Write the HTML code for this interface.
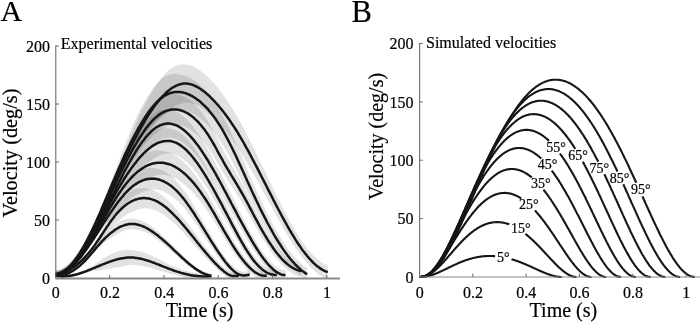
<!DOCTYPE html>
<html lang="en">
<head>
<meta charset="utf-8">
<title>Experimental and simulated velocities</title>
<style>
html,body{margin:0;padding:0;background:#fff;}
body{width:700px;height:322px;overflow:hidden;font-family:"Liberation Serif",serif;}
svg{display:block;transform:translateZ(0);will-change:transform;}
</style>
</head>
<body>
<svg width="700" height="322" viewBox="0 0 700 322">
<rect width="700" height="322" fill="#ffffff"/>
<g fill="#000000" fill-opacity="0.115" stroke="none">
<path d="M55.5,274.1 L56.6,274.3 L57.7,274.5 L58.8,274.6 L59.8,274.7 L60.9,274.8 L62.0,274.8 L63.1,274.8 L64.2,274.8 L65.3,274.8 L66.3,274.7 L67.4,274.6 L68.5,274.4 L69.6,274.3 L70.7,274.1 L71.8,273.9 L72.9,273.7 L73.9,273.4 L75.0,273.2 L76.1,272.9 L77.2,272.6 L78.3,272.3 L79.4,271.9 L80.5,271.6 L81.5,271.2 L82.6,270.8 L83.7,270.3 L84.8,269.9 L85.9,269.4 L87.0,268.9 L88.0,268.4 L89.1,267.9 L90.2,267.3 L91.3,266.7 L92.4,266.0 L93.5,265.3 L94.6,264.6 L95.6,263.9 L96.7,263.1 L97.8,262.3 L98.9,261.5 L100.0,260.7 L101.1,259.9 L102.1,259.1 L103.2,258.4 L104.3,257.7 L105.4,257.0 L106.5,256.4 L107.6,255.8 L108.7,255.2 L109.7,254.7 L110.8,254.2 L111.9,253.7 L113.0,253.2 L114.1,252.7 L115.2,252.3 L116.2,251.8 L117.3,251.4 L118.4,251.1 L119.5,250.7 L120.6,250.4 L121.7,250.2 L122.8,250.0 L123.8,249.9 L124.9,249.8 L126.0,249.8 L127.1,249.8 L128.2,249.8 L129.3,249.8 L130.4,249.9 L131.4,250.0 L132.5,250.1 L133.6,250.2 L134.7,250.3 L135.8,250.5 L136.9,250.7 L137.9,250.9 L139.0,251.2 L140.1,251.5 L141.2,251.8 L142.3,252.1 L143.4,252.5 L144.5,252.8 L145.5,253.2 L146.6,253.6 L147.7,254.1 L148.8,254.5 L149.9,255.0 L151.0,255.5 L152.0,255.9 L153.1,256.4 L154.2,257.0 L155.3,257.5 L156.4,258.0 L157.5,258.5 L158.6,259.1 L159.6,259.6 L160.7,260.2 L161.8,260.7 L162.9,261.3 L164.0,261.8 L165.1,262.3 L166.1,262.9 L167.2,263.4 L168.3,263.9 L169.4,264.4 L170.5,264.9 L171.6,265.4 L172.7,265.9 L173.7,266.4 L174.8,266.8 L175.9,267.3 L177.0,267.7 L178.1,268.1 L179.2,268.5 L180.3,268.9 L181.3,269.3 L182.4,269.7 L183.5,270.0 L184.6,270.4 L185.7,270.7 L186.8,271.0 L187.8,271.3 L188.9,271.5 L190.0,271.8 L191.1,272.0 L192.2,272.3 L193.3,272.5 L194.4,272.7 L195.4,272.8 L196.5,273.0 L197.6,273.1 L198.7,273.2 L199.8,273.3 L200.9,273.4 L201.9,273.5 L203.0,273.5 L204.1,273.6 L205.2,273.6 L206.3,273.6 L207.4,273.5 L208.5,273.5 L209.5,273.4 L210.6,273.3 L211.4,273.2 L211.4,278.6 L210.6,278.6 L209.5,278.6 L208.5,278.6 L207.4,278.6 L206.3,278.6 L205.2,278.6 L204.1,278.6 L203.0,278.6 L201.9,278.6 L200.9,278.6 L199.8,278.6 L198.7,278.6 L197.6,278.6 L196.5,278.6 L195.4,278.6 L194.4,278.6 L193.3,278.6 L192.2,278.4 L191.1,278.3 L190.0,278.1 L188.9,278.0 L187.8,277.8 L186.8,277.6 L185.7,277.4 L184.6,277.2 L183.5,276.9 L182.4,276.7 L181.3,276.5 L180.3,276.2 L179.2,276.0 L178.1,275.7 L177.0,275.4 L175.9,275.2 L174.8,274.9 L173.7,274.6 L172.7,274.3 L171.6,274.0 L170.5,273.7 L169.4,273.4 L168.3,273.1 L167.2,272.7 L166.1,272.4 L165.1,272.1 L164.0,271.8 L162.9,271.4 L161.8,271.1 L160.7,270.8 L159.6,270.5 L158.6,270.2 L157.5,269.8 L156.4,269.5 L155.3,269.2 L154.2,268.9 L153.1,268.6 L152.0,268.3 L151.0,268.0 L149.9,267.8 L148.8,267.5 L147.7,267.2 L146.6,267.0 L145.5,266.7 L144.5,266.5 L143.4,266.3 L142.3,266.1 L141.2,265.9 L140.1,265.7 L139.0,265.6 L137.9,265.5 L136.9,265.3 L135.8,265.2 L134.7,265.2 L133.6,265.1 L132.5,265.1 L131.4,265.1 L130.4,265.1 L129.3,265.2 L128.2,265.3 L127.1,265.5 L126.0,265.7 L124.9,265.9 L123.8,266.1 L122.8,266.3 L121.7,266.5 L120.6,266.7 L119.5,266.9 L118.4,267.1 L117.3,267.2 L116.2,267.4 L115.2,267.6 L114.1,267.8 L113.0,268.0 L111.9,268.2 L110.8,268.5 L109.7,268.7 L108.7,269.0 L107.6,269.2 L106.5,269.4 L105.4,269.6 L104.3,269.8 L103.2,270.0 L102.1,270.1 L101.1,270.3 L100.0,270.4 L98.9,270.5 L97.8,270.5 L96.7,270.7 L95.6,270.8 L94.6,270.9 L93.5,271.1 L92.4,271.3 L91.3,271.6 L90.2,271.8 L89.1,272.1 L88.0,272.4 L87.0,272.8 L85.9,273.1 L84.8,273.4 L83.7,273.8 L82.6,274.1 L81.5,274.5 L80.5,274.8 L79.4,275.1 L78.3,275.4 L77.2,275.7 L76.1,276.0 L75.0,276.3 L73.9,276.6 L72.9,276.8 L71.8,277.0 L70.7,277.2 L69.6,277.4 L68.5,277.5 L67.4,277.6 L66.3,277.7 L65.3,277.8 L64.2,277.9 L63.1,277.9 L62.0,277.9 L60.9,277.8 L59.8,277.8 L58.8,277.7 L57.7,277.5 L56.6,277.4 L55.5,277.2Z"/>
<path d="M55.5,274.0 L56.6,274.1 L57.7,274.2 L58.8,274.2 L59.8,274.1 L60.9,274.0 L62.0,273.9 L63.1,273.7 L64.2,273.4 L65.3,273.1 L66.3,272.8 L67.4,272.4 L68.5,271.9 L69.6,271.4 L70.7,270.9 L71.8,270.3 L72.9,269.7 L73.9,269.0 L75.0,268.3 L76.1,267.5 L77.2,266.7 L78.3,265.9 L79.4,265.0 L80.5,264.0 L81.5,263.0 L82.6,262.0 L83.7,260.9 L84.8,259.8 L85.9,258.6 L87.0,257.4 L88.0,256.1 L89.1,254.8 L90.2,253.5 L91.3,252.1 L92.4,250.7 L93.5,249.2 L94.6,247.8 L95.6,246.3 L96.7,244.8 L97.8,243.3 L98.9,241.8 L100.0,240.3 L101.1,238.9 L102.1,237.5 L103.2,236.1 L104.3,234.8 L105.4,233.6 L106.5,232.4 L107.6,231.2 L108.7,230.1 L109.7,229.1 L110.8,228.1 L111.9,227.2 L113.0,226.2 L114.1,225.4 L115.2,224.5 L116.2,223.7 L117.3,223.0 L118.4,222.3 L119.5,221.6 L120.6,221.0 L121.7,220.5 L122.8,220.1 L123.8,219.7 L124.9,219.4 L126.0,219.1 L127.1,218.9 L128.2,218.8 L129.3,218.7 L130.4,218.6 L131.4,218.6 L132.5,218.7 L133.6,218.8 L134.7,218.9 L135.8,219.1 L136.9,219.3 L137.9,219.5 L139.0,219.9 L140.1,220.2 L141.2,220.6 L142.3,221.0 L143.4,221.5 L144.5,222.0 L145.5,222.6 L146.6,223.2 L147.7,223.8 L148.8,224.5 L149.9,225.2 L151.0,225.9 L152.0,226.7 L153.1,227.5 L154.2,228.3 L155.3,229.2 L156.4,230.0 L157.5,230.9 L158.6,231.9 L159.6,232.8 L160.7,233.8 L161.8,234.7 L162.9,235.7 L164.0,236.8 L165.1,237.8 L166.1,238.8 L167.2,239.9 L168.3,240.9 L169.4,242.0 L170.5,243.1 L171.6,244.2 L172.7,245.3 L173.7,246.4 L174.8,247.5 L175.9,248.6 L177.0,249.7 L178.1,250.8 L179.2,251.9 L180.3,252.9 L181.3,254.0 L182.4,255.1 L183.5,256.1 L184.6,257.2 L185.7,258.2 L186.8,259.2 L187.8,260.2 L188.9,261.1 L190.0,262.1 L191.1,263.0 L192.2,263.9 L193.3,264.8 L194.4,265.6 L195.4,266.4 L196.5,267.2 L197.6,267.9 L198.7,268.6 L199.8,269.3 L200.9,269.9 L201.9,270.5 L203.0,271.1 L204.1,271.6 L205.2,272.1 L206.3,272.5 L207.4,272.8 L208.5,273.2 L209.5,273.4 L210.6,273.7 L211.4,273.8 L211.4,277.7 L210.6,277.6 L209.5,277.4 L208.5,277.1 L207.4,276.8 L206.3,276.5 L205.2,276.1 L204.1,275.7 L203.0,275.2 L201.9,274.7 L200.9,274.2 L199.8,273.6 L198.7,273.0 L197.6,272.3 L196.5,271.7 L195.4,271.0 L194.4,270.2 L193.3,269.5 L192.2,268.7 L191.1,267.9 L190.0,267.1 L188.9,266.2 L187.8,265.4 L186.8,264.5 L185.7,263.6 L184.6,262.7 L183.5,261.8 L182.4,260.8 L181.3,259.9 L180.3,259.0 L179.2,258.0 L178.1,257.0 L177.0,256.1 L175.9,255.1 L174.8,254.2 L173.7,253.2 L172.7,252.2 L171.6,251.3 L170.5,250.3 L169.4,249.4 L168.3,248.4 L167.2,247.5 L166.1,246.6 L165.1,245.7 L164.0,244.8 L162.9,243.9 L161.8,243.0 L160.7,242.2 L159.6,241.3 L158.6,240.5 L157.5,239.7 L156.4,238.9 L155.3,238.2 L154.2,237.4 L153.1,236.7 L152.0,236.0 L151.0,235.4 L149.9,234.7 L148.8,234.1 L147.7,233.6 L146.6,233.0 L145.5,232.5 L144.5,232.0 L143.4,231.6 L142.3,231.1 L141.2,230.8 L140.1,230.4 L139.0,230.1 L137.9,229.9 L136.9,229.7 L135.8,229.5 L134.7,229.4 L133.6,229.3 L132.5,229.3 L131.4,229.3 L130.4,229.4 L129.3,229.5 L128.2,229.8 L127.1,230.0 L126.0,230.3 L124.9,230.7 L123.8,231.1 L122.8,231.5 L121.7,231.9 L120.6,232.4 L119.5,232.9 L118.4,233.4 L117.3,233.9 L116.2,234.5 L115.2,235.1 L114.1,235.8 L113.0,236.5 L111.9,237.2 L110.8,238.0 L109.7,238.8 L108.7,239.6 L107.6,240.5 L106.5,241.3 L105.4,242.2 L104.3,243.1 L103.2,244.0 L102.1,244.9 L101.1,245.8 L100.0,246.8 L98.9,247.8 L97.8,248.8 L96.7,249.8 L95.6,250.9 L94.6,252.0 L93.5,253.1 L92.4,254.2 L91.3,255.4 L90.2,256.6 L89.1,257.7 L88.0,258.9 L87.0,260.0 L85.9,261.2 L84.8,262.3 L83.7,263.3 L82.6,264.4 L81.5,265.3 L80.5,266.3 L79.4,267.2 L78.3,268.1 L77.2,268.9 L76.1,269.7 L75.0,270.5 L73.9,271.2 L72.9,271.9 L71.8,272.5 L70.7,273.1 L69.6,273.6 L68.5,274.1 L67.4,274.5 L66.3,274.9 L65.3,275.3 L64.2,275.6 L63.1,275.8 L62.0,276.0 L60.9,276.2 L59.8,276.3 L58.8,276.3 L57.7,276.3 L56.6,276.3 L55.5,276.2Z"/>
<path d="M55.5,272.5 L56.6,272.3 L57.7,272.1 L58.8,271.9 L59.8,271.7 L60.9,271.4 L62.0,271.0 L63.1,270.7 L64.2,270.3 L65.3,269.8 L66.3,269.3 L67.4,268.8 L68.5,268.3 L69.6,267.7 L70.7,267.0 L71.8,266.4 L72.9,265.7 L73.9,264.9 L75.0,264.1 L76.1,263.3 L77.2,262.4 L78.3,261.5 L79.4,260.6 L80.5,259.6 L81.5,258.6 L82.6,257.5 L83.7,256.4 L84.8,255.2 L85.9,254.0 L87.0,252.8 L88.0,251.5 L89.1,250.2 L90.2,248.8 L91.3,247.3 L92.4,245.8 L93.5,244.3 L94.6,242.7 L95.6,241.0 L96.7,239.3 L97.8,237.5 L98.9,235.7 L100.0,233.8 L101.1,231.9 L102.1,229.9 L103.2,227.9 L104.3,225.9 L105.4,223.9 L106.5,221.9 L107.6,219.9 L108.7,217.9 L109.7,215.9 L110.8,214.0 L111.9,212.2 L113.0,210.4 L114.1,208.7 L115.2,207.1 L116.2,205.6 L117.3,204.1 L118.4,202.7 L119.5,201.4 L120.6,200.1 L121.7,198.9 L122.8,197.8 L123.8,196.7 L124.9,195.7 L126.0,194.7 L127.1,193.8 L128.2,192.9 L129.3,192.1 L130.4,191.3 L131.4,190.6 L132.5,190.0 L133.6,189.5 L134.7,189.1 L135.8,188.7 L136.9,188.4 L137.9,188.2 L139.0,188.0 L140.1,187.9 L141.2,187.9 L142.3,187.9 L143.4,187.9 L144.5,188.0 L145.5,188.1 L146.6,188.2 L147.7,188.4 L148.8,188.7 L149.9,188.9 L151.0,189.2 L152.0,189.6 L153.1,190.0 L154.2,190.5 L155.3,191.0 L156.4,191.5 L157.5,192.1 L158.6,192.8 L159.6,193.5 L160.7,194.2 L161.8,195.0 L162.9,195.9 L164.0,196.7 L165.1,197.7 L166.1,198.6 L167.2,199.6 L168.3,200.6 L169.4,201.7 L170.5,202.8 L171.6,203.9 L172.7,205.1 L173.7,206.3 L174.8,207.5 L175.9,208.7 L177.0,210.0 L178.1,211.3 L179.2,212.6 L180.3,213.9 L181.3,215.2 L182.4,216.6 L183.5,218.0 L184.6,219.4 L185.7,220.8 L186.8,222.2 L187.8,223.6 L188.9,225.1 L190.0,226.5 L191.1,228.0 L192.2,229.4 L193.3,230.9 L194.4,232.3 L195.4,233.8 L196.5,235.3 L197.6,236.7 L198.7,238.2 L199.8,239.6 L200.9,241.1 L201.9,242.5 L203.0,243.9 L204.1,245.3 L205.2,246.7 L206.3,248.1 L207.4,249.5 L208.5,250.8 L209.5,252.2 L210.6,253.5 L211.7,254.8 L212.8,256.0 L213.9,257.3 L215.0,258.5 L216.1,259.7 L217.1,260.9 L218.2,262.0 L219.3,263.1 L220.4,264.2 L221.5,265.3 L222.6,266.3 L223.6,267.3 L224.7,268.2 L225.8,269.0 L226.9,269.8 L228.0,270.5 L229.1,271.1 L230.2,271.6 L231.2,272.0 L232.3,272.2 L233.4,272.3 L234.5,272.4 L235.6,272.3 L236.7,272.2 L237.7,272.0 L238.8,271.8 L238.8,278.6 L237.7,278.6 L236.7,278.6 L235.6,278.6 L234.5,278.6 L233.4,278.6 L232.3,278.6 L231.2,278.6 L230.2,278.6 L229.1,278.5 L228.0,278.0 L226.9,277.4 L225.8,276.7 L224.7,275.9 L223.6,275.1 L222.6,274.2 L221.5,273.3 L220.4,272.4 L219.3,271.4 L218.2,270.5 L217.1,269.5 L216.1,268.4 L215.0,267.4 L213.9,266.3 L212.8,265.2 L211.7,264.1 L210.6,263.0 L209.5,261.9 L208.5,260.7 L207.4,259.5 L206.3,258.4 L205.2,257.2 L204.1,256.0 L203.0,254.8 L201.9,253.5 L200.9,252.3 L199.8,251.1 L198.7,249.9 L197.6,248.6 L196.5,247.4 L195.4,246.2 L194.4,244.9 L193.3,243.7 L192.2,242.4 L191.1,241.2 L190.0,240.0 L188.9,238.8 L187.8,237.6 L186.8,236.4 L185.7,235.2 L184.6,234.0 L183.5,232.8 L182.4,231.7 L181.3,230.5 L180.3,229.4 L179.2,228.3 L178.1,227.2 L177.0,226.1 L175.9,225.1 L174.8,224.0 L173.7,223.0 L172.7,222.0 L171.6,221.1 L170.5,220.1 L169.4,219.2 L168.3,218.3 L167.2,217.5 L166.1,216.7 L165.1,215.9 L164.0,215.1 L162.9,214.4 L161.8,213.7 L160.7,213.0 L159.6,212.4 L158.6,211.8 L157.5,211.3 L156.4,210.8 L155.3,210.4 L154.2,209.9 L153.1,209.6 L152.0,209.2 L151.0,209.0 L149.9,208.7 L148.8,208.5 L147.7,208.4 L146.6,208.3 L145.5,208.3 L144.5,208.3 L143.4,208.4 L142.3,208.5 L141.2,208.7 L140.1,209.0 L139.0,209.2 L137.9,209.6 L136.9,210.0 L135.8,210.4 L134.7,210.8 L133.6,211.2 L132.5,211.7 L131.4,212.2 L130.4,212.7 L129.3,213.2 L128.2,213.8 L127.1,214.4 L126.0,215.0 L124.9,215.7 L123.8,216.5 L122.8,217.3 L121.7,218.1 L120.6,219.0 L119.5,220.0 L118.4,221.0 L117.3,222.0 L116.2,223.0 L115.2,224.1 L114.1,225.2 L113.0,226.4 L111.9,227.5 L110.8,228.7 L109.7,229.8 L108.7,231.0 L107.6,232.2 L106.5,233.4 L105.4,234.6 L104.3,235.9 L103.2,237.2 L102.1,238.5 L101.1,239.8 L100.0,241.2 L98.9,242.5 L97.8,243.9 L96.7,245.3 L95.6,246.7 L94.6,248.1 L93.5,249.5 L92.4,250.9 L91.3,252.2 L90.2,253.5 L89.1,254.8 L88.0,256.0 L87.0,257.2 L85.9,258.4 L84.8,259.6 L83.7,260.7 L82.6,261.7 L81.5,262.8 L80.5,263.8 L79.4,264.8 L78.3,265.7 L77.2,266.6 L76.1,267.4 L75.0,268.2 L73.9,269.0 L72.9,269.8 L71.8,270.5 L70.7,271.1 L69.6,271.8 L68.5,272.4 L67.4,272.9 L66.3,273.4 L65.3,273.9 L64.2,274.3 L63.1,274.8 L62.0,275.1 L60.9,275.5 L59.8,275.7 L58.8,276.0 L57.7,276.2 L56.6,276.4 L55.5,276.6Z"/>
<path d="M55.5,272.3 L56.6,272.3 L57.7,272.2 L58.8,272.0 L59.8,271.8 L60.9,271.4 L62.0,271.0 L63.1,270.6 L64.2,270.0 L65.3,269.4 L66.3,268.7 L67.4,268.0 L68.5,267.2 L69.6,266.4 L70.7,265.4 L71.8,264.5 L72.9,263.5 L73.9,262.4 L75.0,261.3 L76.1,260.1 L77.2,258.9 L78.3,257.6 L79.4,256.3 L80.5,255.0 L81.5,253.6 L82.6,252.2 L83.7,250.8 L84.8,249.3 L85.9,247.8 L87.0,246.2 L88.0,244.7 L89.1,243.1 L90.2,241.5 L91.3,239.8 L92.4,238.1 L93.5,236.4 L94.6,234.7 L95.6,233.0 L96.7,231.2 L97.8,229.4 L98.9,227.6 L100.0,225.7 L101.1,223.8 L102.1,222.0 L103.2,220.0 L104.3,218.1 L105.4,216.1 L106.5,214.1 L107.6,212.1 L108.7,210.1 L109.7,208.1 L110.8,206.1 L111.9,204.1 L113.0,202.2 L114.1,200.2 L115.2,198.4 L116.2,196.5 L117.3,194.7 L118.4,193.0 L119.5,191.3 L120.6,189.7 L121.7,188.1 L122.8,186.6 L123.8,185.2 L124.9,183.8 L126.0,182.5 L127.1,181.2 L128.2,180.0 L129.3,178.8 L130.4,177.7 L131.4,176.6 L132.5,175.6 L133.6,174.6 L134.7,173.7 L135.8,172.8 L136.9,172.0 L137.9,171.3 L139.0,170.6 L140.1,170.0 L141.2,169.5 L142.3,169.1 L143.4,168.7 L144.5,168.4 L145.5,168.2 L146.6,168.0 L147.7,167.9 L148.8,167.8 L149.9,167.8 L151.0,167.8 L152.0,167.8 L153.1,167.9 L154.2,168.1 L155.3,168.2 L156.4,168.4 L157.5,168.7 L158.6,169.0 L159.6,169.3 L160.7,169.7 L161.8,170.2 L162.9,170.7 L164.0,171.2 L165.1,171.8 L166.1,172.4 L167.2,173.1 L168.3,173.9 L169.4,174.7 L170.5,175.5 L171.6,176.4 L172.7,177.4 L173.7,178.4 L174.8,179.4 L175.9,180.5 L177.0,181.7 L178.1,182.9 L179.2,184.1 L180.3,185.5 L181.3,186.8 L182.4,188.2 L183.5,189.7 L184.6,191.2 L185.7,192.7 L186.8,194.3 L187.8,195.9 L188.9,197.5 L190.0,199.2 L191.1,200.9 L192.2,202.7 L193.3,204.4 L194.4,206.2 L195.4,208.0 L196.5,209.9 L197.6,211.7 L198.7,213.5 L199.8,215.4 L200.9,217.3 L201.9,219.2 L203.0,221.1 L204.1,223.0 L205.2,224.9 L206.3,226.7 L207.4,228.6 L208.5,230.5 L209.5,232.4 L210.6,234.2 L211.7,236.1 L212.8,237.9 L213.9,239.7 L215.0,241.5 L216.1,243.3 L217.1,245.1 L218.2,246.8 L219.3,248.5 L220.4,250.1 L221.5,251.8 L222.6,253.4 L223.6,254.9 L224.7,256.5 L225.8,257.9 L226.9,259.4 L228.0,260.7 L229.1,262.1 L230.2,263.3 L231.2,264.5 L232.3,265.6 L233.4,266.6 L234.5,267.6 L235.6,268.4 L236.7,269.2 L237.7,269.9 L238.8,270.4 L239.9,270.8 L241.0,271.2 L242.1,271.4 L243.2,271.5 L244.3,271.5 L245.3,271.5 L246.4,271.3 L247.5,271.1 L248.6,270.8 L249.7,270.5 L249.7,278.4 L248.6,278.6 L247.5,278.6 L246.4,278.6 L245.3,278.6 L244.3,278.6 L243.2,278.6 L242.1,278.6 L241.0,278.6 L239.9,278.6 L238.8,278.3 L237.7,277.7 L236.7,277.1 L235.6,276.4 L234.5,275.7 L233.4,274.8 L232.3,273.9 L231.2,272.9 L230.2,271.8 L229.1,270.7 L228.0,269.5 L226.9,268.3 L225.8,267.0 L224.7,265.7 L223.6,264.3 L222.6,262.9 L221.5,261.5 L220.4,260.1 L219.3,258.6 L218.2,257.1 L217.1,255.6 L216.1,254.0 L215.0,252.5 L213.9,250.9 L212.8,249.3 L211.7,247.7 L210.6,246.1 L209.5,244.4 L208.5,242.8 L207.4,241.2 L206.3,239.5 L205.2,237.9 L204.1,236.2 L203.0,234.6 L201.9,233.0 L200.9,231.3 L199.8,229.7 L198.7,228.1 L197.6,226.5 L196.5,224.9 L195.4,223.3 L194.4,221.8 L193.3,220.2 L192.2,218.7 L191.1,217.2 L190.0,215.8 L188.9,214.3 L187.8,212.9 L186.8,211.5 L185.7,210.2 L184.6,208.8 L183.5,207.6 L182.4,206.3 L181.3,205.1 L180.3,204.0 L179.2,202.8 L178.1,201.8 L177.0,200.7 L175.9,199.8 L174.8,198.8 L173.7,197.9 L172.7,197.1 L171.6,196.3 L170.5,195.5 L169.4,194.8 L168.3,194.1 L167.2,193.5 L166.1,192.9 L165.1,192.3 L164.0,191.8 L162.9,191.4 L161.8,190.9 L160.7,190.6 L159.6,190.3 L158.6,190.0 L157.5,189.8 L156.4,189.6 L155.3,189.5 L154.2,189.4 L153.1,189.4 L152.0,189.4 L151.0,189.5 L149.9,189.7 L148.8,189.9 L147.7,190.2 L146.6,190.5 L145.5,190.8 L144.5,191.2 L143.4,191.7 L142.3,192.1 L141.2,192.6 L140.1,193.1 L139.0,193.6 L137.9,194.2 L136.9,194.7 L135.8,195.3 L134.7,195.9 L133.6,196.6 L132.5,197.3 L131.4,198.0 L130.4,198.8 L129.3,199.7 L128.2,200.6 L127.1,201.5 L126.0,202.5 L124.9,203.5 L123.8,204.6 L122.8,205.7 L121.7,206.8 L120.6,207.9 L119.5,209.0 L118.4,210.2 L117.3,211.3 L116.2,212.5 L115.2,213.6 L114.1,214.8 L113.0,216.0 L111.9,217.2 L110.8,218.4 L109.7,219.6 L108.7,220.8 L107.6,222.1 L106.5,223.5 L105.4,224.8 L104.3,226.2 L103.2,227.6 L102.1,229.1 L101.1,230.6 L100.0,232.1 L98.9,233.6 L97.8,235.2 L96.7,236.7 L95.6,238.3 L94.6,239.9 L93.5,241.5 L92.4,243.1 L91.3,244.6 L90.2,246.2 L89.1,247.8 L88.0,249.3 L87.0,250.8 L85.9,252.3 L84.8,253.8 L83.7,255.3 L82.6,256.7 L81.5,258.1 L80.5,259.4 L79.4,260.7 L78.3,262.0 L77.2,263.3 L76.1,264.5 L75.0,265.6 L73.9,266.8 L72.9,267.8 L71.8,268.8 L70.7,269.8 L69.6,270.7 L68.5,271.6 L67.4,272.4 L66.3,273.1 L65.3,273.8 L64.2,274.4 L63.1,274.9 L62.0,275.4 L60.9,275.8 L59.8,276.1 L58.8,276.4 L57.7,276.5 L56.6,276.6 L55.5,276.7Z"/>
<path d="M55.5,272.0 L56.6,272.1 L57.7,272.0 L58.8,271.9 L59.8,271.7 L60.9,271.4 L62.0,271.0 L63.1,270.5 L64.2,270.0 L65.3,269.4 L66.3,268.7 L67.4,267.9 L68.5,267.1 L69.6,266.2 L70.7,265.2 L71.8,264.2 L72.9,263.1 L73.9,261.9 L75.0,260.7 L76.1,259.5 L77.2,258.2 L78.3,256.8 L79.4,255.4 L80.5,254.0 L81.5,252.5 L82.6,251.0 L83.7,249.4 L84.8,247.8 L85.9,246.1 L87.0,244.4 L88.0,242.7 L89.1,241.0 L90.2,239.2 L91.3,237.4 L92.4,235.6 L93.5,233.7 L94.6,231.9 L95.6,230.0 L96.7,228.0 L97.8,226.1 L98.9,224.1 L100.0,222.1 L101.1,220.1 L102.1,218.1 L103.2,216.1 L104.3,214.0 L105.4,211.9 L106.5,209.8 L107.6,207.7 L108.7,205.6 L109.7,203.4 L110.8,201.3 L111.9,199.1 L113.0,196.9 L114.1,194.8 L115.2,192.6 L116.2,190.5 L117.3,188.4 L118.4,186.4 L119.5,184.4 L120.6,182.4 L121.7,180.5 L122.8,178.7 L123.8,176.9 L124.9,175.2 L126.0,173.6 L127.1,172.0 L128.2,170.5 L129.3,169.1 L130.4,167.7 L131.4,166.4 L132.5,165.1 L133.6,163.9 L134.7,162.7 L135.8,161.6 L136.9,160.5 L137.9,159.5 L139.0,158.5 L140.1,157.5 L141.2,156.6 L142.3,155.8 L143.4,155.0 L144.5,154.3 L145.5,153.6 L146.6,153.0 L147.7,152.5 L148.8,152.0 L149.9,151.7 L151.0,151.3 L152.0,151.1 L153.1,150.9 L154.2,150.7 L155.3,150.6 L156.4,150.6 L157.5,150.6 L158.6,150.6 L159.6,150.6 L160.7,150.7 L161.8,150.8 L162.9,150.9 L164.0,151.1 L165.1,151.4 L166.1,151.6 L167.2,151.9 L168.3,152.3 L169.4,152.6 L170.5,153.1 L171.6,153.6 L172.7,154.1 L173.7,154.6 L174.8,155.3 L175.9,155.9 L177.0,156.6 L178.1,157.4 L179.2,158.1 L180.3,159.0 L181.3,159.9 L182.4,160.8 L183.5,161.8 L184.6,162.8 L185.7,163.8 L186.8,164.9 L187.8,166.1 L188.9,167.3 L190.0,168.5 L191.1,169.8 L192.2,171.1 L193.3,172.4 L194.4,173.8 L195.4,175.2 L196.5,176.7 L197.6,178.2 L198.7,179.7 L199.8,181.3 L200.9,182.9 L201.9,184.6 L203.0,186.3 L204.1,188.0 L205.2,189.8 L206.3,191.6 L207.4,193.4 L208.5,195.3 L209.5,197.2 L210.6,199.1 L211.7,201.0 L212.8,203.0 L213.9,205.0 L215.0,207.0 L216.1,209.0 L217.1,211.0 L218.2,213.0 L219.3,215.1 L220.4,217.1 L221.5,219.1 L222.6,221.2 L223.6,223.2 L224.7,225.2 L225.8,227.2 L226.9,229.2 L228.0,231.1 L229.1,233.1 L230.2,235.0 L231.2,236.9 L232.3,238.7 L233.4,240.6 L234.5,242.4 L235.6,244.1 L236.7,245.8 L237.7,247.5 L238.8,249.2 L239.9,250.8 L241.0,252.3 L242.1,253.8 L243.2,255.3 L244.3,256.7 L245.3,258.0 L246.4,259.4 L247.5,260.6 L248.6,261.8 L249.7,262.9 L250.8,264.0 L251.8,265.0 L252.9,266.0 L254.0,266.9 L255.1,267.7 L256.2,268.5 L257.3,269.1 L258.4,269.7 L259.4,270.3 L260.5,270.7 L261.6,271.0 L262.7,271.3 L263.8,271.4 L264.9,271.4 L266.0,271.3 L266.8,271.2 L266.8,278.6 L266.0,278.6 L264.9,278.6 L263.8,278.6 L262.7,278.6 L261.6,278.6 L260.5,278.6 L259.4,278.6 L258.4,278.5 L257.3,277.9 L256.2,277.3 L255.1,276.6 L254.0,275.9 L252.9,275.0 L251.8,274.2 L250.8,273.2 L249.7,272.3 L248.6,271.2 L247.5,270.2 L246.4,269.0 L245.3,267.8 L244.3,266.6 L243.2,265.4 L242.1,264.0 L241.0,262.7 L239.9,261.3 L238.8,259.9 L237.7,258.4 L236.7,256.9 L235.6,255.4 L234.5,253.8 L233.4,252.2 L232.3,250.6 L231.2,249.0 L230.2,247.3 L229.1,245.6 L228.0,243.9 L226.9,242.2 L225.8,240.4 L224.7,238.7 L223.6,236.9 L222.6,235.2 L221.5,233.4 L220.4,231.6 L219.3,229.8 L218.2,228.1 L217.1,226.3 L216.1,224.5 L215.0,222.8 L213.9,221.0 L212.8,219.3 L211.7,217.6 L210.6,215.9 L209.5,214.3 L208.5,212.6 L207.4,211.0 L206.3,209.4 L205.2,207.9 L204.1,206.3 L203.0,204.9 L201.9,203.4 L200.9,202.0 L199.8,200.6 L198.7,199.2 L197.6,197.9 L196.5,196.6 L195.4,195.3 L194.4,194.1 L193.3,192.9 L192.2,191.7 L191.1,190.6 L190.0,189.5 L188.9,188.5 L187.8,187.5 L186.8,186.5 L185.7,185.5 L184.6,184.6 L183.5,183.8 L182.4,182.9 L181.3,182.1 L180.3,181.4 L179.2,180.7 L178.1,180.0 L177.0,179.3 L175.9,178.7 L174.8,178.2 L173.7,177.7 L172.7,177.2 L171.6,176.7 L170.5,176.3 L169.4,176.0 L168.3,175.7 L167.2,175.4 L166.1,175.2 L165.1,175.0 L164.0,174.8 L162.9,174.7 L161.8,174.7 L160.7,174.7 L159.6,174.7 L158.6,174.8 L157.5,175.0 L156.4,175.2 L155.3,175.5 L154.2,175.8 L153.1,176.1 L152.0,176.5 L151.0,176.9 L149.9,177.4 L148.8,177.8 L147.7,178.3 L146.6,178.8 L145.5,179.3 L144.5,179.8 L143.4,180.4 L142.3,181.0 L141.2,181.6 L140.1,182.2 L139.0,182.9 L137.9,183.6 L136.9,184.3 L135.8,185.1 L134.7,186.0 L133.6,186.9 L132.5,187.8 L131.4,188.8 L130.4,189.8 L129.3,190.8 L128.2,191.9 L127.1,193.0 L126.0,194.1 L124.9,195.2 L123.8,196.4 L122.8,197.6 L121.7,198.8 L120.6,200.0 L119.5,201.2 L118.4,202.4 L117.3,203.7 L116.2,205.0 L115.2,206.3 L114.1,207.6 L113.0,209.0 L111.9,210.4 L110.8,211.9 L109.7,213.4 L108.7,214.9 L107.6,216.5 L106.5,218.1 L105.4,219.7 L104.3,221.4 L103.2,223.1 L102.1,224.8 L101.1,226.6 L100.0,228.4 L98.9,230.1 L97.8,231.9 L96.7,233.7 L95.6,235.5 L94.6,237.3 L93.5,239.1 L92.4,240.9 L91.3,242.6 L90.2,244.4 L89.1,246.1 L88.0,247.8 L87.0,249.5 L85.9,251.1 L84.8,252.8 L83.7,254.3 L82.6,255.9 L81.5,257.4 L80.5,258.9 L79.4,260.3 L78.3,261.7 L77.2,263.1 L76.1,264.4 L75.0,265.6 L73.9,266.8 L72.9,268.0 L71.8,269.0 L70.7,270.1 L69.6,271.0 L68.5,271.9 L67.4,272.8 L66.3,273.5 L65.3,274.2 L64.2,274.8 L63.1,275.4 L62.0,275.8 L60.9,276.2 L59.8,276.5 L58.8,276.7 L57.7,276.9 L56.6,276.9 L55.5,276.9Z"/>
<path d="M55.5,272.0 L56.6,271.7 L57.7,271.4 L58.8,271.1 L59.8,270.7 L60.9,270.2 L62.0,269.7 L63.1,269.1 L64.2,268.5 L65.3,267.8 L66.3,267.1 L67.4,266.3 L68.5,265.5 L69.6,264.6 L70.7,263.7 L71.8,262.7 L72.9,261.6 L73.9,260.5 L75.0,259.4 L76.1,258.2 L77.2,256.9 L78.3,255.6 L79.4,254.3 L80.5,252.9 L81.5,251.4 L82.6,249.9 L83.7,248.4 L84.8,246.7 L85.9,245.1 L87.0,243.4 L88.0,241.6 L89.1,239.8 L90.2,237.9 L91.3,236.0 L92.4,234.1 L93.5,232.1 L94.6,230.1 L95.6,228.1 L96.7,226.0 L97.8,223.9 L98.9,221.8 L100.0,219.7 L101.1,217.5 L102.1,215.3 L103.2,213.1 L104.3,210.9 L105.4,208.7 L106.5,206.5 L107.6,204.2 L108.7,202.0 L109.7,199.8 L110.8,197.5 L111.9,195.2 L113.0,193.0 L114.1,190.7 L115.2,188.4 L116.2,186.2 L117.3,183.9 L118.4,181.6 L119.5,179.4 L120.6,177.2 L121.7,175.0 L122.8,172.8 L123.8,170.7 L124.9,168.7 L126.0,166.6 L127.1,164.6 L128.2,162.7 L129.3,160.9 L130.4,159.0 L131.4,157.3 L132.5,155.6 L133.6,153.9 L134.7,152.3 L135.8,150.8 L136.9,149.3 L137.9,147.8 L139.0,146.4 L140.1,145.0 L141.2,143.7 L142.3,142.4 L143.4,141.1 L144.5,139.9 L145.5,138.7 L146.6,137.6 L147.7,136.5 L148.8,135.5 L149.9,134.5 L151.0,133.6 L152.0,132.8 L153.1,132.0 L154.2,131.3 L155.3,130.7 L156.4,130.2 L157.5,129.7 L158.6,129.3 L159.6,129.0 L160.7,128.7 L161.8,128.5 L162.9,128.3 L164.0,128.2 L165.1,128.2 L166.1,128.2 L167.2,128.2 L168.3,128.3 L169.4,128.4 L170.5,128.6 L171.6,128.8 L172.7,129.1 L173.7,129.5 L174.8,129.9 L175.9,130.4 L177.0,131.0 L178.1,131.6 L179.2,132.3 L180.3,133.0 L181.3,133.8 L182.4,134.7 L183.5,135.6 L184.6,136.6 L185.7,137.7 L186.8,138.8 L187.8,140.0 L188.9,141.2 L190.0,142.5 L191.1,143.8 L192.2,145.2 L193.3,146.6 L194.4,148.1 L195.4,149.6 L196.5,151.2 L197.6,152.8 L198.7,154.4 L199.8,156.1 L200.9,157.9 L201.9,159.6 L203.0,161.4 L204.1,163.2 L205.2,165.1 L206.3,167.0 L207.4,168.9 L208.5,170.9 L209.5,172.9 L210.6,174.9 L211.7,176.9 L212.8,178.9 L213.9,181.0 L215.0,183.1 L216.1,185.2 L217.1,187.3 L218.2,189.4 L219.3,191.6 L220.4,193.7 L221.5,195.9 L222.6,198.1 L223.6,200.3 L224.7,202.4 L225.8,204.6 L226.9,206.8 L228.0,209.0 L229.1,211.2 L230.2,213.4 L231.2,215.6 L232.3,217.7 L233.4,219.9 L234.5,222.1 L235.6,224.2 L236.7,226.3 L237.7,228.5 L238.8,230.5 L239.9,232.6 L241.0,234.6 L242.1,236.6 L243.2,238.6 L244.3,240.5 L245.3,242.4 L246.4,244.3 L247.5,246.1 L248.6,247.8 L249.7,249.5 L250.8,251.2 L251.8,252.8 L252.9,254.3 L254.0,255.7 L255.1,257.1 L256.2,258.5 L257.3,259.7 L258.4,260.9 L259.4,262.1 L260.5,263.1 L261.6,264.1 L262.7,265.0 L263.8,265.9 L264.9,266.7 L266.0,267.4 L267.0,268.0 L268.1,268.6 L269.2,269.0 L270.3,269.5 L271.4,269.8 L272.5,270.1 L273.5,270.2 L274.6,270.3 L275.7,270.4 L276.8,270.3 L276.8,278.6 L275.7,278.6 L274.6,278.6 L273.5,278.6 L272.5,278.6 L271.4,278.6 L270.3,278.6 L269.2,278.2 L268.1,277.8 L267.0,277.2 L266.0,276.7 L264.9,276.0 L263.8,275.3 L262.7,274.5 L261.6,273.7 L260.5,272.7 L259.4,271.8 L258.4,270.7 L257.3,269.6 L256.2,268.5 L255.1,267.3 L254.0,266.0 L252.9,264.6 L251.8,263.3 L250.8,261.8 L249.7,260.3 L248.6,258.8 L247.5,257.2 L246.4,255.6 L245.3,253.9 L244.3,252.2 L243.2,250.5 L242.1,248.7 L241.0,246.9 L239.9,245.1 L238.8,243.2 L237.7,241.3 L236.7,239.5 L235.6,237.6 L234.5,235.6 L233.4,233.7 L232.3,231.8 L231.2,229.8 L230.2,227.9 L229.1,226.0 L228.0,224.0 L226.9,222.1 L225.8,220.1 L224.7,218.2 L223.6,216.2 L222.6,214.3 L221.5,212.4 L220.4,210.5 L219.3,208.6 L218.2,206.7 L217.1,204.8 L216.1,202.9 L215.0,201.1 L213.9,199.2 L212.8,197.4 L211.7,195.6 L210.6,193.8 L209.5,192.1 L208.5,190.3 L207.4,188.6 L206.3,186.9 L205.2,185.3 L204.1,183.6 L203.0,182.0 L201.9,180.5 L200.9,178.9 L199.8,177.4 L198.7,175.9 L197.6,174.5 L196.5,173.1 L195.4,171.7 L194.4,170.4 L193.3,169.1 L192.2,167.8 L191.1,166.6 L190.0,165.5 L188.9,164.4 L187.8,163.3 L186.8,162.3 L185.7,161.3 L184.6,160.4 L183.5,159.5 L182.4,158.7 L181.3,157.9 L180.3,157.2 L179.2,156.6 L178.1,156.0 L177.0,155.5 L175.9,155.0 L174.8,154.6 L173.7,154.3 L172.7,154.0 L171.6,153.8 L170.5,153.6 L169.4,153.6 L168.3,153.5 L167.2,153.6 L166.1,153.7 L165.1,153.9 L164.0,154.1 L162.9,154.4 L161.8,154.8 L160.7,155.2 L159.6,155.6 L158.6,156.2 L157.5,156.7 L156.4,157.3 L155.3,157.9 L154.2,158.5 L153.1,159.2 L152.0,159.9 L151.0,160.6 L149.9,161.3 L148.8,162.0 L147.7,162.8 L146.6,163.6 L145.5,164.5 L144.5,165.4 L143.4,166.3 L142.3,167.3 L141.2,168.3 L140.1,169.4 L139.0,170.5 L137.9,171.6 L136.9,172.8 L135.8,174.0 L134.7,175.2 L133.6,176.5 L132.5,177.7 L131.4,179.0 L130.4,180.3 L129.3,181.6 L128.2,182.9 L127.1,184.2 L126.0,185.6 L124.9,186.9 L123.8,188.2 L122.8,189.6 L121.7,191.0 L120.6,192.4 L119.5,193.8 L118.4,195.2 L117.3,196.7 L116.2,198.2 L115.2,199.8 L114.1,201.4 L113.0,203.0 L111.9,204.7 L110.8,206.5 L109.7,208.2 L108.7,210.1 L107.6,211.9 L106.5,213.8 L105.4,215.7 L104.3,217.7 L103.2,219.7 L102.1,221.7 L101.1,223.7 L100.0,225.7 L98.9,227.7 L97.8,229.7 L96.7,231.7 L95.6,233.7 L94.6,235.6 L93.5,237.6 L92.4,239.5 L91.3,241.4 L90.2,243.3 L89.1,245.1 L88.0,246.9 L87.0,248.6 L85.9,250.3 L84.8,251.9 L83.7,253.5 L82.6,255.1 L81.5,256.6 L80.5,258.0 L79.4,259.4 L78.3,260.8 L77.2,262.1 L76.1,263.3 L75.0,264.5 L73.9,265.7 L72.9,266.8 L71.8,267.8 L70.7,268.8 L69.6,269.7 L68.5,270.6 L67.4,271.4 L66.3,272.2 L65.3,272.9 L64.2,273.6 L63.1,274.2 L62.0,274.8 L60.9,275.3 L59.8,275.8 L58.8,276.2 L57.7,276.5 L56.6,276.8 L55.5,277.1Z"/>
<path d="M55.5,271.7 L56.6,271.6 L57.7,271.4 L58.8,271.2 L59.8,270.8 L60.9,270.4 L62.0,269.9 L63.1,269.4 L64.2,268.7 L65.3,268.0 L66.3,267.2 L67.4,266.4 L68.5,265.4 L69.6,264.5 L70.7,263.4 L71.8,262.3 L72.9,261.1 L73.9,259.9 L75.0,258.6 L76.1,257.3 L77.2,255.9 L78.3,254.5 L79.4,253.0 L80.5,251.4 L81.5,249.9 L82.6,248.2 L83.7,246.5 L84.8,244.8 L85.9,243.1 L87.0,241.3 L88.0,239.4 L89.1,237.5 L90.2,235.6 L91.3,233.7 L92.4,231.7 L93.5,229.7 L94.6,227.7 L95.6,225.6 L96.7,223.5 L97.8,221.4 L98.9,219.2 L100.0,217.0 L101.1,214.8 L102.1,212.6 L103.2,210.3 L104.3,208.0 L105.4,205.7 L106.5,203.4 L107.6,201.0 L108.7,198.6 L109.7,196.2 L110.8,193.8 L111.9,191.3 L113.0,188.8 L114.1,186.3 L115.2,183.7 L116.2,181.2 L117.3,178.6 L118.4,176.0 L119.5,173.5 L120.6,170.9 L121.7,168.3 L122.8,165.8 L123.8,163.3 L124.9,160.8 L126.0,158.4 L127.1,156.0 L128.2,153.7 L129.3,151.4 L130.4,149.2 L131.4,147.0 L132.5,144.9 L133.6,142.8 L134.7,140.8 L135.8,138.9 L136.9,137.0 L137.9,135.1 L139.0,133.3 L140.1,131.6 L141.2,129.9 L142.3,128.2 L143.4,126.6 L144.5,125.1 L145.5,123.5 L146.6,122.1 L147.7,120.7 L148.8,119.4 L149.9,118.1 L151.0,117.0 L152.0,115.9 L153.1,114.9 L154.2,114.0 L155.3,113.1 L156.4,112.4 L157.5,111.8 L158.6,111.2 L159.6,110.8 L160.7,110.4 L161.8,110.1 L162.9,109.9 L164.0,109.7 L165.1,109.6 L166.1,109.6 L167.2,109.6 L168.3,109.6 L169.4,109.7 L170.5,109.9 L171.6,110.2 L172.7,110.4 L173.7,110.8 L174.8,111.2 L175.9,111.6 L177.0,112.2 L178.1,112.7 L179.2,113.4 L180.3,114.1 L181.3,114.9 L182.4,115.7 L183.5,116.6 L184.6,117.5 L185.7,118.5 L186.8,119.6 L187.8,120.7 L188.9,121.8 L190.0,123.1 L191.1,124.3 L192.2,125.6 L193.3,127.0 L194.4,128.4 L195.4,129.9 L196.5,131.4 L197.6,132.9 L198.7,134.5 L199.8,136.1 L200.9,137.8 L201.9,139.5 L203.0,141.2 L204.1,143.0 L205.2,144.8 L206.3,146.6 L207.4,148.5 L208.5,150.4 L209.5,152.3 L210.6,154.2 L211.7,156.2 L212.8,158.2 L213.9,160.2 L215.0,162.3 L216.1,164.3 L217.1,166.4 L218.2,168.5 L219.3,170.6 L220.4,172.7 L221.5,174.8 L222.6,177.0 L223.6,179.1 L224.7,181.3 L225.8,183.5 L226.9,185.6 L228.0,187.8 L229.1,190.0 L230.2,192.2 L231.2,194.4 L232.3,196.6 L233.4,198.7 L234.5,200.9 L235.6,203.1 L236.7,205.3 L237.7,207.4 L238.8,209.6 L239.9,211.7 L241.0,213.8 L242.1,215.9 L243.2,218.0 L244.3,220.1 L245.3,222.2 L246.4,224.2 L247.5,226.3 L248.6,228.3 L249.7,230.3 L250.8,232.2 L251.8,234.1 L252.9,236.1 L254.0,237.9 L255.1,239.8 L256.2,241.6 L257.3,243.4 L258.4,245.2 L259.4,246.9 L260.5,248.5 L261.6,250.2 L262.7,251.7 L263.8,253.3 L264.9,254.8 L266.0,256.2 L267.0,257.6 L268.1,258.9 L269.2,260.2 L270.3,261.4 L271.4,262.5 L272.5,263.5 L273.5,264.5 L274.6,265.5 L275.7,266.3 L276.8,267.1 L277.9,267.8 L279.0,268.4 L280.1,268.9 L281.1,269.4 L282.2,269.7 L283.3,269.9 L284.4,270.0 L285.5,269.9 L285.5,278.6 L284.4,278.6 L283.3,278.6 L282.2,278.6 L281.1,278.6 L280.1,278.6 L279.0,278.5 L277.9,277.9 L276.8,277.3 L275.7,276.5 L274.6,275.7 L273.5,274.9 L272.5,274.0 L271.4,273.0 L270.3,271.9 L269.2,270.8 L268.1,269.7 L267.0,268.5 L266.0,267.2 L264.9,265.9 L263.8,264.5 L262.7,263.1 L261.6,261.7 L260.5,260.2 L259.4,258.7 L258.4,257.1 L257.3,255.5 L256.2,253.9 L255.1,252.3 L254.0,250.6 L252.9,248.9 L251.8,247.2 L250.8,245.4 L249.7,243.6 L248.6,241.9 L247.5,240.0 L246.4,238.2 L245.3,236.4 L244.3,234.5 L243.2,232.7 L242.1,230.8 L241.0,228.9 L239.9,227.0 L238.8,225.1 L237.7,223.2 L236.7,221.2 L235.6,219.3 L234.5,217.4 L233.4,215.4 L232.3,213.5 L231.2,211.5 L230.2,209.6 L229.1,207.7 L228.0,205.7 L226.9,203.8 L225.8,201.9 L224.7,199.9 L223.6,198.0 L222.6,196.1 L221.5,194.2 L220.4,192.3 L219.3,190.5 L218.2,188.6 L217.1,186.8 L216.1,184.9 L215.0,183.1 L213.9,181.3 L212.8,179.5 L211.7,177.8 L210.6,176.1 L209.5,174.3 L208.5,172.7 L207.4,171.0 L206.3,169.4 L205.2,167.7 L204.1,166.2 L203.0,164.6 L201.9,163.1 L200.9,161.6 L199.8,160.1 L198.7,158.7 L197.6,157.3 L196.5,156.0 L195.4,154.7 L194.4,153.4 L193.3,152.2 L192.2,151.0 L191.1,149.8 L190.0,148.7 L188.9,147.6 L187.8,146.6 L186.8,145.6 L185.7,144.7 L184.6,143.8 L183.5,143.0 L182.4,142.3 L181.3,141.5 L180.3,140.9 L179.2,140.3 L178.1,139.7 L177.0,139.2 L175.9,138.8 L174.8,138.4 L173.7,138.1 L172.7,137.9 L171.6,137.7 L170.5,137.6 L169.4,137.5 L168.3,137.6 L167.2,137.7 L166.1,137.8 L165.1,138.1 L164.0,138.4 L162.9,138.8 L161.8,139.2 L160.7,139.7 L159.6,140.3 L158.6,140.9 L157.5,141.6 L156.4,142.3 L155.3,143.0 L154.2,143.8 L153.1,144.6 L152.0,145.5 L151.0,146.4 L149.9,147.4 L148.8,148.4 L147.7,149.4 L146.6,150.5 L145.5,151.7 L144.5,152.9 L143.4,154.1 L142.3,155.4 L141.2,156.8 L140.1,158.2 L139.0,159.6 L137.9,161.1 L136.9,162.6 L135.8,164.2 L134.7,165.7 L133.6,167.3 L132.5,168.9 L131.4,170.6 L130.4,172.2 L129.3,173.8 L128.2,175.5 L127.1,177.1 L126.0,178.8 L124.9,180.4 L123.8,182.1 L122.8,183.7 L121.7,185.4 L120.6,187.1 L119.5,188.8 L118.4,190.5 L117.3,192.2 L116.2,194.0 L115.2,195.8 L114.1,197.7 L113.0,199.5 L111.9,201.4 L110.8,203.4 L109.7,205.3 L108.7,207.3 L107.6,209.3 L106.5,211.3 L105.4,213.3 L104.3,215.4 L103.2,217.4 L102.1,219.5 L101.1,221.5 L100.0,223.6 L98.9,225.6 L97.8,227.7 L96.7,229.7 L95.6,231.7 L94.6,233.7 L93.5,235.7 L92.4,237.6 L91.3,239.6 L90.2,241.5 L89.1,243.4 L88.0,245.2 L87.0,247.0 L85.9,248.8 L84.8,250.5 L83.7,252.2 L82.6,253.9 L81.5,255.5 L80.5,257.1 L79.4,258.6 L78.3,260.1 L77.2,261.6 L76.1,262.9 L75.0,264.3 L73.9,265.6 L72.9,266.8 L71.8,267.9 L70.7,269.0 L69.6,270.1 L68.5,271.1 L67.4,272.0 L66.3,272.8 L65.3,273.6 L64.2,274.3 L63.1,275.0 L62.0,275.5 L60.9,276.0 L59.8,276.4 L58.8,276.8 L57.7,277.0 L56.6,277.2 L55.5,277.3Z"/>
<path d="M55.5,271.2 L56.6,271.2 L57.7,271.1 L58.8,270.9 L59.8,270.6 L60.9,270.3 L62.0,269.8 L63.1,269.3 L64.2,268.6 L65.3,267.9 L66.3,267.1 L67.4,266.2 L68.5,265.3 L69.6,264.2 L70.7,263.1 L71.8,262.0 L72.9,260.7 L73.9,259.4 L75.0,258.1 L76.1,256.6 L77.2,255.1 L78.3,253.6 L79.4,252.0 L80.5,250.3 L81.5,248.6 L82.6,246.8 L83.7,245.0 L84.8,243.1 L85.9,241.2 L87.0,239.3 L88.0,237.3 L89.1,235.3 L90.2,233.2 L91.3,231.1 L92.4,229.0 L93.5,226.8 L94.6,224.6 L95.6,222.4 L96.7,220.2 L97.8,217.9 L98.9,215.6 L100.0,213.3 L101.1,210.9 L102.1,208.6 L103.2,206.2 L104.3,203.8 L105.4,201.4 L106.5,198.9 L107.6,196.5 L108.7,194.0 L109.7,191.5 L110.8,189.0 L111.9,186.5 L113.0,183.9 L114.1,181.4 L115.2,178.8 L116.2,176.2 L117.3,173.6 L118.4,171.0 L119.5,168.3 L120.6,165.7 L121.7,163.1 L122.8,160.4 L123.8,157.8 L124.9,155.2 L126.0,152.6 L127.1,150.1 L128.2,147.5 L129.3,145.1 L130.4,142.6 L131.4,140.2 L132.5,137.9 L133.6,135.6 L134.7,133.4 L135.8,131.3 L136.9,129.2 L137.9,127.2 L139.0,125.2 L140.1,123.3 L141.2,121.4 L142.3,119.6 L143.4,117.8 L144.5,116.1 L145.5,114.5 L146.6,112.9 L147.7,111.3 L148.8,109.8 L149.9,108.3 L151.0,106.9 L152.0,105.6 L153.1,104.3 L154.2,103.1 L155.3,102.0 L156.4,100.9 L157.5,99.9 L158.6,99.0 L159.6,98.2 L160.7,97.4 L161.8,96.8 L162.9,96.2 L164.0,95.7 L165.1,95.3 L166.1,94.9 L167.2,94.6 L168.3,94.4 L169.4,94.2 L170.5,94.1 L171.6,94.1 L172.7,94.0 L173.7,94.1 L174.8,94.2 L175.9,94.3 L177.0,94.5 L178.1,94.7 L179.2,94.9 L180.3,95.2 L181.3,95.6 L182.4,96.0 L183.5,96.5 L184.6,97.0 L185.7,97.5 L186.8,98.2 L187.8,98.8 L188.9,99.6 L190.0,100.3 L191.1,101.2 L192.2,102.1 L193.3,103.0 L194.4,104.0 L195.4,105.1 L196.5,106.2 L197.6,107.3 L198.7,108.6 L199.8,109.9 L200.9,111.2 L201.9,112.6 L203.0,114.1 L204.1,115.6 L205.2,117.2 L206.3,118.8 L207.4,120.5 L208.5,122.3 L209.5,124.1 L210.6,126.0 L211.7,127.9 L212.8,129.9 L213.9,131.9 L215.0,134.0 L216.1,136.0 L217.1,138.1 L218.2,140.2 L219.3,142.3 L220.4,144.5 L221.5,146.6 L222.6,148.7 L223.6,150.7 L224.7,152.8 L225.8,154.8 L226.9,156.8 L228.0,158.7 L229.1,160.7 L230.2,162.6 L231.2,164.5 L232.3,166.4 L233.4,168.3 L234.5,170.2 L235.6,172.1 L236.7,174.0 L237.7,176.0 L238.8,177.9 L239.9,179.8 L241.0,181.8 L242.1,183.8 L243.2,185.8 L244.3,187.9 L245.3,190.0 L246.4,192.1 L247.5,194.3 L248.6,196.4 L249.7,198.6 L250.8,200.8 L251.8,203.0 L252.9,205.2 L254.0,207.3 L255.1,209.5 L256.2,211.7 L257.3,213.8 L258.4,215.9 L259.4,218.0 L260.5,220.1 L261.6,222.1 L262.7,224.1 L263.8,226.1 L264.9,228.0 L266.0,229.9 L267.0,231.7 L268.1,233.5 L269.2,235.3 L270.3,237.1 L271.4,238.8 L272.5,240.4 L273.5,242.0 L274.6,243.6 L275.7,245.1 L276.8,246.6 L277.9,248.0 L279.0,249.4 L280.1,250.7 L281.1,252.0 L282.2,253.2 L283.3,254.4 L284.4,255.5 L285.5,256.6 L286.6,257.6 L287.6,258.6 L288.7,259.5 L289.8,260.3 L290.9,261.1 L292.0,261.8 L293.1,262.5 L294.2,263.1 L295.2,263.6 L296.3,264.1 L297.4,264.5 L298.5,264.8 L299.6,265.1 L300.7,265.3 L301.4,265.4 L301.4,276.5 L300.7,276.5 L299.6,276.3 L298.5,276.0 L297.4,275.7 L296.3,275.3 L295.2,274.9 L294.2,274.4 L293.1,273.8 L292.0,273.2 L290.9,272.6 L289.8,271.8 L288.7,271.1 L287.6,270.2 L286.6,269.3 L285.5,268.4 L284.4,267.4 L283.3,266.4 L282.2,265.3 L281.1,264.2 L280.1,263.0 L279.0,261.8 L277.9,260.5 L276.8,259.2 L275.7,257.9 L274.6,256.5 L273.5,255.1 L272.5,253.6 L271.4,252.1 L270.3,250.6 L269.2,249.0 L268.1,247.4 L267.0,245.8 L266.0,244.1 L264.9,242.4 L263.8,240.6 L262.7,238.9 L261.6,237.1 L260.5,235.3 L259.4,233.4 L258.4,231.5 L257.3,229.6 L256.2,227.7 L255.1,225.8 L254.0,223.8 L252.9,221.9 L251.8,219.9 L250.8,218.0 L249.7,216.0 L248.6,214.1 L247.5,212.2 L246.4,210.2 L245.3,208.4 L244.3,206.5 L243.2,204.7 L242.1,202.9 L241.0,201.1 L239.9,199.3 L238.8,197.6 L237.7,195.9 L236.7,194.2 L235.6,192.5 L234.5,190.8 L233.4,189.1 L232.3,187.5 L231.2,185.8 L230.2,184.1 L229.1,182.4 L228.0,180.7 L226.9,178.9 L225.8,177.2 L224.7,175.4 L223.6,173.6 L222.6,171.8 L221.5,169.9 L220.4,168.1 L219.3,166.2 L218.2,164.3 L217.1,162.5 L216.1,160.6 L215.0,158.8 L213.9,157.0 L212.8,155.3 L211.7,153.5 L210.6,151.8 L209.5,150.2 L208.5,148.6 L207.4,147.0 L206.3,145.5 L205.2,144.1 L204.1,142.7 L203.0,141.4 L201.9,140.1 L200.9,138.9 L199.8,137.7 L198.7,136.6 L197.6,135.5 L196.5,134.5 L195.4,133.5 L194.4,132.6 L193.3,131.7 L192.2,130.9 L191.1,130.1 L190.0,129.4 L188.9,128.7 L187.8,128.1 L186.8,127.5 L185.7,127.0 L184.6,126.5 L183.5,126.1 L182.4,125.7 L181.3,125.4 L180.3,125.1 L179.2,124.9 L178.1,124.7 L177.0,124.6 L175.9,124.6 L174.8,124.6 L173.7,124.7 L172.7,124.9 L171.6,125.1 L170.5,125.3 L169.4,125.7 L168.3,126.1 L167.2,126.5 L166.1,127.0 L165.1,127.5 L164.0,128.1 L162.9,128.7 L161.8,129.3 L160.7,130.0 L159.6,130.7 L158.6,131.5 L157.5,132.2 L156.4,133.0 L155.3,133.9 L154.2,134.7 L153.1,135.7 L152.0,136.6 L151.0,137.7 L149.9,138.8 L148.8,139.9 L147.7,141.1 L146.6,142.3 L145.5,143.6 L144.5,145.0 L143.4,146.3 L142.3,147.8 L141.2,149.2 L140.1,150.7 L139.0,152.3 L137.9,153.8 L136.9,155.4 L135.8,156.9 L134.7,158.5 L133.6,160.1 L132.5,161.8 L131.4,163.4 L130.4,165.0 L129.3,166.7 L128.2,168.3 L127.1,170.0 L126.0,171.6 L124.9,173.3 L123.8,175.0 L122.8,176.8 L121.7,178.5 L120.6,180.3 L119.5,182.2 L118.4,184.0 L117.3,185.9 L116.2,187.9 L115.2,189.9 L114.1,191.9 L113.0,193.9 L111.9,196.0 L110.8,198.1 L109.7,200.2 L108.7,202.4 L107.6,204.6 L106.5,206.8 L105.4,209.0 L104.3,211.2 L103.2,213.4 L102.1,215.7 L101.1,217.9 L100.0,220.1 L98.9,222.3 L97.8,224.5 L96.7,226.7 L95.6,228.9 L94.6,231.1 L93.5,233.2 L92.4,235.4 L91.3,237.5 L90.2,239.5 L89.1,241.6 L88.0,243.6 L87.0,245.5 L85.9,247.5 L84.8,249.4 L83.7,251.2 L82.6,253.0 L81.5,254.8 L80.5,256.5 L79.4,258.1 L78.3,259.7 L77.2,261.3 L76.1,262.8 L75.0,264.2 L73.9,265.6 L72.9,266.9 L71.8,268.1 L70.7,269.3 L69.6,270.4 L68.5,271.4 L67.4,272.4 L66.3,273.2 L65.3,274.0 L64.2,274.8 L63.1,275.4 L62.0,275.9 L60.9,276.4 L59.8,276.8 L58.8,277.0 L57.7,277.2 L56.6,277.3 L55.5,277.3Z"/>
<path d="M55.5,270.4 L56.6,270.4 L57.7,270.3 L58.8,270.0 L59.8,269.7 L60.9,269.3 L62.0,268.8 L63.1,268.3 L64.2,267.6 L65.3,266.9 L66.3,266.0 L67.4,265.1 L68.5,264.2 L69.6,263.1 L70.7,262.0 L71.8,260.8 L72.9,259.5 L73.9,258.2 L75.0,256.8 L76.1,255.3 L77.2,253.7 L78.3,252.1 L79.4,250.5 L80.5,248.7 L81.5,246.9 L82.6,245.1 L83.7,243.2 L84.8,241.2 L85.9,239.2 L87.0,237.1 L88.0,235.0 L89.1,232.8 L90.2,230.6 L91.3,228.3 L92.4,226.0 L93.5,223.7 L94.6,221.3 L95.6,218.9 L96.7,216.5 L97.8,214.0 L98.9,211.5 L100.0,208.9 L101.1,206.3 L102.1,203.7 L103.2,201.1 L104.3,198.5 L105.4,195.8 L106.5,193.1 L107.6,190.4 L108.7,187.6 L109.7,184.9 L110.8,182.1 L111.9,179.3 L113.0,176.5 L114.1,173.7 L115.2,170.8 L116.2,167.9 L117.3,165.1 L118.4,162.2 L119.5,159.3 L120.6,156.4 L121.7,153.5 L122.8,150.6 L123.8,147.8 L124.9,144.9 L126.0,142.1 L127.1,139.2 L128.2,136.5 L129.3,133.7 L130.4,131.0 L131.4,128.4 L132.5,125.8 L133.6,123.3 L134.7,120.9 L135.8,118.5 L136.9,116.2 L137.9,113.9 L139.0,111.7 L140.1,109.6 L141.2,107.5 L142.3,105.5 L143.4,103.5 L144.5,101.6 L145.5,99.8 L146.6,98.0 L147.7,96.2 L148.8,94.5 L149.9,92.9 L151.0,91.3 L152.0,89.7 L153.1,88.2 L154.2,86.8 L155.3,85.4 L156.4,84.1 L157.5,82.8 L158.6,81.7 L159.6,80.6 L160.7,79.6 L161.8,78.7 L162.9,77.9 L164.0,77.1 L165.1,76.5 L166.1,75.9 L167.2,75.5 L168.3,75.1 L169.4,74.8 L170.5,74.5 L171.6,74.3 L172.7,74.2 L173.7,74.1 L174.8,74.1 L175.9,74.1 L177.0,74.1 L178.1,74.2 L179.2,74.3 L180.3,74.5 L181.3,74.7 L182.4,74.9 L183.5,75.2 L184.6,75.6 L185.7,76.0 L186.8,76.4 L187.8,76.8 L188.9,77.3 L190.0,77.9 L191.1,78.5 L192.2,79.1 L193.3,79.8 L194.4,80.5 L195.4,81.3 L196.5,82.1 L197.6,82.9 L198.7,83.8 L199.8,84.7 L200.9,85.7 L201.9,86.7 L203.0,87.8 L204.1,88.9 L205.2,90.1 L206.3,91.3 L207.4,92.5 L208.5,93.8 L209.5,95.2 L210.6,96.6 L211.7,98.1 L212.8,99.6 L213.9,101.1 L215.0,102.7 L216.1,104.4 L217.1,106.1 L218.2,107.8 L219.3,109.6 L220.4,111.5 L221.5,113.4 L222.6,115.4 L223.6,117.4 L224.7,119.4 L225.8,121.5 L226.9,123.7 L228.0,125.9 L229.1,128.1 L230.2,130.4 L231.2,132.7 L232.3,135.1 L233.4,137.5 L234.5,139.9 L235.6,142.3 L236.7,144.8 L237.7,147.3 L238.8,149.8 L239.9,152.3 L241.0,154.8 L242.1,157.4 L243.2,159.9 L244.3,162.5 L245.3,165.0 L246.4,167.6 L247.5,170.1 L248.6,172.7 L249.7,175.2 L250.8,177.7 L251.8,180.2 L252.9,182.7 L254.0,185.2 L255.1,187.7 L256.2,190.1 L257.3,192.5 L258.4,194.9 L259.4,197.3 L260.5,199.6 L261.6,201.9 L262.7,204.2 L263.8,206.5 L264.9,208.7 L266.0,210.9 L267.0,213.1 L268.1,215.2 L269.2,217.4 L270.3,219.5 L271.4,221.5 L272.5,223.5 L273.5,225.5 L274.6,227.5 L275.7,229.4 L276.8,231.3 L277.9,233.2 L279.0,235.0 L280.1,236.8 L281.1,238.6 L282.2,240.3 L283.3,241.9 L284.4,243.6 L285.5,245.2 L286.6,246.7 L287.6,248.3 L288.7,249.7 L289.8,251.2 L290.9,252.6 L292.0,253.9 L293.1,255.2 L294.2,256.5 L295.2,257.7 L296.3,258.9 L297.4,260.0 L298.5,261.0 L299.6,262.1 L300.7,263.1 L301.7,264.0 L302.8,264.9 L303.9,265.7 L305.0,266.5 L306.1,267.2 L307.2,267.9 L307.2,278.6 L306.1,278.6 L305.0,278.6 L303.9,278.6 L302.8,277.8 L301.7,277.0 L300.7,276.1 L299.6,275.2 L298.5,274.2 L297.4,273.3 L296.3,272.2 L295.2,271.1 L294.2,270.0 L293.1,268.9 L292.0,267.7 L290.9,266.4 L289.8,265.2 L288.7,263.9 L287.6,262.5 L286.6,261.1 L285.5,259.7 L284.4,258.3 L283.3,256.8 L282.2,255.3 L281.1,253.7 L280.1,252.1 L279.0,250.5 L277.9,248.9 L276.8,247.2 L275.7,245.5 L274.6,243.8 L273.5,242.0 L272.5,240.2 L271.4,238.4 L270.3,236.5 L269.2,234.7 L268.1,232.8 L267.0,230.9 L266.0,228.9 L264.9,226.9 L263.8,224.9 L262.7,222.9 L261.6,220.9 L260.5,218.8 L259.4,216.7 L258.4,214.6 L257.3,212.5 L256.2,210.4 L255.1,208.2 L254.0,206.1 L252.9,203.9 L251.8,201.7 L250.8,199.4 L249.7,197.2 L248.6,195.0 L247.5,192.7 L246.4,190.5 L245.3,188.2 L244.3,186.0 L243.2,183.7 L242.1,181.5 L241.0,179.3 L239.9,177.0 L238.8,174.8 L237.7,172.6 L236.7,170.5 L235.6,168.3 L234.5,166.2 L233.4,164.1 L232.3,162.0 L231.2,159.9 L230.2,157.9 L229.1,155.9 L228.0,153.9 L226.9,152.0 L225.8,150.1 L224.7,148.3 L223.6,146.5 L222.6,144.7 L221.5,143.0 L220.4,141.4 L219.3,139.7 L218.2,138.2 L217.1,136.6 L216.1,135.2 L215.0,133.7 L213.9,132.3 L212.8,131.0 L211.7,129.7 L210.6,128.4 L209.5,127.2 L208.5,126.0 L207.4,124.9 L206.3,123.8 L205.2,122.7 L204.1,121.7 L203.0,120.8 L201.9,119.8 L200.9,118.9 L199.8,118.1 L198.7,117.3 L197.6,116.5 L196.5,115.8 L195.4,115.1 L194.4,114.4 L193.3,113.8 L192.2,113.2 L191.1,112.7 L190.0,112.2 L188.9,111.7 L187.8,111.3 L186.8,110.9 L185.7,110.6 L184.6,110.3 L183.5,110.0 L182.4,109.8 L181.3,109.7 L180.3,109.6 L179.2,109.6 L178.1,109.6 L177.0,109.7 L175.9,109.8 L174.8,110.0 L173.7,110.3 L172.7,110.6 L171.6,111.0 L170.5,111.4 L169.4,111.9 L168.3,112.5 L167.2,113.1 L166.1,113.7 L165.1,114.4 L164.0,115.1 L162.9,115.9 L161.8,116.7 L160.7,117.5 L159.6,118.3 L158.6,119.2 L157.5,120.1 L156.4,121.1 L155.3,122.1 L154.2,123.1 L153.1,124.2 L152.0,125.4 L151.0,126.5 L149.9,127.8 L148.8,129.1 L147.7,130.4 L146.6,131.8 L145.5,133.2 L144.5,134.7 L143.4,136.2 L142.3,137.8 L141.2,139.4 L140.1,141.0 L139.0,142.6 L137.9,144.2 L136.9,145.9 L135.8,147.5 L134.7,149.2 L133.6,150.9 L132.5,152.6 L131.4,154.3 L130.4,156.0 L129.3,157.8 L128.2,159.5 L127.1,161.3 L126.0,163.0 L124.9,164.9 L123.8,166.7 L122.8,168.6 L121.7,170.5 L120.6,172.5 L119.5,174.5 L118.4,176.6 L117.3,178.7 L116.2,180.8 L115.2,183.1 L114.1,185.3 L113.0,187.6 L111.9,190.0 L110.8,192.3 L109.7,194.7 L108.7,197.1 L107.6,199.6 L106.5,202.0 L105.4,204.5 L104.3,207.0 L103.2,209.4 L102.1,211.9 L101.1,214.4 L100.0,216.8 L98.9,219.3 L97.8,221.7 L96.7,224.1 L95.6,226.5 L94.6,228.8 L93.5,231.2 L92.4,233.5 L91.3,235.7 L90.2,237.9 L89.1,240.1 L88.0,242.3 L87.0,244.4 L85.9,246.4 L84.8,248.4 L83.7,250.4 L82.6,252.3 L81.5,254.1 L80.5,255.9 L79.4,257.7 L78.3,259.3 L77.2,260.9 L76.1,262.5 L75.0,263.9 L73.9,265.3 L72.9,266.7 L71.8,267.9 L70.7,269.1 L69.6,270.3 L68.5,271.3 L67.4,272.3 L66.3,273.2 L65.3,274.0 L64.2,274.8 L63.1,275.4 L62.0,276.0 L60.9,276.5 L59.8,276.9 L58.8,277.2 L57.7,277.4 L56.6,277.5 L55.5,277.6Z"/>
<path d="M55.5,270.1 L56.6,270.0 L57.7,269.9 L58.8,269.6 L59.8,269.3 L60.9,268.9 L62.0,268.4 L63.1,267.8 L64.2,267.1 L65.3,266.3 L66.3,265.5 L67.4,264.6 L68.5,263.6 L69.6,262.6 L70.7,261.4 L71.8,260.2 L72.9,258.9 L73.9,257.6 L75.0,256.2 L76.1,254.7 L77.2,253.2 L78.3,251.6 L79.4,250.0 L80.5,248.3 L81.5,246.6 L82.6,244.8 L83.7,242.9 L84.8,241.0 L85.9,239.1 L87.0,237.1 L88.0,235.1 L89.1,233.0 L90.2,230.9 L91.3,228.8 L92.4,226.6 L93.5,224.4 L94.6,222.1 L95.6,219.9 L96.7,217.6 L97.8,215.2 L98.9,212.9 L100.0,210.5 L101.1,208.1 L102.1,205.7 L103.2,203.2 L104.3,200.7 L105.4,198.3 L106.5,195.8 L107.6,193.2 L108.7,190.7 L109.7,188.1 L110.8,185.6 L111.9,183.0 L113.0,180.4 L114.1,177.7 L115.2,175.1 L116.2,172.5 L117.3,169.8 L118.4,167.1 L119.5,164.4 L120.6,161.7 L121.7,159.0 L122.8,156.3 L123.8,153.5 L124.9,150.8 L126.0,148.0 L127.1,145.3 L128.2,142.6 L129.3,139.8 L130.4,137.1 L131.4,134.4 L132.5,131.7 L133.6,129.1 L134.7,126.5 L135.8,123.9 L136.9,121.4 L137.9,118.9 L139.0,116.5 L140.1,114.1 L141.2,111.8 L142.3,109.6 L143.4,107.4 L144.5,105.2 L145.5,103.2 L146.6,101.1 L147.7,99.1 L148.8,97.2 L149.9,95.3 L151.0,93.5 L152.0,91.7 L153.1,90.0 L154.2,88.3 L155.3,86.6 L156.4,85.0 L157.5,83.4 L158.6,81.9 L159.6,80.4 L160.7,79.0 L161.8,77.6 L162.9,76.2 L164.0,74.9 L165.1,73.7 L166.1,72.6 L167.2,71.5 L168.3,70.5 L169.4,69.6 L170.5,68.7 L171.6,68.0 L172.7,67.3 L173.7,66.7 L174.8,66.2 L175.9,65.7 L177.0,65.3 L178.1,65.0 L179.2,64.8 L180.3,64.6 L181.3,64.5 L182.4,64.4 L183.5,64.4 L184.6,64.4 L185.7,64.5 L186.8,64.6 L187.8,64.8 L188.9,65.1 L190.0,65.4 L191.1,65.7 L192.2,66.1 L193.3,66.6 L194.4,67.1 L195.4,67.6 L196.5,68.2 L197.6,68.8 L198.7,69.5 L199.8,70.2 L200.9,71.0 L201.9,71.8 L203.0,72.7 L204.1,73.5 L205.2,74.5 L206.3,75.4 L207.4,76.4 L208.5,77.5 L209.5,78.6 L210.6,79.7 L211.7,80.8 L212.8,82.0 L213.9,83.2 L215.0,84.5 L216.1,85.8 L217.1,87.1 L218.2,88.4 L219.3,89.8 L220.4,91.2 L221.5,92.6 L222.6,94.1 L223.6,95.6 L224.7,97.1 L225.8,98.7 L226.9,100.2 L228.0,101.8 L229.1,103.5 L230.2,105.1 L231.2,106.8 L232.3,108.5 L233.4,110.3 L234.5,112.1 L235.6,113.9 L236.7,115.8 L237.7,117.7 L238.8,119.6 L239.9,121.5 L241.0,123.5 L242.1,125.5 L243.2,127.5 L244.3,129.5 L245.3,131.6 L246.4,133.7 L247.5,135.8 L248.6,137.9 L249.7,140.1 L250.8,142.2 L251.8,144.4 L252.9,146.6 L254.0,148.8 L255.1,151.0 L256.2,153.3 L257.3,155.5 L258.4,157.7 L259.4,160.0 L260.5,162.3 L261.6,164.5 L262.7,166.8 L263.8,169.1 L264.9,171.3 L266.0,173.6 L267.0,175.9 L268.1,178.2 L269.2,180.4 L270.3,182.7 L271.4,184.9 L272.5,187.2 L273.5,189.4 L274.6,191.7 L275.7,193.9 L276.8,196.1 L277.9,198.3 L279.0,200.5 L280.1,202.6 L281.1,204.8 L282.2,206.9 L283.3,209.0 L284.4,211.1 L285.5,213.2 L286.6,215.3 L287.6,217.3 L288.7,219.3 L289.8,221.3 L290.9,223.2 L292.0,225.1 L293.1,227.0 L294.2,228.9 L295.2,230.7 L296.3,232.5 L297.4,234.3 L298.5,236.0 L299.6,237.7 L300.7,239.4 L301.7,241.0 L302.8,242.5 L303.9,244.1 L305.0,245.6 L306.1,247.0 L307.2,248.4 L308.3,249.8 L309.3,251.1 L310.4,252.3 L311.5,253.6 L312.6,254.7 L313.7,255.8 L314.8,256.9 L315.9,257.9 L316.9,258.8 L318.0,259.7 L319.1,260.6 L320.2,261.4 L321.3,262.1 L322.4,262.7 L323.4,263.3 L324.5,263.9 L325.6,264.4 L326.7,264.8 L327.8,265.1 L327.8,278.6 L326.7,278.6 L325.6,278.2 L324.5,277.7 L323.4,277.2 L322.4,276.7 L321.3,276.1 L320.2,275.4 L319.1,274.7 L318.0,273.9 L316.9,273.1 L315.9,272.2 L314.8,271.3 L313.7,270.3 L312.6,269.3 L311.5,268.2 L310.4,267.1 L309.3,266.0 L308.3,264.8 L307.2,263.6 L306.1,262.3 L305.0,261.0 L303.9,259.6 L302.8,258.2 L301.7,256.8 L300.7,255.3 L299.6,253.8 L298.5,252.3 L297.4,250.8 L296.3,249.2 L295.2,247.6 L294.2,245.9 L293.1,244.3 L292.0,242.6 L290.9,240.8 L289.8,239.1 L288.7,237.3 L287.6,235.5 L286.6,233.7 L285.5,231.9 L284.4,230.0 L283.3,228.2 L282.2,226.3 L281.1,224.4 L280.1,222.5 L279.0,220.6 L277.9,218.6 L276.8,216.7 L275.7,214.7 L274.6,212.7 L273.5,210.8 L272.5,208.8 L271.4,206.8 L270.3,204.8 L269.2,202.8 L268.1,200.8 L267.0,198.8 L266.0,196.8 L264.9,194.8 L263.8,192.8 L262.7,190.8 L261.6,188.8 L260.5,186.8 L259.4,184.8 L258.4,182.9 L257.3,180.9 L256.2,178.9 L255.1,177.0 L254.0,175.0 L252.9,173.1 L251.8,171.2 L250.8,169.3 L249.7,167.4 L248.6,165.5 L247.5,163.7 L246.4,161.8 L245.3,160.0 L244.3,158.2 L243.2,156.4 L242.1,154.6 L241.0,152.9 L239.9,151.2 L238.8,149.5 L237.7,147.8 L236.7,146.2 L235.6,144.6 L234.5,143.0 L233.4,141.4 L232.3,139.9 L231.2,138.4 L230.2,136.9 L229.1,135.5 L228.0,134.1 L226.9,132.7 L225.8,131.3 L224.7,130.0 L223.6,128.7 L222.6,127.4 L221.5,126.1 L220.4,124.9 L219.3,123.7 L218.2,122.5 L217.1,121.3 L216.1,120.2 L215.0,119.0 L213.9,118.0 L212.8,116.9 L211.7,115.9 L210.6,114.9 L209.5,113.9 L208.5,113.0 L207.4,112.1 L206.3,111.2 L205.2,110.4 L204.1,109.6 L203.0,108.8 L201.9,108.1 L200.9,107.4 L199.8,106.7 L198.7,106.1 L197.6,105.5 L196.5,105.0 L195.4,104.5 L194.4,104.1 L193.3,103.7 L192.2,103.4 L191.1,103.1 L190.0,102.8 L188.9,102.7 L187.8,102.6 L186.8,102.5 L185.7,102.6 L184.6,102.7 L183.5,102.8 L182.4,103.1 L181.3,103.4 L180.3,103.8 L179.2,104.2 L178.1,104.7 L177.0,105.3 L175.9,105.9 L174.8,106.6 L173.7,107.2 L172.7,108.0 L171.6,108.7 L170.5,109.5 L169.4,110.3 L168.3,111.1 L167.2,112.0 L166.1,112.9 L165.1,113.8 L164.0,114.7 L162.9,115.7 L161.8,116.7 L160.7,117.7 L159.6,118.8 L158.6,119.9 L157.5,121.1 L156.4,122.3 L155.3,123.6 L154.2,124.9 L153.1,126.2 L152.0,127.6 L151.0,129.0 L149.9,130.5 L148.8,131.9 L147.7,133.4 L146.6,135.0 L145.5,136.5 L144.5,138.1 L143.4,139.6 L142.3,141.2 L141.2,142.8 L140.1,144.4 L139.0,145.9 L137.9,147.5 L136.9,149.1 L135.8,150.7 L134.7,152.3 L133.6,154.0 L132.5,155.6 L131.4,157.3 L130.4,158.9 L129.3,160.6 L128.2,162.4 L127.1,164.1 L126.0,165.9 L124.9,167.8 L123.8,169.6 L122.8,171.6 L121.7,173.5 L120.6,175.5 L119.5,177.6 L118.4,179.7 L117.3,181.8 L116.2,184.0 L115.2,186.2 L114.1,188.4 L113.0,190.7 L111.9,193.0 L110.8,195.3 L109.7,197.6 L108.7,199.9 L107.6,202.3 L106.5,204.6 L105.4,207.0 L104.3,209.3 L103.2,211.7 L102.1,214.0 L101.1,216.4 L100.0,218.7 L98.9,221.0 L97.8,223.3 L96.7,225.6 L95.6,227.8 L94.6,230.1 L93.5,232.3 L92.4,234.5 L91.3,236.6 L90.2,238.7 L89.1,240.8 L88.0,242.9 L87.0,244.9 L85.9,246.8 L84.8,248.8 L83.7,250.6 L82.6,252.5 L81.5,254.3 L80.5,256.0 L79.4,257.7 L78.3,259.3 L77.2,260.9 L76.1,262.4 L75.0,263.9 L73.9,265.3 L72.9,266.6 L71.8,267.9 L70.7,269.1 L69.6,270.2 L68.5,271.3 L67.4,272.3 L66.3,273.2 L65.3,274.0 L64.2,274.8 L63.1,275.4 L62.0,276.0 L60.9,276.5 L59.8,277.0 L58.8,277.3 L57.7,277.5 L56.6,277.7 L55.5,277.8Z"/>
</g>
<g fill="none" stroke="#161616" stroke-width="2.5" stroke-linecap="butt" stroke-linejoin="round">
<path d="M55.5,275.6 L56.6,275.8 L57.7,276.0 L58.8,276.1 L59.8,276.2 L60.9,276.3 L62.0,276.4 L63.1,276.4 L64.2,276.3 L65.3,276.3 L66.3,276.2 L67.4,276.1 L68.5,276.0 L69.6,275.8 L70.7,275.7 L71.8,275.5 L72.9,275.2 L73.9,275.0 L75.0,274.7 L76.1,274.5 L77.2,274.2 L78.3,273.9 L79.4,273.5 L80.5,273.2 L81.5,272.8 L82.6,272.5 L83.7,272.1 L84.8,271.7 L85.9,271.3 L87.0,270.9 L88.0,270.4 L89.1,270.0 L90.2,269.6 L91.3,269.1 L92.4,268.7 L93.5,268.2 L94.6,267.8 L95.6,267.3 L96.7,266.9 L97.8,266.4 L98.9,266.0 L100.0,265.5 L101.1,265.1 L102.1,264.6 L103.2,264.2 L104.3,263.8 L105.4,263.3 L106.5,262.9 L107.6,262.5 L108.7,262.1 L109.7,261.7 L110.8,261.3 L111.9,261.0 L113.0,260.6 L114.1,260.3 L115.2,259.9 L116.2,259.6 L117.3,259.3 L118.4,259.1 L119.5,258.8 L120.6,258.6 L121.7,258.4 L122.8,258.2 L123.8,258.0 L124.9,257.9 L126.0,257.7 L127.1,257.6 L128.2,257.6 L129.3,257.5 L130.4,257.5 L131.4,257.5 L132.5,257.6 L133.6,257.6 L134.7,257.7 L135.8,257.9 L136.9,258.0 L137.9,258.2 L139.0,258.4 L140.1,258.6 L141.2,258.8 L142.3,259.1 L143.4,259.4 L144.5,259.7 L145.5,260.0 L146.6,260.3 L147.7,260.6 L148.8,261.0 L149.9,261.4 L151.0,261.7 L152.0,262.1 L153.1,262.5 L154.2,262.9 L155.3,263.3 L156.4,263.8 L157.5,264.2 L158.6,264.6 L159.6,265.0 L160.7,265.5 L161.8,265.9 L162.9,266.3 L164.0,266.8 L165.1,267.2 L166.1,267.6 L167.2,268.1 L168.3,268.5 L169.4,268.9 L170.5,269.3 L171.6,269.7 L172.7,270.1 L173.7,270.5 L174.8,270.9 L175.9,271.2 L177.0,271.6 L178.1,271.9 L179.2,272.3 L180.3,272.6 L181.3,272.9 L182.4,273.2 L183.5,273.5 L184.6,273.8 L185.7,274.0 L186.8,274.3 L187.8,274.5 L188.9,274.7 L190.0,275.0 L191.1,275.2 L192.2,275.4 L193.3,275.5 L194.4,275.7 L195.4,275.8 L196.5,276.0 L197.6,276.1 L198.7,276.2 L199.8,276.3 L200.9,276.3 L201.9,276.4 L203.0,276.4 L204.1,276.5 L205.2,276.5 L206.3,276.4 L207.4,276.4 L208.5,276.4 L209.5,276.3 L210.6,276.2 L211.4,276.1"/>
<path d="M55.5,275.1 L56.6,275.2 L57.7,275.2 L58.8,275.2 L59.8,275.2 L60.9,275.1 L62.0,274.9 L63.1,274.7 L64.2,274.5 L65.3,274.2 L66.3,273.9 L67.4,273.5 L68.5,273.0 L69.6,272.5 L70.7,272.0 L71.8,271.4 L72.9,270.8 L73.9,270.1 L75.0,269.4 L76.1,268.6 L77.2,267.8 L78.3,267.0 L79.4,266.1 L80.5,265.2 L81.5,264.2 L82.6,263.2 L83.7,262.1 L84.8,261.0 L85.9,259.9 L87.0,258.7 L88.0,257.5 L89.1,256.3 L90.2,255.0 L91.3,253.7 L92.4,252.5 L93.5,251.2 L94.6,249.9 L95.6,248.6 L96.7,247.3 L97.8,246.0 L98.9,244.8 L100.0,243.6 L101.1,242.4 L102.1,241.2 L103.2,240.1 L104.3,239.0 L105.4,237.9 L106.5,236.9 L107.6,235.9 L108.7,234.9 L109.7,233.9 L110.8,233.0 L111.9,232.2 L113.0,231.4 L114.1,230.6 L115.2,229.8 L116.2,229.1 L117.3,228.5 L118.4,227.8 L119.5,227.2 L120.6,226.7 L121.7,226.2 L122.8,225.8 L123.8,225.4 L124.9,225.0 L126.0,224.7 L127.1,224.5 L128.2,224.3 L129.3,224.1 L130.4,224.0 L131.4,224.0 L132.5,224.0 L133.6,224.0 L134.7,224.1 L135.8,224.3 L136.9,224.5 L137.9,224.7 L139.0,225.0 L140.1,225.3 L141.2,225.7 L142.3,226.1 L143.4,226.5 L144.5,227.0 L145.5,227.5 L146.6,228.1 L147.7,228.7 L148.8,229.3 L149.9,230.0 L151.0,230.7 L152.0,231.4 L153.1,232.1 L154.2,232.9 L155.3,233.7 L156.4,234.5 L157.5,235.3 L158.6,236.2 L159.6,237.1 L160.7,238.0 L161.8,238.9 L162.9,239.8 L164.0,240.8 L165.1,241.7 L166.1,242.7 L167.2,243.7 L168.3,244.7 L169.4,245.7 L170.5,246.7 L171.6,247.7 L172.7,248.8 L173.7,249.8 L174.8,250.8 L175.9,251.8 L177.0,252.9 L178.1,253.9 L179.2,254.9 L180.3,255.9 L181.3,257.0 L182.4,258.0 L183.5,258.9 L184.6,259.9 L185.7,260.9 L186.8,261.8 L187.8,262.8 L188.9,263.7 L190.0,264.6 L191.1,265.4 L192.2,266.3 L193.3,267.1 L194.4,267.9 L195.4,268.7 L196.5,269.4 L197.6,270.1 L198.7,270.8 L199.8,271.4 L200.9,272.1 L201.9,272.6 L203.0,273.1 L204.1,273.6 L205.2,274.1 L206.3,274.5 L207.4,274.8 L208.5,275.1 L209.5,275.4 L210.6,275.6 L211.4,275.7"/>
<path d="M55.5,274.5 L56.6,274.4 L57.7,274.2 L58.8,274.0 L59.8,273.7 L60.9,273.4 L62.0,273.1 L63.1,272.7 L64.2,272.3 L65.3,271.9 L66.3,271.4 L67.4,270.9 L68.5,270.3 L69.6,269.7 L70.7,269.1 L71.8,268.4 L72.9,267.7 L73.9,267.0 L75.0,266.2 L76.1,265.4 L77.2,264.5 L78.3,263.6 L79.4,262.7 L80.5,261.7 L81.5,260.7 L82.6,259.6 L83.7,258.5 L84.8,257.4 L85.9,256.2 L87.0,255.0 L88.0,253.8 L89.1,252.5 L90.2,251.1 L91.3,249.8 L92.4,248.3 L93.5,246.9 L94.6,245.4 L95.6,243.9 L96.7,242.3 L97.8,240.7 L98.9,239.1 L100.0,237.5 L101.1,235.8 L102.1,234.2 L103.2,232.6 L104.3,230.9 L105.4,229.3 L106.5,227.6 L107.6,226.0 L108.7,224.4 L109.7,222.9 L110.8,221.3 L111.9,219.8 L113.0,218.4 L114.1,217.0 L115.2,215.6 L116.2,214.3 L117.3,213.0 L118.4,211.8 L119.5,210.7 L120.6,209.6 L121.7,208.5 L122.8,207.5 L123.8,206.6 L124.9,205.7 L126.0,204.8 L127.1,204.1 L128.2,203.3 L129.3,202.6 L130.4,202.0 L131.4,201.4 L132.5,200.8 L133.6,200.4 L134.7,199.9 L135.8,199.5 L136.9,199.2 L137.9,198.9 L139.0,198.6 L140.1,198.4 L141.2,198.3 L142.3,198.2 L143.4,198.1 L144.5,198.1 L145.5,198.2 L146.6,198.3 L147.7,198.4 L148.8,198.6 L149.9,198.8 L151.0,199.1 L152.0,199.4 L153.1,199.8 L154.2,200.2 L155.3,200.7 L156.4,201.2 L157.5,201.7 L158.6,202.3 L159.6,203.0 L160.7,203.6 L161.8,204.4 L162.9,205.1 L164.0,205.9 L165.1,206.8 L166.1,207.6 L167.2,208.5 L168.3,209.5 L169.4,210.5 L170.5,211.5 L171.6,212.5 L172.7,213.6 L173.7,214.6 L174.8,215.8 L175.9,216.9 L177.0,218.0 L178.1,219.2 L179.2,220.4 L180.3,221.6 L181.3,222.9 L182.4,224.1 L183.5,225.4 L184.6,226.7 L185.7,228.0 L186.8,229.3 L187.8,230.6 L188.9,231.9 L190.0,233.3 L191.1,234.6 L192.2,235.9 L193.3,237.3 L194.4,238.6 L195.4,240.0 L196.5,241.3 L197.6,242.7 L198.7,244.0 L199.8,245.4 L200.9,246.7 L201.9,248.0 L203.0,249.3 L204.1,250.6 L205.2,251.9 L206.3,253.2 L207.4,254.5 L208.5,255.8 L209.5,257.0 L210.6,258.2 L211.7,259.4 L212.8,260.6 L213.9,261.8 L215.0,263.0 L216.1,264.1 L217.1,265.2 L218.2,266.2 L219.3,267.3 L220.4,268.3 L221.5,269.3 L222.6,270.2 L223.6,271.2 L224.7,272.0 L225.8,272.8 L226.9,273.6 L228.0,274.3 L229.1,274.8 L230.2,275.3 L231.2,275.6 L232.3,275.9 L233.4,276.0 L234.5,276.0 L235.6,275.9 L236.7,275.8 L237.7,275.7 L238.8,275.5"/>
<path d="M55.5,274.5 L56.6,274.5 L57.7,274.4 L58.8,274.2 L59.8,273.9 L60.9,273.6 L62.0,273.2 L63.1,272.7 L64.2,272.2 L65.3,271.6 L66.3,270.9 L67.4,270.2 L68.5,269.4 L69.6,268.5 L70.7,267.6 L71.8,266.7 L72.9,265.6 L73.9,264.6 L75.0,263.5 L76.1,262.3 L77.2,261.1 L78.3,259.8 L79.4,258.5 L80.5,257.2 L81.5,255.9 L82.6,254.4 L83.7,253.0 L84.8,251.5 L85.9,250.1 L87.0,248.5 L88.0,247.0 L89.1,245.4 L90.2,243.8 L91.3,242.2 L92.4,240.6 L93.5,239.0 L94.6,237.3 L95.6,235.6 L96.7,234.0 L97.8,232.3 L98.9,230.6 L100.0,228.9 L101.1,227.2 L102.1,225.5 L103.2,223.8 L104.3,222.1 L105.4,220.5 L106.5,218.8 L107.6,217.1 L108.7,215.5 L109.7,213.9 L110.8,212.3 L111.9,210.7 L113.0,209.1 L114.1,207.5 L115.2,206.0 L116.2,204.5 L117.3,203.0 L118.4,201.6 L119.5,200.2 L120.6,198.8 L121.7,197.5 L122.8,196.2 L123.8,194.9 L124.9,193.7 L126.0,192.5 L127.1,191.4 L128.2,190.3 L129.3,189.2 L130.4,188.3 L131.4,187.3 L132.5,186.4 L133.6,185.6 L134.7,184.8 L135.8,184.1 L136.9,183.4 L137.9,182.7 L139.0,182.1 L140.1,181.6 L141.2,181.1 L142.3,180.6 L143.4,180.2 L144.5,179.8 L145.5,179.5 L146.6,179.2 L147.7,179.0 L148.8,178.9 L149.9,178.7 L151.0,178.7 L152.0,178.6 L153.1,178.7 L154.2,178.7 L155.3,178.8 L156.4,179.0 L157.5,179.2 L158.6,179.5 L159.6,179.8 L160.7,180.1 L161.8,180.6 L162.9,181.0 L164.0,181.5 L165.1,182.1 L166.1,182.6 L167.2,183.3 L168.3,184.0 L169.4,184.7 L170.5,185.5 L171.6,186.3 L172.7,187.2 L173.7,188.1 L174.8,189.1 L175.9,190.1 L177.0,191.2 L178.1,192.3 L179.2,193.5 L180.3,194.7 L181.3,196.0 L182.4,197.3 L183.5,198.6 L184.6,200.0 L185.7,201.4 L186.8,202.9 L187.8,204.4 L188.9,205.9 L190.0,207.5 L191.1,209.1 L192.2,210.7 L193.3,212.3 L194.4,214.0 L195.4,215.7 L196.5,217.4 L197.6,219.1 L198.7,220.8 L199.8,222.6 L200.9,224.3 L201.9,226.1 L203.0,227.8 L204.1,229.6 L205.2,231.4 L206.3,233.1 L207.4,234.9 L208.5,236.7 L209.5,238.4 L210.6,240.2 L211.7,241.9 L212.8,243.6 L213.9,245.3 L215.0,247.0 L216.1,248.7 L217.1,250.3 L218.2,251.9 L219.3,253.5 L220.4,255.1 L221.5,256.6 L222.6,258.2 L223.6,259.6 L224.7,261.1 L225.8,262.5 L226.9,263.8 L228.0,265.1 L229.1,266.4 L230.2,267.6 L231.2,268.7 L232.3,269.7 L233.4,270.7 L234.5,271.6 L235.6,272.4 L236.7,273.2 L237.7,273.8 L238.8,274.3 L239.9,274.8 L241.0,275.1 L242.1,275.3 L243.2,275.4 L244.3,275.4 L245.3,275.3 L246.4,275.2 L247.5,275.0 L248.6,274.7 L249.7,274.4"/>
<path d="M55.5,274.5 L56.6,274.5 L57.7,274.5 L58.8,274.3 L59.8,274.1 L60.9,273.8 L62.0,273.4 L63.1,272.9 L64.2,272.4 L65.3,271.8 L66.3,271.1 L67.4,270.3 L68.5,269.5 L69.6,268.6 L70.7,267.6 L71.8,266.6 L72.9,265.5 L73.9,264.4 L75.0,263.2 L76.1,261.9 L77.2,260.6 L78.3,259.3 L79.4,257.9 L80.5,256.4 L81.5,255.0 L82.6,253.4 L83.7,251.9 L84.8,250.3 L85.9,248.6 L87.0,247.0 L88.0,245.3 L89.1,243.5 L90.2,241.8 L91.3,240.0 L92.4,238.2 L93.5,236.4 L94.6,234.6 L95.6,232.7 L96.7,230.9 L97.8,229.0 L98.9,227.1 L100.0,225.3 L101.1,223.4 L102.1,221.5 L103.2,219.6 L104.3,217.7 L105.4,215.8 L106.5,214.0 L107.6,212.1 L108.7,210.2 L109.7,208.4 L110.8,206.6 L111.9,204.8 L113.0,203.0 L114.1,201.2 L115.2,199.5 L116.2,197.7 L117.3,196.1 L118.4,194.4 L119.5,192.8 L120.6,191.2 L121.7,189.6 L122.8,188.1 L123.8,186.7 L124.9,185.2 L126.0,183.8 L127.1,182.5 L128.2,181.2 L129.3,180.0 L130.4,178.7 L131.4,177.6 L132.5,176.5 L133.6,175.4 L134.7,174.4 L135.8,173.4 L136.9,172.4 L137.9,171.5 L139.0,170.7 L140.1,169.9 L141.2,169.1 L142.3,168.4 L143.4,167.7 L144.5,167.0 L145.5,166.4 L146.6,165.9 L147.7,165.4 L148.8,164.9 L149.9,164.5 L151.0,164.1 L152.0,163.8 L153.1,163.5 L154.2,163.3 L155.3,163.1 L156.4,162.9 L157.5,162.8 L158.6,162.7 L159.6,162.7 L160.7,162.7 L161.8,162.7 L162.9,162.8 L164.0,163.0 L165.1,163.2 L166.1,163.4 L167.2,163.7 L168.3,164.0 L169.4,164.3 L170.5,164.7 L171.6,165.1 L172.7,165.6 L173.7,166.2 L174.8,166.7 L175.9,167.3 L177.0,168.0 L178.1,168.7 L179.2,169.4 L180.3,170.2 L181.3,171.0 L182.4,171.9 L183.5,172.8 L184.6,173.7 L185.7,174.7 L186.8,175.7 L187.8,176.8 L188.9,177.9 L190.0,179.0 L191.1,180.2 L192.2,181.4 L193.3,182.7 L194.4,183.9 L195.4,185.3 L196.5,186.6 L197.6,188.0 L198.7,189.5 L199.8,190.9 L200.9,192.5 L201.9,194.0 L203.0,195.6 L204.1,197.2 L205.2,198.8 L206.3,200.5 L207.4,202.2 L208.5,204.0 L209.5,205.7 L210.6,207.5 L211.7,209.3 L212.8,211.2 L213.9,213.0 L215.0,214.9 L216.1,216.8 L217.1,218.7 L218.2,220.6 L219.3,222.5 L220.4,224.4 L221.5,226.3 L222.6,228.2 L223.6,230.1 L224.7,231.9 L225.8,233.8 L226.9,235.7 L228.0,237.5 L229.1,239.3 L230.2,241.1 L231.2,242.9 L232.3,244.7 L233.4,246.4 L234.5,248.1 L235.6,249.8 L236.7,251.4 L237.7,253.0 L238.8,254.5 L239.9,256.0 L241.0,257.5 L242.1,258.9 L243.2,260.3 L244.3,261.7 L245.3,262.9 L246.4,264.2 L247.5,265.4 L248.6,266.5 L249.7,267.6 L250.8,268.6 L251.8,269.6 L252.9,270.5 L254.0,271.4 L255.1,272.2 L256.2,272.9 L257.3,273.5 L258.4,274.1 L259.4,274.6 L260.5,275.0 L261.6,275.4 L262.7,275.6 L263.8,275.7 L264.9,275.7 L266.0,275.6 L266.8,275.5"/>
<path d="M55.5,274.5 L56.6,274.3 L57.7,274.0 L58.8,273.6 L59.8,273.2 L60.9,272.8 L62.0,272.2 L63.1,271.7 L64.2,271.1 L65.3,270.4 L66.3,269.7 L67.4,268.9 L68.5,268.0 L69.6,267.2 L70.7,266.2 L71.8,265.2 L72.9,264.2 L73.9,263.1 L75.0,262.0 L76.1,260.8 L77.2,259.5 L78.3,258.2 L79.4,256.9 L80.5,255.5 L81.5,254.0 L82.6,252.5 L83.7,251.0 L84.8,249.3 L85.9,247.7 L87.0,246.0 L88.0,244.2 L89.1,242.4 L90.2,240.6 L91.3,238.7 L92.4,236.8 L93.5,234.8 L94.6,232.9 L95.6,230.9 L96.7,228.8 L97.8,226.8 L98.9,224.7 L100.0,222.7 L101.1,220.6 L102.1,218.5 L103.2,216.4 L104.3,214.3 L105.4,212.2 L106.5,210.2 L107.6,208.1 L108.7,206.0 L109.7,204.0 L110.8,202.0 L111.9,200.0 L113.0,198.0 L114.1,196.0 L115.2,194.1 L116.2,192.2 L117.3,190.3 L118.4,188.4 L119.5,186.6 L120.6,184.8 L121.7,183.0 L122.8,181.2 L123.8,179.5 L124.9,177.8 L126.0,176.1 L127.1,174.4 L128.2,172.8 L129.3,171.2 L130.4,169.7 L131.4,168.1 L132.5,166.7 L133.6,165.2 L134.7,163.8 L135.8,162.4 L136.9,161.0 L137.9,159.7 L139.0,158.4 L140.1,157.2 L141.2,156.0 L142.3,154.8 L143.4,153.7 L144.5,152.6 L145.5,151.6 L146.6,150.6 L147.7,149.7 L148.8,148.8 L149.9,147.9 L151.0,147.1 L152.0,146.3 L153.1,145.6 L154.2,144.9 L155.3,144.3 L156.4,143.7 L157.5,143.2 L158.6,142.7 L159.6,142.3 L160.7,142.0 L161.8,141.6 L162.9,141.4 L164.0,141.2 L165.1,141.0 L166.1,140.9 L167.2,140.9 L168.3,140.9 L169.4,141.0 L170.5,141.1 L171.6,141.3 L172.7,141.6 L173.7,141.9 L174.8,142.3 L175.9,142.7 L177.0,143.2 L178.1,143.8 L179.2,144.4 L180.3,145.1 L181.3,145.9 L182.4,146.7 L183.5,147.6 L184.6,148.5 L185.7,149.5 L186.8,150.5 L187.8,151.6 L188.9,152.8 L190.0,154.0 L191.1,155.2 L192.2,156.5 L193.3,157.9 L194.4,159.2 L195.4,160.7 L196.5,162.1 L197.6,163.6 L198.7,165.2 L199.8,166.8 L200.9,168.4 L201.9,170.0 L203.0,171.7 L204.1,173.4 L205.2,175.2 L206.3,177.0 L207.4,178.8 L208.5,180.6 L209.5,182.5 L210.6,184.4 L211.7,186.3 L212.8,188.2 L213.9,190.1 L215.0,192.1 L216.1,194.1 L217.1,196.1 L218.2,198.1 L219.3,200.1 L220.4,202.1 L221.5,204.2 L222.6,206.2 L223.6,208.3 L224.7,210.3 L225.8,212.4 L226.9,214.4 L228.0,216.5 L229.1,218.6 L230.2,220.6 L231.2,222.7 L232.3,224.8 L233.4,226.8 L234.5,228.9 L235.6,230.9 L236.7,232.9 L237.7,234.9 L238.8,236.9 L239.9,238.8 L241.0,240.8 L242.1,242.7 L243.2,244.5 L244.3,246.4 L245.3,248.2 L246.4,249.9 L247.5,251.6 L248.6,253.3 L249.7,254.9 L250.8,256.5 L251.8,258.0 L252.9,259.5 L254.0,260.9 L255.1,262.2 L256.2,263.5 L257.3,264.7 L258.4,265.8 L259.4,266.9 L260.5,267.9 L261.6,268.9 L262.7,269.8 L263.8,270.6 L264.9,271.3 L266.0,272.0 L267.0,272.6 L268.1,273.2 L269.2,273.6 L270.3,274.0 L271.4,274.4 L272.5,274.6 L273.5,274.8 L274.6,274.9 L275.7,274.9 L276.8,274.8"/>
<path d="M55.5,274.5 L56.6,274.4 L57.7,274.2 L58.8,274.0 L59.8,273.6 L60.9,273.2 L62.0,272.7 L63.1,272.2 L64.2,271.5 L65.3,270.8 L66.3,270.0 L67.4,269.2 L68.5,268.3 L69.6,267.3 L70.7,266.2 L71.8,265.1 L72.9,264.0 L73.9,262.7 L75.0,261.5 L76.1,260.1 L77.2,258.7 L78.3,257.3 L79.4,255.8 L80.5,254.3 L81.5,252.7 L82.6,251.1 L83.7,249.4 L84.8,247.7 L85.9,245.9 L87.0,244.1 L88.0,242.3 L89.1,240.5 L90.2,238.6 L91.3,236.6 L92.4,234.7 L93.5,232.7 L94.6,230.7 L95.6,228.7 L96.7,226.6 L97.8,224.5 L98.9,222.4 L100.0,220.3 L101.1,218.2 L102.1,216.0 L103.2,213.9 L104.3,211.7 L105.4,209.5 L106.5,207.3 L107.6,205.2 L108.7,203.0 L109.7,200.8 L110.8,198.6 L111.9,196.4 L113.0,194.2 L114.1,192.0 L115.2,189.8 L116.2,187.6 L117.3,185.4 L118.4,183.3 L119.5,181.1 L120.6,179.0 L121.7,176.9 L122.8,174.8 L123.8,172.7 L124.9,170.6 L126.0,168.6 L127.1,166.6 L128.2,164.6 L129.3,162.6 L130.4,160.7 L131.4,158.8 L132.5,156.9 L133.6,155.1 L134.7,153.3 L135.8,151.5 L136.9,149.8 L137.9,148.1 L139.0,146.5 L140.1,144.9 L141.2,143.3 L142.3,141.8 L143.4,140.4 L144.5,139.0 L145.5,137.6 L146.6,136.3 L147.7,135.1 L148.8,133.9 L149.9,132.8 L151.0,131.7 L152.0,130.7 L153.1,129.8 L154.2,128.9 L155.3,128.1 L156.4,127.3 L157.5,126.7 L158.6,126.1 L159.6,125.5 L160.7,125.1 L161.8,124.7 L162.9,124.3 L164.0,124.1 L165.1,123.8 L166.1,123.7 L167.2,123.6 L168.3,123.6 L169.4,123.6 L170.5,123.8 L171.6,123.9 L172.7,124.2 L173.7,124.4 L174.8,124.8 L175.9,125.2 L177.0,125.7 L178.1,126.2 L179.2,126.8 L180.3,127.5 L181.3,128.2 L182.4,129.0 L183.5,129.8 L184.6,130.7 L185.7,131.6 L186.8,132.6 L187.8,133.6 L188.9,134.7 L190.0,135.9 L191.1,137.1 L192.2,138.3 L193.3,139.6 L194.4,140.9 L195.4,142.3 L196.5,143.7 L197.6,145.1 L198.7,146.6 L199.8,148.1 L200.9,149.7 L201.9,151.3 L203.0,152.9 L204.1,154.6 L205.2,156.3 L206.3,158.0 L207.4,159.7 L208.5,161.5 L209.5,163.3 L210.6,165.2 L211.7,167.0 L212.8,168.9 L213.9,170.8 L215.0,172.7 L216.1,174.6 L217.1,176.6 L218.2,178.5 L219.3,180.5 L220.4,182.5 L221.5,184.5 L222.6,186.6 L223.6,188.6 L224.7,190.6 L225.8,192.7 L226.9,194.7 L228.0,196.8 L229.1,198.8 L230.2,200.9 L231.2,203.0 L232.3,205.0 L233.4,207.1 L234.5,209.1 L235.6,211.2 L236.7,213.2 L237.7,215.3 L238.8,217.3 L239.9,219.3 L241.0,221.4 L242.1,223.4 L243.2,225.3 L244.3,227.3 L245.3,229.3 L246.4,231.2 L247.5,233.2 L248.6,235.1 L249.7,236.9 L250.8,238.8 L251.8,240.7 L252.9,242.5 L254.0,244.3 L255.1,246.0 L256.2,247.8 L257.3,249.5 L258.4,251.1 L259.4,252.8 L260.5,254.4 L261.6,255.9 L262.7,257.4 L263.8,258.9 L264.9,260.3 L266.0,261.7 L267.0,263.0 L268.1,264.3 L269.2,265.5 L270.3,266.6 L271.4,267.7 L272.5,268.8 L273.5,269.7 L274.6,270.6 L275.7,271.4 L276.8,272.2 L277.9,272.8 L279.0,273.4 L280.1,274.0 L281.1,274.4 L282.2,274.7 L283.3,274.9 L284.4,275.0 L285.5,274.9"/>
<path d="M55.5,274.2 L56.6,274.3 L57.7,274.2 L58.8,274.0 L59.8,273.7 L60.9,273.3 L62.0,272.9 L63.1,272.3 L64.2,271.7 L65.3,271.0 L66.3,270.2 L67.4,269.3 L68.5,268.3 L69.6,267.3 L70.7,266.2 L71.8,265.0 L72.9,263.8 L73.9,262.5 L75.0,261.1 L76.1,259.7 L77.2,258.2 L78.3,256.7 L79.4,255.0 L80.5,253.4 L81.5,251.7 L82.6,249.9 L83.7,248.1 L84.8,246.2 L85.9,244.4 L87.0,242.4 L88.0,240.4 L89.1,238.4 L90.2,236.4 L91.3,234.3 L92.4,232.2 L93.5,230.0 L94.6,227.9 L95.6,225.7 L96.7,223.4 L97.8,221.2 L98.9,219.0 L100.0,216.7 L101.1,214.4 L102.1,212.1 L103.2,209.8 L104.3,207.5 L105.4,205.2 L106.5,202.8 L107.6,200.5 L108.7,198.2 L109.7,195.9 L110.8,193.6 L111.9,191.2 L113.0,188.9 L114.1,186.6 L115.2,184.3 L116.2,182.0 L117.3,179.8 L118.4,177.5 L119.5,175.2 L120.6,173.0 L121.7,170.8 L122.8,168.6 L123.8,166.4 L124.9,164.3 L126.0,162.1 L127.1,160.0 L128.2,157.9 L129.3,155.9 L130.4,153.8 L131.4,151.8 L132.5,149.8 L133.6,147.9 L134.7,146.0 L135.8,144.1 L136.9,142.3 L137.9,140.5 L139.0,138.7 L140.1,137.0 L141.2,135.3 L142.3,133.7 L143.4,132.1 L144.5,130.5 L145.5,129.0 L146.6,127.6 L147.7,126.2 L148.8,124.8 L149.9,123.5 L151.0,122.3 L152.0,121.1 L153.1,120.0 L154.2,118.9 L155.3,117.9 L156.4,117.0 L157.5,116.1 L158.6,115.2 L159.6,114.4 L160.7,113.7 L161.8,113.1 L162.9,112.4 L164.0,111.9 L165.1,111.4 L166.1,110.9 L167.2,110.6 L168.3,110.2 L169.4,110.0 L170.5,109.7 L171.6,109.6 L172.7,109.5 L173.7,109.4 L174.8,109.4 L175.9,109.4 L177.0,109.5 L178.1,109.7 L179.2,109.9 L180.3,110.2 L181.3,110.5 L182.4,110.8 L183.5,111.3 L184.6,111.7 L185.7,112.3 L186.8,112.8 L187.8,113.4 L188.9,114.1 L190.0,114.9 L191.1,115.6 L192.2,116.5 L193.3,117.3 L194.4,118.3 L195.4,119.3 L196.5,120.3 L197.6,121.4 L198.7,122.6 L199.8,123.8 L200.9,125.0 L201.9,126.4 L203.0,127.7 L204.1,129.1 L205.2,130.6 L206.3,132.2 L207.4,133.8 L208.5,135.4 L209.5,137.1 L210.6,138.9 L211.7,140.7 L212.8,142.6 L213.9,144.5 L215.0,146.4 L216.1,148.3 L217.1,150.3 L218.2,152.3 L219.3,154.3 L220.4,156.3 L221.5,158.2 L222.6,160.2 L223.6,162.2 L224.7,164.1 L225.8,166.0 L226.9,167.8 L228.0,169.7 L229.1,171.5 L230.2,173.3 L231.2,175.1 L232.3,176.9 L233.4,178.7 L234.5,180.5 L235.6,182.3 L236.7,184.1 L237.7,185.9 L238.8,187.7 L239.9,189.6 L241.0,191.5 L242.1,193.3 L243.2,195.3 L244.3,197.2 L245.3,199.2 L246.4,201.2 L247.5,203.2 L248.6,205.2 L249.7,207.3 L250.8,209.4 L251.8,211.4 L252.9,213.5 L254.0,215.6 L255.1,217.6 L256.2,219.7 L257.3,221.7 L258.4,223.7 L259.4,225.7 L260.5,227.7 L261.6,229.6 L262.7,231.5 L263.8,233.3 L264.9,235.2 L266.0,237.0 L267.0,238.7 L268.1,240.5 L269.2,242.2 L270.3,243.8 L271.4,245.4 L272.5,247.0 L273.5,248.6 L274.6,250.0 L275.7,251.5 L276.8,252.9 L277.9,254.3 L279.0,255.6 L280.1,256.9 L281.1,258.1 L282.2,259.3 L283.3,260.4 L284.4,261.5 L285.5,262.5 L286.6,263.5 L287.6,264.4 L288.7,265.3 L289.8,266.1 L290.9,266.8 L292.0,267.5 L293.1,268.2 L294.2,268.7 L295.2,269.3 L296.3,269.7 L297.4,270.1 L298.5,270.4 L299.6,270.7 L300.7,270.9 L301.4,271.0"/>
<path d="M55.5,274.0 L56.6,274.0 L57.7,273.8 L58.8,273.6 L59.8,273.3 L60.9,272.9 L62.0,272.4 L63.1,271.8 L64.2,271.2 L65.3,270.4 L66.3,269.6 L67.4,268.7 L68.5,267.7 L69.6,266.7 L70.7,265.6 L71.8,264.4 L72.9,263.1 L73.9,261.8 L75.0,260.3 L76.1,258.9 L77.2,257.3 L78.3,255.7 L79.4,254.1 L80.5,252.3 L81.5,250.5 L82.6,248.7 L83.7,246.8 L84.8,244.8 L85.9,242.8 L87.0,240.7 L88.0,238.6 L89.1,236.5 L90.2,234.3 L91.3,232.0 L92.4,229.7 L93.5,227.4 L94.6,225.1 L95.6,222.7 L96.7,220.3 L97.8,217.8 L98.9,215.4 L100.0,212.9 L101.1,210.4 L102.1,207.8 L103.2,205.3 L104.3,202.7 L105.4,200.1 L106.5,197.6 L107.6,195.0 L108.7,192.4 L109.7,189.8 L110.8,187.2 L111.9,184.6 L113.0,182.1 L114.1,179.5 L115.2,176.9 L116.2,174.4 L117.3,171.9 L118.4,169.4 L119.5,166.9 L120.6,164.4 L121.7,162.0 L122.8,159.6 L123.8,157.2 L124.9,154.9 L126.0,152.5 L127.1,150.3 L128.2,148.0 L129.3,145.7 L130.4,143.5 L131.4,141.4 L132.5,139.2 L133.6,137.1 L134.7,135.0 L135.8,133.0 L136.9,131.0 L137.9,129.1 L139.0,127.1 L140.1,125.3 L141.2,123.4 L142.3,121.6 L143.4,119.9 L144.5,118.2 L145.5,116.5 L146.6,114.9 L147.7,113.3 L148.8,111.8 L149.9,110.3 L151.0,108.9 L152.0,107.5 L153.1,106.2 L154.2,105.0 L155.3,103.7 L156.4,102.6 L157.5,101.5 L158.6,100.5 L159.6,99.5 L160.7,98.5 L161.8,97.7 L162.9,96.9 L164.0,96.1 L165.1,95.5 L166.1,94.8 L167.2,94.3 L168.3,93.8 L169.4,93.4 L170.5,93.0 L171.6,92.7 L172.7,92.4 L173.7,92.2 L174.8,92.0 L175.9,91.9 L177.0,91.9 L178.1,91.9 L179.2,91.9 L180.3,92.0 L181.3,92.2 L182.4,92.4 L183.5,92.6 L184.6,92.9 L185.7,93.3 L186.8,93.6 L187.8,94.1 L188.9,94.5 L190.0,95.0 L191.1,95.6 L192.2,96.2 L193.3,96.8 L194.4,97.5 L195.4,98.2 L196.5,98.9 L197.6,99.7 L198.7,100.5 L199.8,101.4 L200.9,102.3 L201.9,103.3 L203.0,104.3 L204.1,105.3 L205.2,106.4 L206.3,107.5 L207.4,108.7 L208.5,109.9 L209.5,111.2 L210.6,112.5 L211.7,113.9 L212.8,115.3 L213.9,116.7 L215.0,118.2 L216.1,119.8 L217.1,121.4 L218.2,123.0 L219.3,124.7 L220.4,126.4 L221.5,128.2 L222.6,130.0 L223.6,131.9 L224.7,133.9 L225.8,135.8 L226.9,137.9 L228.0,139.9 L229.1,142.0 L230.2,144.2 L231.2,146.3 L232.3,148.5 L233.4,150.8 L234.5,153.0 L235.6,155.3 L236.7,157.6 L237.7,160.0 L238.8,162.3 L239.9,164.7 L241.0,167.0 L242.1,169.4 L243.2,171.8 L244.3,174.2 L245.3,176.6 L246.4,179.0 L247.5,181.4 L248.6,183.8 L249.7,186.2 L250.8,188.6 L251.8,190.9 L252.9,193.3 L254.0,195.6 L255.1,197.9 L256.2,200.2 L257.3,202.5 L258.4,204.8 L259.4,207.0 L260.5,209.2 L261.6,211.4 L262.7,213.6 L263.8,215.7 L264.9,217.8 L266.0,219.9 L267.0,222.0 L268.1,224.0 L269.2,226.0 L270.3,228.0 L271.4,229.9 L272.5,231.9 L273.5,233.8 L274.6,235.6 L275.7,237.5 L276.8,239.3 L277.9,241.0 L279.0,242.8 L280.1,244.5 L281.1,246.1 L282.2,247.8 L283.3,249.4 L284.4,250.9 L285.5,252.5 L286.6,253.9 L287.6,255.4 L288.7,256.8 L289.8,258.2 L290.9,259.5 L292.0,260.8 L293.1,262.0 L294.2,263.2 L295.2,264.4 L296.3,265.5 L297.4,266.6 L298.5,267.6 L299.6,268.6 L300.7,269.6 L301.7,270.5 L302.8,271.3 L303.9,272.1 L305.0,272.9 L306.1,273.6 L307.2,274.2"/>
<path d="M55.5,273.9 L56.6,273.9 L57.7,273.7 L58.8,273.5 L59.8,273.1 L60.9,272.7 L62.0,272.2 L63.1,271.6 L64.2,270.9 L65.3,270.2 L66.3,269.3 L67.4,268.4 L68.5,267.4 L69.6,266.4 L70.7,265.3 L71.8,264.0 L72.9,262.8 L73.9,261.4 L75.0,260.0 L76.1,258.6 L77.2,257.1 L78.3,255.5 L79.4,253.9 L80.5,252.2 L81.5,250.4 L82.6,248.6 L83.7,246.8 L84.8,244.9 L85.9,243.0 L87.0,241.0 L88.0,239.0 L89.1,236.9 L90.2,234.8 L91.3,232.7 L92.4,230.5 L93.5,228.3 L94.6,226.1 L95.6,223.9 L96.7,221.6 L97.8,219.3 L98.9,216.9 L100.0,214.6 L101.1,212.2 L102.1,209.8 L103.2,207.5 L104.3,205.0 L105.4,202.6 L106.5,200.2 L107.6,197.8 L108.7,195.3 L109.7,192.9 L110.8,190.4 L111.9,188.0 L113.0,185.5 L114.1,183.1 L115.2,180.7 L116.2,178.2 L117.3,175.8 L118.4,173.4 L119.5,171.0 L120.6,168.6 L121.7,166.3 L122.8,163.9 L123.8,161.6 L124.9,159.3 L126.0,157.0 L127.1,154.7 L128.2,152.5 L129.3,150.2 L130.4,148.0 L131.4,145.8 L132.5,143.7 L133.6,141.5 L134.7,139.4 L135.8,137.3 L136.9,135.3 L137.9,133.2 L139.0,131.2 L140.1,129.2 L141.2,127.3 L142.3,125.4 L143.4,123.5 L144.5,121.6 L145.5,119.8 L146.6,118.0 L147.7,116.3 L148.8,114.6 L149.9,112.9 L151.0,111.3 L152.0,109.7 L153.1,108.1 L154.2,106.6 L155.3,105.1 L156.4,103.7 L157.5,102.3 L158.6,100.9 L159.6,99.6 L160.7,98.3 L161.8,97.1 L162.9,96.0 L164.0,94.8 L165.1,93.8 L166.1,92.7 L167.2,91.7 L168.3,90.8 L169.4,89.9 L170.5,89.1 L171.6,88.3 L172.7,87.6 L173.7,87.0 L174.8,86.4 L175.9,85.8 L177.0,85.3 L178.1,84.9 L179.2,84.5 L180.3,84.2 L181.3,83.9 L182.4,83.7 L183.5,83.6 L184.6,83.5 L185.7,83.5 L186.8,83.6 L187.8,83.7 L188.9,83.9 L190.0,84.1 L191.1,84.4 L192.2,84.7 L193.3,85.1 L194.4,85.6 L195.4,86.1 L196.5,86.6 L197.6,87.2 L198.7,87.8 L199.8,88.5 L200.9,89.2 L201.9,89.9 L203.0,90.7 L204.1,91.6 L205.2,92.4 L206.3,93.3 L207.4,94.3 L208.5,95.2 L209.5,96.2 L210.6,97.3 L211.7,98.4 L212.8,99.5 L213.9,100.6 L215.0,101.8 L216.1,103.0 L217.1,104.2 L218.2,105.4 L219.3,106.7 L220.4,108.0 L221.5,109.4 L222.6,110.7 L223.6,112.1 L224.7,113.5 L225.8,115.0 L226.9,116.5 L228.0,118.0 L229.1,119.5 L230.2,121.0 L231.2,122.6 L232.3,124.2 L233.4,125.9 L234.5,127.5 L235.6,129.2 L236.7,131.0 L237.7,132.7 L238.8,134.5 L239.9,136.3 L241.0,138.2 L242.1,140.1 L243.2,141.9 L244.3,143.9 L245.3,145.8 L246.4,147.8 L247.5,149.7 L248.6,151.7 L249.7,153.7 L250.8,155.8 L251.8,157.8 L252.9,159.9 L254.0,161.9 L255.1,164.0 L256.2,166.1 L257.3,168.2 L258.4,170.3 L259.4,172.4 L260.5,174.5 L261.6,176.7 L262.7,178.8 L263.8,180.9 L264.9,183.1 L266.0,185.2 L267.0,187.3 L268.1,189.5 L269.2,191.6 L270.3,193.7 L271.4,195.9 L272.5,198.0 L273.5,200.1 L274.6,202.2 L275.7,204.3 L276.8,206.4 L277.9,208.5 L279.0,210.5 L280.1,212.6 L281.1,214.6 L282.2,216.6 L283.3,218.6 L284.4,220.6 L285.5,222.5 L286.6,224.5 L287.6,226.4 L288.7,228.3 L289.8,230.2 L290.9,232.0 L292.0,233.8 L293.1,235.6 L294.2,237.4 L295.2,239.1 L296.3,240.9 L297.4,242.5 L298.5,244.2 L299.6,245.8 L300.7,247.3 L301.7,248.9 L302.8,250.4 L303.9,251.8 L305.0,253.3 L306.1,254.6 L307.2,256.0 L308.3,257.3 L309.3,258.5 L310.4,259.7 L311.5,260.9 L312.6,262.0 L313.7,263.1 L314.8,264.1 L315.9,265.1 L316.9,266.0 L318.0,266.8 L319.1,267.6 L320.2,268.4 L321.3,269.1 L322.4,269.7 L323.4,270.3 L324.5,270.8 L325.6,271.3 L326.7,271.7 L327.8,272.0"/>
</g>
<g fill="none" stroke="#161616" stroke-width="2.1" stroke-linecap="butt" stroke-linejoin="round">
<path d="M419.5,277.0 L419.9,277.0 L420.2,277.0 L420.6,277.0 L420.9,277.0 L421.3,277.0 L421.6,277.0 L422.0,276.9 L422.4,276.9 L422.7,276.9 L423.1,276.9 L423.4,276.8 L423.8,276.8 L424.1,276.8 L424.5,276.7 L424.9,276.7 L425.2,276.6 L425.6,276.6 L425.9,276.5 L426.3,276.4 L426.6,276.4 L427.0,276.3 L427.3,276.2 L427.7,276.2 L428.1,276.1 L428.4,276.0 L428.8,275.9 L429.1,275.8 L429.5,275.7 L429.8,275.6 L430.2,275.5 L430.6,275.4 L430.9,275.3 L431.3,275.2 L431.6,275.1 L432.0,275.0 L432.3,274.9 L432.7,274.8 L433.1,274.6 L433.4,274.5 L433.8,274.4 L434.1,274.3 L434.5,274.1 L434.8,274.0 L435.2,273.9 L435.6,273.7 L435.9,273.6 L436.3,273.4 L436.6,273.3 L437.0,273.1 L437.3,273.0 L437.7,272.8 L438.0,272.7 L438.4,272.5 L438.8,272.4 L439.1,272.2 L439.5,272.1 L439.8,271.9 L440.2,271.7 L440.5,271.6 L440.9,271.4 L441.3,271.2 L441.6,271.1 L442.0,270.9 L442.3,270.7 L442.7,270.6 L443.0,270.4 L443.4,270.2 L443.8,270.1 L444.1,269.9 L444.5,269.7 L444.8,269.5 L445.2,269.4 L445.5,269.2 L445.9,269.0 L446.3,268.9 L446.6,268.7 L447.0,268.5 L447.3,268.3 L447.7,268.2 L448.0,268.0 L448.4,267.8 L448.7,267.6 L449.1,267.5 L449.5,267.3 L449.8,267.1 L450.2,266.9 L450.5,266.8 L450.9,266.6 L451.2,266.4 L451.6,266.3 L452.0,266.1 L452.3,265.9 L452.7,265.7 L453.0,265.6 L453.4,265.4 L453.7,265.2 L454.1,265.1 L454.5,264.9 L454.8,264.7 L455.2,264.6 L455.5,264.4 L455.9,264.3 L456.2,264.1 L456.6,263.9 L457.0,263.8 L457.3,263.6 L457.7,263.5 L458.0,263.3 L458.4,263.1 L458.7,263.0 L459.1,262.8 L459.4,262.7 L459.8,262.5 L460.2,262.4 L460.5,262.2 L460.9,262.1 L461.2,262.0 L461.6,261.8 L461.9,261.7 L462.3,261.5 L462.7,261.4 L463.0,261.3 L463.4,261.1 L463.7,261.0 L464.1,260.9 L464.4,260.7 L464.8,260.6 L465.2,260.5 L465.5,260.3 L465.9,260.2 L466.2,260.1 L466.6,260.0 L466.9,259.9 L467.3,259.7 L467.7,259.6 L468.0,259.5 L468.4,259.4 L468.7,259.3 L469.1,259.2 L469.4,259.1 L469.8,259.0 L470.1,258.9 L470.5,258.8 L470.9,258.7 L471.2,258.6 L471.6,258.5 L471.9,258.4 L472.3,258.3 L472.6,258.2 L473.0,258.1 L473.4,258.0 L473.7,257.9 L474.1,257.8 L474.4,257.7 L474.8,257.7 L475.1,257.6 L475.5,257.5 L475.9,257.4 L476.2,257.4 L476.6,257.3 L476.9,257.2 L477.3,257.2 L477.6,257.1 L478.0,257.0 L478.4,257.0 L478.7,256.9 L479.1,256.8 L479.4,256.8 L479.8,256.7 L480.1,256.7 L480.5,256.6 L480.8,256.6 L481.2,256.5 L481.6,256.5 L481.9,256.4 L482.3,256.4 L482.6,256.4 L483.0,256.3 L483.3,256.3 L483.7,256.3 L484.1,256.2 L484.4,256.2 L484.8,256.2 L485.1,256.1 L485.5,256.1 L485.8,256.1 L486.2,256.1 L486.6,256.1 L486.9,256.0 L487.3,256.0 L487.6,256.0 L488.0,256.0 L488.3,256.0 L488.7,256.0 L489.1,256.0 L489.4,256.0 L489.8,256.0 L490.1,256.0 L490.5,256.0 L490.8,256.0 L491.2,256.0 L491.5,256.0 L491.9,256.0 L492.3,256.0 L492.6,256.0 L493.0,256.1 L493.3,256.1 L493.7,256.1 L494.0,256.1 L494.4,256.1 L494.8,256.2 L495.1,256.2 M511.5,259.2 L511.9,259.4 L512.2,259.5 L512.6,259.6 L512.9,259.7 L513.3,259.8 L513.7,259.9 L514.0,260.0 L514.4,260.1 L514.7,260.2 L515.1,260.4 L515.4,260.5 L515.8,260.6 L516.2,260.7 L516.5,260.8 L516.9,261.0 L517.2,261.1 L517.6,261.2 L517.9,261.3 L518.3,261.5 L518.7,261.6 L519.0,261.7 L519.4,261.9 L519.7,262.0 L520.1,262.1 L520.4,262.3 L520.8,262.4 L521.2,262.5 L521.5,262.7 L521.9,262.8 L522.2,263.0 L522.6,263.1 L522.9,263.3 L523.3,263.4 L523.6,263.5 L524.0,263.7 L524.4,263.8 L524.7,264.0 L525.1,264.1 L525.4,264.3 L525.8,264.4 L526.1,264.6 L526.5,264.7 L526.9,264.9 L527.2,265.1 L527.6,265.2 L527.9,265.4 L528.3,265.5 L528.6,265.7 L529.0,265.8 L529.4,266.0 L529.7,266.2 L530.1,266.3 L530.4,266.5 L530.8,266.6 L531.1,266.8 L531.5,267.0 L531.9,267.1 L532.2,267.3 L532.6,267.4 L532.9,267.6 L533.3,267.8 L533.6,267.9 L534.0,268.1 L534.3,268.3 L534.7,268.4 L535.1,268.6 L535.4,268.7 L535.8,268.9 L536.1,269.1 L536.5,269.2 L536.8,269.4 L537.2,269.6 L537.6,269.7 L537.9,269.9 L538.3,270.0 L538.6,270.2 L539.0,270.4 L539.3,270.5 L539.7,270.7 L540.1,270.8 L540.4,271.0 L540.8,271.2 L541.1,271.3 L541.5,271.5 L541.8,271.6 L542.2,271.8 L542.6,271.9 L542.9,272.1 L543.3,272.2 L543.6,272.4 L544.0,272.5 L544.3,272.7 L544.7,272.8 L545.0,273.0 L545.4,273.1 L545.8,273.3 L546.1,273.4 L546.5,273.5 L546.8,273.7 L547.2,273.8 L547.5,274.0 L547.9,274.1 L548.3,274.2 L548.6,274.3 L549.0,274.5 L549.3,274.6 L549.7,274.7 L550.0,274.8 L550.4,275.0 L550.8,275.1 L551.1,275.2 L551.5,275.3 L551.8,275.4 L552.2,275.5 L552.5,275.6 L552.9,275.7 L553.3,275.8 L553.6,275.9 L554.0,276.0 L554.3,276.1 L554.7,276.1 L555.0,276.2 L555.4,276.3 L555.7,276.4 L556.1,276.4 L556.5,276.5 L556.8,276.6 L557.2,276.6 L557.5,276.7 L557.9,276.7 L558.2,276.8 L558.6,276.8 L559.0,276.9 L559.3,276.9 L559.7,276.9 L560.0,276.9 L560.4,277.0 L560.7,277.0 L561.1,277.0 L561.5,277.0 L561.8,277.0"/>
<path d="M419.5,277.0 L419.9,277.0 L420.3,277.0 L420.7,277.0 L421.1,277.0 L421.5,276.9 L421.9,276.9 L422.3,276.8 L422.6,276.8 L423.0,276.7 L423.4,276.6 L423.8,276.6 L424.2,276.5 L424.6,276.4 L425.0,276.3 L425.4,276.1 L425.8,276.0 L426.2,275.9 L426.6,275.7 L427.0,275.6 L427.4,275.4 L427.8,275.2 L428.2,275.0 L428.6,274.8 L428.9,274.6 L429.3,274.4 L429.7,274.2 L430.1,274.0 L430.5,273.7 L430.9,273.5 L431.3,273.2 L431.7,272.9 L432.1,272.7 L432.5,272.4 L432.9,272.1 L433.3,271.8 L433.7,271.5 L434.1,271.2 L434.5,270.9 L434.9,270.5 L435.2,270.2 L435.6,269.9 L436.0,269.5 L436.4,269.2 L436.8,268.8 L437.2,268.4 L437.6,268.1 L438.0,267.7 L438.4,267.3 L438.8,266.9 L439.2,266.5 L439.6,266.1 L440.0,265.7 L440.4,265.3 L440.8,264.9 L441.2,264.5 L441.5,264.1 L441.9,263.7 L442.3,263.3 L442.7,262.8 L443.1,262.4 L443.5,262.0 L443.9,261.5 L444.3,261.1 L444.7,260.7 L445.1,260.2 L445.5,259.8 L445.9,259.3 L446.3,258.9 L446.7,258.4 L447.1,258.0 L447.5,257.5 L447.8,257.1 L448.2,256.6 L448.6,256.2 L449.0,255.7 L449.4,255.3 L449.8,254.8 L450.2,254.4 L450.6,253.9 L451.0,253.5 L451.4,253.0 L451.8,252.5 L452.2,252.1 L452.6,251.6 L453.0,251.2 L453.4,250.7 L453.8,250.3 L454.1,249.8 L454.5,249.4 L454.9,248.9 L455.3,248.5 L455.7,248.0 L456.1,247.6 L456.5,247.2 L456.9,246.7 L457.3,246.3 L457.7,245.9 L458.1,245.4 L458.5,245.0 L458.9,244.6 L459.3,244.1 L459.7,243.7 L460.1,243.3 L460.4,242.9 L460.8,242.5 L461.2,242.0 L461.6,241.6 L462.0,241.2 L462.4,240.8 L462.8,240.4 L463.2,240.0 L463.6,239.6 L464.0,239.2 L464.4,238.9 L464.8,238.5 L465.2,238.1 L465.6,237.7 L466.0,237.3 L466.4,237.0 L466.7,236.6 L467.1,236.3 L467.5,235.9 L467.9,235.5 L468.3,235.2 L468.7,234.8 L469.1,234.5 L469.5,234.2 L469.9,233.8 L470.3,233.5 L470.7,233.2 L471.1,232.9 L471.5,232.5 L471.9,232.2 L472.3,231.9 L472.7,231.6 L473.0,231.3 L473.4,231.0 L473.8,230.7 L474.2,230.4 L474.6,230.2 L475.0,229.9 L475.4,229.6 L475.8,229.4 L476.2,229.1 L476.6,228.8 L477.0,228.6 L477.4,228.3 L477.8,228.1 L478.2,227.8 L478.6,227.6 L479.0,227.4 L479.3,227.2 L479.7,226.9 L480.1,226.7 L480.5,226.5 L480.9,226.3 L481.3,226.1 L481.7,225.9 L482.1,225.7 L482.5,225.5 L482.9,225.4 L483.3,225.2 L483.7,225.0 L484.1,224.8 L484.5,224.7 L484.9,224.5 L485.3,224.4 L485.6,224.2 L486.0,224.1 L486.4,223.9 L486.8,223.8 L487.2,223.7 L487.6,223.6 L488.0,223.5 L488.4,223.3 L488.8,223.2 L489.2,223.1 L489.6,223.0 L490.0,222.9 L490.4,222.9 L490.8,222.8 L491.2,222.7 L491.6,222.6 L491.9,222.6 L492.3,222.5 L492.7,222.4 L493.1,222.4 L493.5,222.3 L493.9,222.3 L494.3,222.3 L494.7,222.2 L495.1,222.2 L495.5,222.2 L495.9,222.2 L496.3,222.1 L496.7,222.1 L497.1,222.1 L497.5,222.1 L497.9,222.1 L498.2,222.1 L498.6,222.2 L499.0,222.2 L499.4,222.2 L499.8,222.2 L500.2,222.3 L500.6,222.3 L501.0,222.4 L501.4,222.4 L501.8,222.5 L502.2,222.5 L502.6,222.6 L503.0,222.6 L503.4,222.7 L503.8,222.8 L504.2,222.9 L504.5,223.0 L504.9,223.1 L505.3,223.2 L505.7,223.3 L506.1,223.4 L506.5,223.5 L506.9,223.6 L507.3,223.7 L507.7,223.8 L508.1,224.0 L508.5,224.1 L508.9,224.2 L509.3,224.4 M525.4,233.9 L525.8,234.2 L526.2,234.5 L526.6,234.8 L527.0,235.1 L527.4,235.5 L527.8,235.8 L528.2,236.1 L528.6,236.5 L529.0,236.8 L529.4,237.1 L529.7,237.5 L530.1,237.8 L530.5,238.2 L530.9,238.5 L531.3,238.9 L531.7,239.3 L532.1,239.6 L532.5,240.0 L532.9,240.4 L533.3,240.7 L533.7,241.1 L534.1,241.5 L534.5,241.9 L534.9,242.3 L535.3,242.6 L535.7,243.0 L536.0,243.4 L536.4,243.8 L536.8,244.2 L537.2,244.6 L537.6,245.0 L538.0,245.4 L538.4,245.8 L538.8,246.2 L539.2,246.6 L539.6,247.0 L540.0,247.4 L540.4,247.8 L540.8,248.3 L541.2,248.7 L541.6,249.1 L542.0,249.5 L542.3,249.9 L542.7,250.3 L543.1,250.8 L543.5,251.2 L543.9,251.6 L544.3,252.0 L544.7,252.5 L545.1,252.9 L545.5,253.3 L545.9,253.7 L546.3,254.2 L546.7,254.6 L547.1,255.0 L547.5,255.4 L547.9,255.9 L548.3,256.3 L548.6,256.7 L549.0,257.1 L549.4,257.6 L549.8,258.0 L550.2,258.4 L550.6,258.8 L551.0,259.3 L551.4,259.7 L551.8,260.1 L552.2,260.5 L552.6,260.9 L553.0,261.3 L553.4,261.8 L553.8,262.2 L554.2,262.6 L554.6,263.0 L554.9,263.4 L555.3,263.8 L555.7,264.2 L556.1,264.6 L556.5,265.0 L556.9,265.4 L557.3,265.8 L557.7,266.1 L558.1,266.5 L558.5,266.9 L558.9,267.3 L559.3,267.6 L559.7,268.0 L560.1,268.3 L560.5,268.7 L560.9,269.1 L561.2,269.4 L561.6,269.7 L562.0,270.1 L562.4,270.4 L562.8,270.7 L563.2,271.0 L563.6,271.4 L564.0,271.7 L564.4,272.0 L564.8,272.2 L565.2,272.5 L565.6,272.8 L566.0,273.1 L566.4,273.3 L566.8,273.6 L567.2,273.9 L567.5,274.1 L567.9,274.3 L568.3,274.5 L568.7,274.8 L569.1,275.0 L569.5,275.2 L569.9,275.4 L570.3,275.5 L570.7,275.7 L571.1,275.9 L571.5,276.0 L571.9,276.2 L572.3,276.3 L572.7,276.4 L573.1,276.5 L573.5,276.6 L573.8,276.7 L574.2,276.8 L574.6,276.8 L575.0,276.9 L575.4,276.9 L575.8,277.0 L576.2,277.0 L576.6,277.0"/>
<path d="M419.5,277.0 L419.9,277.0 L420.4,277.0 L420.8,277.0 L421.2,276.9 L421.7,276.9 L422.1,276.8 L422.5,276.8 L422.9,276.7 L423.4,276.6 L423.8,276.5 L424.2,276.3 L424.7,276.2 L425.1,276.0 L425.5,275.9 L426.0,275.7 L426.4,275.5 L426.8,275.3 L427.3,275.0 L427.7,274.8 L428.1,274.5 L428.5,274.3 L429.0,274.0 L429.4,273.7 L429.8,273.4 L430.3,273.0 L430.7,272.7 L431.1,272.3 L431.6,272.0 L432.0,271.6 L432.4,271.2 L432.9,270.8 L433.3,270.4 L433.7,269.9 L434.1,269.5 L434.6,269.0 L435.0,268.6 L435.4,268.1 L435.9,267.6 L436.3,267.1 L436.7,266.6 L437.2,266.1 L437.6,265.5 L438.0,265.0 L438.5,264.4 L438.9,263.9 L439.3,263.3 L439.7,262.7 L440.2,262.2 L440.6,261.6 L441.0,261.0 L441.5,260.4 L441.9,259.8 L442.3,259.1 L442.8,258.5 L443.2,257.9 L443.6,257.2 L444.1,256.6 L444.5,256.0 L444.9,255.3 L445.3,254.6 L445.8,254.0 L446.2,253.3 L446.6,252.7 L447.1,252.0 L447.5,251.3 L447.9,250.6 L448.4,249.9 L448.8,249.3 L449.2,248.6 L449.7,247.9 L450.1,247.2 L450.5,246.5 L450.9,245.8 L451.4,245.1 L451.8,244.4 L452.2,243.7 L452.7,243.0 L453.1,242.3 L453.5,241.6 L454.0,240.9 L454.4,240.2 L454.8,239.5 L455.3,238.8 L455.7,238.1 L456.1,237.5 L456.5,236.8 L457.0,236.1 L457.4,235.4 L457.8,234.7 L458.3,234.0 L458.7,233.3 L459.1,232.6 L459.6,232.0 L460.0,231.3 L460.4,230.6 L460.9,229.9 L461.3,229.3 L461.7,228.6 L462.2,228.0 L462.6,227.3 L463.0,226.7 L463.4,226.0 L463.9,225.4 L464.3,224.7 L464.7,224.1 L465.2,223.5 L465.6,222.8 L466.0,222.2 L466.5,221.6 L466.9,221.0 L467.3,220.4 L467.8,219.8 L468.2,219.2 L468.6,218.6 L469.0,218.0 L469.5,217.4 L469.9,216.8 L470.3,216.3 L470.8,215.7 L471.2,215.1 L471.6,214.6 L472.1,214.0 L472.5,213.5 L472.9,213.0 L473.4,212.4 L473.8,211.9 L474.2,211.4 L474.6,210.9 L475.1,210.4 L475.5,209.9 L475.9,209.4 L476.4,208.9 L476.8,208.4 L477.2,207.9 L477.7,207.5 L478.1,207.0 L478.5,206.6 L479.0,206.1 L479.4,205.7 L479.8,205.3 L480.2,204.8 L480.7,204.4 L481.1,204.0 L481.5,203.6 L482.0,203.2 L482.4,202.8 L482.8,202.4 L483.3,202.1 L483.7,201.7 L484.1,201.3 L484.6,201.0 L485.0,200.7 L485.4,200.3 L485.8,200.0 L486.3,199.7 L486.7,199.3 L487.1,199.0 L487.6,198.7 L488.0,198.4 L488.4,198.2 L488.9,197.9 L489.3,197.6 L489.7,197.4 L490.2,197.1 L490.6,196.9 L491.0,196.6 L491.4,196.4 L491.9,196.2 L492.3,195.9 L492.7,195.7 L493.2,195.5 L493.6,195.3 L494.0,195.1 L494.5,195.0 L494.9,194.8 L495.3,194.6 L495.8,194.5 L496.2,194.3 L496.6,194.2 L497.0,194.1 L497.5,193.9 L497.9,193.8 L498.3,193.7 L498.8,193.6 L499.2,193.5 L499.6,193.4 L500.1,193.3 L500.5,193.3 L500.9,193.2 L501.4,193.1 L501.8,193.1 L502.2,193.0 L502.6,193.0 L503.1,193.0 L503.5,193.0 L503.9,192.9 L504.4,192.9 L504.8,192.9 L505.2,192.9 L505.7,193.0 L506.1,193.0 L506.5,193.0 L507.0,193.1 L507.4,193.1 L507.8,193.2 L508.2,193.2 L508.7,193.3 L509.1,193.4 L509.5,193.4 L510.0,193.5 L510.4,193.6 L510.8,193.7 L511.3,193.8 L511.7,194.0 L512.1,194.1 L512.6,194.2 L513.0,194.4 L513.4,194.5 L513.8,194.7 L514.3,194.8 L514.7,195.0 L515.1,195.2 L515.6,195.4 L516.0,195.5 L516.4,195.7 L516.9,195.9 L517.3,196.2 L517.7,196.4 L518.2,196.6 L518.6,196.8 L519.0,197.1 L519.4,197.3 L519.9,197.6 L520.3,197.8 L520.7,198.1 L521.2,198.4 M535.0,210.4 L535.4,210.9 L535.8,211.4 L536.2,211.9 L536.7,212.4 L537.1,212.9 L537.5,213.4 L538.0,213.9 L538.4,214.4 L538.8,214.9 L539.3,215.4 L539.7,215.9 L540.1,216.5 L540.6,217.0 L541.0,217.5 L541.4,218.1 L541.8,218.6 L542.3,219.2 L542.7,219.7 L543.1,220.3 L543.6,220.9 L544.0,221.4 L544.4,222.0 L544.9,222.6 L545.3,223.2 L545.7,223.8 L546.2,224.4 L546.6,225.0 L547.0,225.6 L547.5,226.2 L547.9,226.8 L548.3,227.4 L548.7,228.0 L549.2,228.6 L549.6,229.2 L550.0,229.8 L550.5,230.5 L550.9,231.1 L551.3,231.7 L551.8,232.3 L552.2,233.0 L552.6,233.6 L553.1,234.2 L553.5,234.9 L553.9,235.5 L554.3,236.2 L554.8,236.8 L555.2,237.5 L555.6,238.1 L556.1,238.8 L556.5,239.4 L556.9,240.1 L557.4,240.7 L557.8,241.4 L558.2,242.0 L558.7,242.7 L559.1,243.3 L559.5,244.0 L559.9,244.6 L560.4,245.3 L560.8,245.9 L561.2,246.6 L561.7,247.2 L562.1,247.9 L562.5,248.5 L563.0,249.2 L563.4,249.8 L563.8,250.5 L564.3,251.1 L564.7,251.7 L565.1,252.4 L565.5,253.0 L566.0,253.7 L566.4,254.3 L566.8,254.9 L567.3,255.5 L567.7,256.1 L568.1,256.8 L568.6,257.4 L569.0,258.0 L569.4,258.6 L569.9,259.2 L570.3,259.8 L570.7,260.4 L571.1,260.9 L571.6,261.5 L572.0,262.1 L572.4,262.6 L572.9,263.2 L573.3,263.7 L573.7,264.3 L574.2,264.8 L574.6,265.4 L575.0,265.9 L575.5,266.4 L575.9,266.9 L576.3,267.4 L576.7,267.9 L577.2,268.3 L577.6,268.8 L578.0,269.3 L578.5,269.7 L578.9,270.2 L579.3,270.6 L579.8,271.0 L580.2,271.4 L580.6,271.8 L581.1,272.2 L581.5,272.5 L581.9,272.9 L582.3,273.2 L582.8,273.6 L583.2,273.9 L583.6,274.2 L584.1,274.5 L584.5,274.8 L584.9,275.0 L585.4,275.3 L585.8,275.5 L586.2,275.7 L586.7,275.9 L587.1,276.1 L587.5,276.3 L587.9,276.4 L588.4,276.5 L588.8,276.7 L589.2,276.8 L589.7,276.8 L590.1,276.9 L590.5,277.0 L591.0,277.0 L591.4,277.0"/>
<path d="M419.5,277.0 L420.0,277.0 L420.4,277.0 L420.9,277.0 L421.4,276.9 L421.8,276.9 L422.3,276.8 L422.8,276.7 L423.2,276.6 L423.7,276.5 L424.2,276.3 L424.6,276.1 L425.1,276.0 L425.6,275.8 L426.1,275.5 L426.5,275.3 L427.0,275.1 L427.5,274.8 L427.9,274.5 L428.4,274.2 L428.9,273.8 L429.3,273.5 L429.8,273.1 L430.3,272.7 L430.7,272.3 L431.2,271.9 L431.7,271.5 L432.1,271.0 L432.6,270.5 L433.1,270.0 L433.5,269.5 L434.0,269.0 L434.5,268.5 L434.9,267.9 L435.4,267.3 L435.9,266.7 L436.3,266.1 L436.8,265.5 L437.3,264.9 L437.7,264.3 L438.2,263.6 L438.7,262.9 L439.2,262.3 L439.6,261.6 L440.1,260.9 L440.6,260.1 L441.0,259.4 L441.5,258.7 L442.0,257.9 L442.4,257.2 L442.9,256.4 L443.4,255.6 L443.8,254.8 L444.3,254.0 L444.8,253.2 L445.2,252.4 L445.7,251.6 L446.2,250.8 L446.6,250.0 L447.1,249.1 L447.6,248.3 L448.0,247.4 L448.5,246.6 L449.0,245.7 L449.4,244.9 L449.9,244.0 L450.4,243.1 L450.8,242.2 L451.3,241.4 L451.8,240.5 L452.3,239.6 L452.7,238.7 L453.2,237.8 L453.7,236.9 L454.1,236.0 L454.6,235.1 L455.1,234.2 L455.5,233.3 L456.0,232.4 L456.5,231.6 L456.9,230.7 L457.4,229.8 L457.9,228.9 L458.3,228.0 L458.8,227.1 L459.3,226.2 L459.7,225.3 L460.2,224.4 L460.7,223.5 L461.1,222.6 L461.6,221.8 L462.1,220.9 L462.5,220.0 L463.0,219.1 L463.5,218.3 L463.9,217.4 L464.4,216.6 L464.9,215.7 L465.4,214.8 L465.8,214.0 L466.3,213.2 L466.8,212.3 L467.2,211.5 L467.7,210.7 L468.2,209.8 L468.6,209.0 L469.1,208.2 L469.6,207.4 L470.0,206.6 L470.5,205.8 L471.0,205.0 L471.4,204.2 L471.9,203.5 L472.4,202.7 L472.8,201.9 L473.3,201.2 L473.8,200.4 L474.2,199.7 L474.7,199.0 L475.2,198.2 L475.6,197.5 L476.1,196.8 L476.6,196.1 L477.0,195.4 L477.5,194.7 L478.0,194.0 L478.5,193.4 L478.9,192.7 L479.4,192.0 L479.9,191.4 L480.3,190.8 L480.8,190.1 L481.3,189.5 L481.7,188.9 L482.2,188.3 L482.7,187.7 L483.1,187.1 L483.6,186.5 L484.1,185.9 L484.5,185.4 L485.0,184.8 L485.5,184.3 L485.9,183.8 L486.4,183.2 L486.9,182.7 L487.3,182.2 L487.8,181.7 L488.3,181.2 L488.7,180.7 L489.2,180.3 L489.7,179.8 L490.1,179.4 L490.6,178.9 L491.1,178.5 L491.6,178.1 L492.0,177.6 L492.5,177.2 L493.0,176.8 L493.4,176.5 L493.9,176.1 L494.4,175.7 L494.8,175.4 L495.3,175.0 L495.8,174.7 L496.2,174.4 L496.7,174.0 L497.2,173.7 L497.6,173.4 L498.1,173.1 L498.6,172.9 L499.0,172.6 L499.5,172.3 L500.0,172.1 L500.4,171.8 L500.9,171.6 L501.4,171.4 L501.8,171.2 L502.3,171.0 L502.8,170.8 L503.3,170.6 L503.7,170.4 L504.2,170.3 L504.7,170.1 L505.1,170.0 L505.6,169.8 L506.1,169.7 L506.5,169.6 L507.0,169.5 L507.5,169.4 L507.9,169.3 L508.4,169.3 L508.9,169.2 L509.3,169.1 L509.8,169.1 L510.3,169.1 L510.7,169.0 L511.2,169.0 L511.7,169.0 L512.1,169.0 L512.6,169.0 L513.1,169.0 L513.5,169.1 L514.0,169.1 L514.5,169.2 L514.9,169.2 L515.4,169.3 L515.9,169.4 L516.4,169.5 L516.8,169.5 L517.3,169.7 L517.8,169.8 L518.2,169.9 L518.7,170.0 L519.2,170.2 L519.6,170.3 L520.1,170.5 L520.6,170.7 L521.0,170.8 L521.5,171.0 L522.0,171.2 L522.4,171.4 L522.9,171.7 L523.4,171.9 L523.8,172.1 L524.3,172.4 L524.8,172.6 L525.2,172.9 L525.7,173.1 L526.2,173.4 L526.6,173.7 L527.1,174.0 L527.6,174.3 L528.0,174.6 L528.5,175.0 L529.0,175.3 L529.5,175.6 L529.9,176.0 L530.4,176.3 L530.9,176.7 L531.3,177.1 L531.8,177.5 M543.5,189.7 L544.0,190.3 L544.4,190.9 L544.9,191.5 L545.4,192.1 L545.8,192.7 L546.3,193.3 L546.8,193.9 L547.2,194.6 L547.7,195.2 L548.2,195.9 L548.6,196.5 L549.1,197.2 L549.6,197.9 L550.0,198.5 L550.5,199.2 L551.0,199.9 L551.4,200.6 L551.9,201.3 L552.4,202.0 L552.8,202.7 L553.3,203.4 L553.8,204.2 L554.2,204.9 L554.7,205.6 L555.2,206.4 L555.7,207.1 L556.1,207.9 L556.6,208.6 L557.1,209.4 L557.5,210.1 L558.0,210.9 L558.5,211.7 L558.9,212.5 L559.4,213.2 L559.9,214.0 L560.3,214.8 L560.8,215.6 L561.3,216.4 L561.7,217.2 L562.2,218.0 L562.7,218.8 L563.1,219.6 L563.6,220.4 L564.1,221.3 L564.5,222.1 L565.0,222.9 L565.5,223.7 L565.9,224.5 L566.4,225.4 L566.9,226.2 L567.3,227.0 L567.8,227.9 L568.3,228.7 L568.8,229.5 L569.2,230.4 L569.7,231.2 L570.2,232.1 L570.6,232.9 L571.1,233.7 L571.6,234.6 L572.0,235.4 L572.5,236.2 L573.0,237.1 L573.4,237.9 L573.9,238.8 L574.4,239.6 L574.8,240.4 L575.3,241.3 L575.8,242.1 L576.2,242.9 L576.7,243.7 L577.2,244.6 L577.6,245.4 L578.1,246.2 L578.6,247.0 L579.0,247.8 L579.5,248.6 L580.0,249.4 L580.4,250.2 L580.9,251.0 L581.4,251.8 L581.9,252.6 L582.3,253.3 L582.8,254.1 L583.3,254.9 L583.7,255.6 L584.2,256.4 L584.7,257.1 L585.1,257.8 L585.6,258.6 L586.1,259.3 L586.5,260.0 L587.0,260.7 L587.5,261.4 L587.9,262.0 L588.4,262.7 L588.9,263.4 L589.3,264.0 L589.8,264.6 L590.3,265.3 L590.7,265.9 L591.2,266.5 L591.7,267.1 L592.1,267.6 L592.6,268.2 L593.1,268.8 L593.6,269.3 L594.0,269.8 L594.5,270.3 L595.0,270.8 L595.4,271.3 L595.9,271.7 L596.4,272.2 L596.8,272.6 L597.3,273.0 L597.8,273.4 L598.2,273.8 L598.7,274.1 L599.2,274.5 L599.6,274.8 L600.1,275.1 L600.6,275.3 L601.0,275.6 L601.5,275.8 L602.0,276.1 L602.4,276.2 L602.9,276.4 L603.4,276.6 L603.8,276.7 L604.3,276.8 L604.8,276.9 L605.2,277.0 L605.7,277.0 L606.2,277.0"/>
<path d="M419.5,277.0 L420.0,277.0 L420.5,277.0 L421.0,276.9 L421.5,276.9 L422.0,276.8 L422.5,276.7 L423.0,276.6 L423.5,276.5 L424.0,276.3 L424.5,276.2 L425.1,276.0 L425.6,275.8 L426.1,275.5 L426.6,275.3 L427.1,275.0 L427.6,274.7 L428.1,274.3 L428.6,274.0 L429.1,273.6 L429.6,273.2 L430.1,272.8 L430.6,272.4 L431.1,271.9 L431.6,271.4 L432.1,270.9 L432.6,270.4 L433.1,269.8 L433.6,269.3 L434.1,268.7 L434.6,268.1 L435.2,267.4 L435.7,266.8 L436.2,266.1 L436.7,265.5 L437.2,264.8 L437.7,264.0 L438.2,263.3 L438.7,262.5 L439.2,261.8 L439.7,261.0 L440.2,260.2 L440.7,259.4 L441.2,258.6 L441.7,257.7 L442.2,256.9 L442.7,256.0 L443.2,255.1 L443.7,254.2 L444.2,253.3 L444.7,252.4 L445.3,251.5 L445.8,250.5 L446.3,249.6 L446.8,248.6 L447.3,247.7 L447.8,246.7 L448.3,245.7 L448.8,244.7 L449.3,243.7 L449.8,242.7 L450.3,241.7 L450.8,240.7 L451.3,239.6 L451.8,238.6 L452.3,237.6 L452.8,236.5 L453.3,235.5 L453.8,234.4 L454.3,233.4 L454.8,232.3 L455.4,231.3 L455.9,230.2 L456.4,229.1 L456.9,228.1 L457.4,227.0 L457.9,225.9 L458.4,224.9 L458.9,223.8 L459.4,222.7 L459.9,221.6 L460.4,220.6 L460.9,219.5 L461.4,218.4 L461.9,217.4 L462.4,216.3 L462.9,215.2 L463.4,214.2 L463.9,213.1 L464.4,212.1 L464.9,211.0 L465.5,210.0 L466.0,208.9 L466.5,207.9 L467.0,206.9 L467.5,205.8 L468.0,204.8 L468.5,203.8 L469.0,202.8 L469.5,201.7 L470.0,200.7 L470.5,199.7 L471.0,198.7 L471.5,197.7 L472.0,196.8 L472.5,195.8 L473.0,194.8 L473.5,193.9 L474.0,192.9 L474.5,192.0 L475.0,191.0 L475.5,190.1 L476.1,189.2 L476.6,188.2 L477.1,187.3 L477.6,186.4 L478.1,185.5 L478.6,184.6 L479.1,183.8 L479.6,182.9 L480.1,182.0 L480.6,181.2 L481.1,180.4 L481.6,179.5 L482.1,178.7 L482.6,177.9 L483.1,177.1 L483.6,176.3 L484.1,175.5 L484.6,174.7 L485.1,174.0 L485.6,173.2 L486.2,172.5 L486.7,171.7 L487.2,171.0 L487.7,170.3 L488.2,169.6 L488.7,168.9 L489.2,168.2 L489.7,167.6 L490.2,166.9 L490.7,166.2 L491.2,165.6 L491.7,165.0 L492.2,164.4 L492.7,163.8 L493.2,163.2 L493.7,162.6 L494.2,162.0 L494.7,161.4 L495.2,160.9 L495.7,160.4 L496.3,159.8 L496.8,159.3 L497.3,158.8 L497.8,158.3 L498.3,157.8 L498.8,157.4 L499.3,156.9 L499.8,156.4 L500.3,156.0 L500.8,155.6 L501.3,155.2 L501.8,154.8 L502.3,154.4 L502.8,154.0 L503.3,153.6 L503.8,153.3 L504.3,152.9 L504.8,152.6 L505.3,152.3 L505.8,152.0 L506.4,151.7 L506.9,151.4 L507.4,151.1 L507.9,150.8 L508.4,150.6 L508.9,150.3 L509.4,150.1 L509.9,149.9 L510.4,149.7 L510.9,149.5 L511.4,149.3 L511.9,149.2 L512.4,149.0 L512.9,148.8 L513.4,148.7 L513.9,148.6 L514.4,148.5 L514.9,148.4 L515.4,148.3 L515.9,148.2 L516.4,148.1 L517.0,148.1 L517.5,148.0 L518.0,148.0 L518.5,148.0 L519.0,148.0 L519.5,148.0 L520.0,148.0 L520.5,148.0 L521.0,148.1 L521.5,148.1 L522.0,148.2 L522.5,148.2 L523.0,148.3 L523.5,148.4 L524.0,148.5 L524.5,148.6 L525.0,148.8 L525.5,148.9 L526.0,149.1 L526.5,149.2 L527.1,149.4 L527.6,149.6 L528.1,149.8 L528.6,150.0 L529.1,150.2 L529.6,150.4 L530.1,150.6 L530.6,150.9 L531.1,151.2 L531.6,151.4 L532.1,151.7 L532.6,152.0 L533.1,152.3 L533.6,152.6 L534.1,152.9 L534.6,153.3 L535.1,153.6 L535.6,154.0 L536.1,154.3 L536.6,154.7 L537.2,155.1 L537.7,155.5 L538.2,155.9 L538.7,156.3 L539.2,156.7 L539.7,157.2 L540.2,157.6 L540.7,158.1 L541.2,158.6 M551.8,170.6 L552.3,171.3 L552.8,172.0 L553.3,172.7 L553.8,173.4 L554.3,174.1 L554.8,174.8 L555.3,175.6 L555.8,176.3 L556.3,177.0 L556.8,177.8 L557.4,178.5 L557.9,179.3 L558.4,180.1 L558.9,180.9 L559.4,181.7 L559.9,182.5 L560.4,183.3 L560.9,184.1 L561.4,184.9 L561.9,185.7 L562.4,186.6 L562.9,187.4 L563.4,188.3 L563.9,189.1 L564.4,190.0 L564.9,190.9 L565.4,191.7 L565.9,192.6 L566.4,193.5 L566.9,194.4 L567.4,195.3 L568.0,196.2 L568.5,197.1 L569.0,198.0 L569.5,199.0 L570.0,199.9 L570.5,200.8 L571.0,201.8 L571.5,202.7 L572.0,203.7 L572.5,204.6 L573.0,205.6 L573.5,206.5 L574.0,207.5 L574.5,208.5 L575.0,209.4 L575.5,210.4 L576.0,211.4 L576.5,212.4 L577.0,213.4 L577.5,214.3 L578.1,215.3 L578.6,216.3 L579.1,217.3 L579.6,218.3 L580.1,219.3 L580.6,220.3 L581.1,221.3 L581.6,222.3 L582.1,223.3 L582.6,224.3 L583.1,225.3 L583.6,226.3 L584.1,227.3 L584.6,228.3 L585.1,229.3 L585.6,230.3 L586.1,231.3 L586.6,232.3 L587.1,233.3 L587.6,234.3 L588.2,235.3 L588.7,236.3 L589.2,237.3 L589.7,238.2 L590.2,239.2 L590.7,240.2 L591.2,241.2 L591.7,242.1 L592.2,243.1 L592.7,244.0 L593.2,245.0 L593.7,245.9 L594.2,246.9 L594.7,247.8 L595.2,248.7 L595.7,249.6 L596.2,250.6 L596.7,251.5 L597.2,252.3 L597.7,253.2 L598.3,254.1 L598.8,255.0 L599.3,255.8 L599.8,256.7 L600.3,257.5 L600.8,258.3 L601.3,259.1 L601.8,259.9 L602.3,260.7 L602.8,261.5 L603.3,262.2 L603.8,263.0 L604.3,263.7 L604.8,264.4 L605.3,265.1 L605.8,265.8 L606.3,266.5 L606.8,267.2 L607.3,267.8 L607.8,268.4 L608.4,269.0 L608.9,269.6 L609.4,270.2 L609.9,270.7 L610.4,271.2 L610.9,271.7 L611.4,272.2 L611.9,272.7 L612.4,273.1 L612.9,273.6 L613.4,274.0 L613.9,274.3 L614.4,274.7 L614.9,275.0 L615.4,275.3 L615.9,275.6 L616.4,275.9 L616.9,276.1 L617.4,276.3 L617.9,276.5 L618.4,276.6 L619.0,276.8 L619.5,276.9 L620.0,276.9 L620.5,277.0 L621.0,277.0"/>
<path d="M419.5,277.0 L420.0,277.0 L420.6,277.0 L421.1,276.9 L421.7,276.9 L422.2,276.8 L422.8,276.7 L423.3,276.6 L423.8,276.4 L424.4,276.3 L424.9,276.1 L425.5,275.8 L426.0,275.6 L426.5,275.3 L427.1,275.0 L427.6,274.7 L428.2,274.3 L428.7,274.0 L429.3,273.6 L429.8,273.1 L430.3,272.7 L430.9,272.2 L431.4,271.7 L432.0,271.2 L432.5,270.6 L433.1,270.1 L433.6,269.5 L434.1,268.8 L434.7,268.2 L435.2,267.5 L435.8,266.8 L436.3,266.1 L436.8,265.4 L437.4,264.6 L437.9,263.8 L438.5,263.0 L439.0,262.2 L439.6,261.4 L440.1,260.5 L440.6,259.6 L441.2,258.8 L441.7,257.8 L442.3,256.9 L442.8,256.0 L443.3,255.0 L443.9,254.0 L444.4,253.0 L445.0,252.0 L445.5,251.0 L446.1,250.0 L446.6,248.9 L447.1,247.9 L447.7,246.8 L448.2,245.7 L448.8,244.6 L449.3,243.5 L449.9,242.4 L450.4,241.3 L450.9,240.2 L451.5,239.0 L452.0,237.9 L452.6,236.7 L453.1,235.6 L453.6,234.4 L454.2,233.2 L454.7,232.0 L455.3,230.8 L455.8,229.6 L456.4,228.4 L456.9,227.2 L457.4,226.0 L458.0,224.8 L458.5,223.6 L459.1,222.4 L459.6,221.2 L460.2,220.0 L460.7,218.8 L461.2,217.5 L461.8,216.3 L462.3,215.1 L462.9,213.9 L463.4,212.7 L463.9,211.4 L464.5,210.2 L465.0,209.0 L465.6,207.8 L466.1,206.6 L466.7,205.4 L467.2,204.2 L467.7,203.0 L468.3,201.8 L468.8,200.6 L469.4,199.4 L469.9,198.2 L470.4,197.0 L471.0,195.8 L471.5,194.7 L472.1,193.5 L472.6,192.3 L473.2,191.2 L473.7,190.0 L474.2,188.9 L474.8,187.8 L475.3,186.6 L475.9,185.5 L476.4,184.4 L477.0,183.3 L477.5,182.2 L478.0,181.1 L478.6,180.0 L479.1,179.0 L479.7,177.9 L480.2,176.8 L480.7,175.8 L481.3,174.7 L481.8,173.7 L482.4,172.7 L482.9,171.7 L483.5,170.7 L484.0,169.7 L484.5,168.7 L485.1,167.8 L485.6,166.8 L486.2,165.9 L486.7,164.9 L487.3,164.0 L487.8,163.1 L488.3,162.2 L488.9,161.3 L489.4,160.4 L490.0,159.5 L490.5,158.7 L491.0,157.8 L491.6,157.0 L492.1,156.2 L492.7,155.3 L493.2,154.5 L493.8,153.7 L494.3,153.0 L494.8,152.2 L495.4,151.5 L495.9,150.7 L496.5,150.0 L497.0,149.3 L497.6,148.6 L498.1,147.9 L498.6,147.2 L499.2,146.5 L499.7,145.9 L500.3,145.2 L500.8,144.6 L501.3,144.0 L501.9,143.4 L502.4,142.8 L503.0,142.2 L503.5,141.7 L504.1,141.1 L504.6,140.6 L505.1,140.0 L505.7,139.5 L506.2,139.0 L506.8,138.6 L507.3,138.1 L507.8,137.6 L508.4,137.2 L508.9,136.7 L509.5,136.3 L510.0,135.9 L510.6,135.5 L511.1,135.1 L511.6,134.8 L512.2,134.4 L512.7,134.1 L513.3,133.8 L513.8,133.4 L514.4,133.1 L514.9,132.9 L515.4,132.6 L516.0,132.3 L516.5,132.1 L517.1,131.8 L517.6,131.6 L518.1,131.4 L518.7,131.2 L519.2,131.0 L519.8,130.9 L520.3,130.7 L520.9,130.6 L521.4,130.4 L521.9,130.3 L522.5,130.2 L523.0,130.1 L523.6,130.1 L524.1,130.0 L524.7,130.0 L525.2,129.9 L525.7,129.9 L526.3,129.9 L526.8,129.9 L527.4,129.9 L527.9,129.9 L528.4,130.0 L529.0,130.0 L529.5,130.1 L530.1,130.2 L530.6,130.3 L531.2,130.4 L531.7,130.5 L532.2,130.6 L532.8,130.8 L533.3,130.9 L533.9,131.1 L534.4,131.3 L534.9,131.5 L535.5,131.7 L536.0,131.9 L536.6,132.1 L537.1,132.4 L537.7,132.7 L538.2,132.9 L538.7,133.2 L539.3,133.5 L539.8,133.8 L540.4,134.1 L540.9,134.5 L541.5,134.8 L542.0,135.2 L542.5,135.5 L543.1,135.9 L543.6,136.3 L544.2,136.7 L544.7,137.1 L545.2,137.6 L545.8,138.0 L546.3,138.4 L546.9,138.9 L547.4,139.4 L548.0,139.9 L548.5,140.4 L549.0,140.9 M559.9,153.5 L560.4,154.2 L561.0,155.0 L561.5,155.7 L562.1,156.5 L562.6,157.3 L563.1,158.1 L563.7,158.9 L564.2,159.7 L564.8,160.5 L565.3,161.3 L565.8,162.2 L566.4,163.0 L566.9,163.9 L567.5,164.7 L568.0,165.6 L568.6,166.5 L569.1,167.4 L569.6,168.3 L570.2,169.2 L570.7,170.1 L571.3,171.1 L571.8,172.0 L572.3,172.9 L572.9,173.9 L573.4,174.9 L574.0,175.8 L574.5,176.8 L575.1,177.8 L575.6,178.8 L576.1,179.8 L576.7,180.8 L577.2,181.8 L577.8,182.8 L578.3,183.9 L578.9,184.9 L579.4,185.9 L579.9,187.0 L580.5,188.0 L581.0,189.1 L581.6,190.1 L582.1,191.2 L582.6,192.3 L583.2,193.4 L583.7,194.5 L584.3,195.5 L584.8,196.6 L585.4,197.7 L585.9,198.8 L586.4,200.0 L587.0,201.1 L587.5,202.2 L588.1,203.3 L588.6,204.4 L589.2,205.6 L589.7,206.7 L590.2,207.8 L590.8,208.9 L591.3,210.1 L591.9,211.2 L592.4,212.4 L592.9,213.5 L593.5,214.6 L594.0,215.8 L594.6,216.9 L595.1,218.1 L595.7,219.2 L596.2,220.3 L596.7,221.5 L597.3,222.6 L597.8,223.8 L598.4,224.9 L598.9,226.0 L599.4,227.2 L600.0,228.3 L600.5,229.4 L601.1,230.6 L601.6,231.7 L602.2,232.8 L602.7,233.9 L603.2,235.0 L603.8,236.1 L604.3,237.2 L604.9,238.3 L605.4,239.4 L606.0,240.5 L606.5,241.6 L607.0,242.6 L607.6,243.7 L608.1,244.8 L608.7,245.8 L609.2,246.8 L609.7,247.9 L610.3,248.9 L610.8,249.9 L611.4,250.9 L611.9,251.9 L612.5,252.8 L613.0,253.8 L613.5,254.8 L614.1,255.7 L614.6,256.6 L615.2,257.5 L615.7,258.4 L616.3,259.3 L616.8,260.2 L617.3,261.0 L617.9,261.9 L618.4,262.7 L619.0,263.5 L619.5,264.3 L620.0,265.0 L620.6,265.8 L621.1,266.5 L621.7,267.2 L622.2,267.9 L622.8,268.6 L623.3,269.2 L623.8,269.8 L624.4,270.4 L624.9,271.0 L625.5,271.6 L626.0,272.1 L626.6,272.6 L627.1,273.1 L627.6,273.5 L628.2,274.0 L628.7,274.4 L629.3,274.7 L629.8,275.1 L630.3,275.4 L630.9,275.7 L631.4,276.0 L632.0,276.2 L632.5,276.4 L633.1,276.6 L633.6,276.7 L634.1,276.9 L634.7,276.9 L635.2,277.0 L635.8,277.0"/>
<path d="M419.5,277.0 L420.1,277.0 L420.7,277.0 L421.2,276.9 L421.8,276.9 L422.4,276.8 L423.0,276.7 L423.6,276.5 L424.1,276.4 L424.7,276.2 L425.3,276.0 L425.9,275.7 L426.4,275.4 L427.0,275.1 L427.6,274.8 L428.2,274.4 L428.8,274.1 L429.3,273.6 L429.9,273.2 L430.5,272.7 L431.1,272.2 L431.7,271.7 L432.2,271.1 L432.8,270.6 L433.4,269.9 L434.0,269.3 L434.6,268.6 L435.1,268.0 L435.7,267.2 L436.3,266.5 L436.9,265.7 L437.5,264.9 L438.0,264.1 L438.6,263.3 L439.2,262.4 L439.8,261.5 L440.3,260.6 L440.9,259.7 L441.5,258.8 L442.1,257.8 L442.7,256.8 L443.2,255.8 L443.8,254.8 L444.4,253.7 L445.0,252.7 L445.6,251.6 L446.1,250.5 L446.7,249.4 L447.3,248.2 L447.9,247.1 L448.5,245.9 L449.0,244.8 L449.6,243.6 L450.2,242.4 L450.8,241.2 L451.3,240.0 L451.9,238.7 L452.5,237.5 L453.1,236.2 L453.7,235.0 L454.2,233.7 L454.8,232.4 L455.4,231.1 L456.0,229.8 L456.6,228.5 L457.1,227.2 L457.7,225.9 L458.3,224.6 L458.9,223.2 L459.5,221.9 L460.0,220.6 L460.6,219.2 L461.2,217.9 L461.8,216.6 L462.4,215.2 L462.9,213.9 L463.5,212.5 L464.1,211.2 L464.7,209.8 L465.2,208.5 L465.8,207.1 L466.4,205.8 L467.0,204.4 L467.6,203.1 L468.1,201.7 L468.7,200.4 L469.3,199.0 L469.9,197.7 L470.5,196.4 L471.0,195.0 L471.6,193.7 L472.2,192.4 L472.8,191.1 L473.4,189.7 L473.9,188.4 L474.5,187.1 L475.1,185.8 L475.7,184.5 L476.3,183.3 L476.8,182.0 L477.4,180.7 L478.0,179.5 L478.6,178.2 L479.1,176.9 L479.7,175.7 L480.3,174.5 L480.9,173.3 L481.5,172.0 L482.0,170.8 L482.6,169.6 L483.2,168.4 L483.8,167.3 L484.4,166.1 L484.9,164.9 L485.5,163.8 L486.1,162.7 L486.7,161.5 L487.3,160.4 L487.8,159.3 L488.4,158.2 L489.0,157.1 L489.6,156.1 L490.1,155.0 L490.7,153.9 L491.3,152.9 L491.9,151.9 L492.5,150.9 L493.0,149.9 L493.6,148.9 L494.2,147.9 L494.8,146.9 L495.4,146.0 L495.9,145.0 L496.5,144.1 L497.1,143.2 L497.7,142.3 L498.3,141.4 L498.8,140.5 L499.4,139.7 L500.0,138.8 L500.6,138.0 L501.2,137.2 L501.7,136.4 L502.3,135.6 L502.9,134.8 L503.5,134.0 L504.0,133.3 L504.6,132.5 L505.2,131.8 L505.8,131.1 L506.4,130.4 L506.9,129.7 L507.5,129.1 L508.1,128.4 L508.7,127.8 L509.3,127.2 L509.8,126.5 L510.4,126.0 L511.0,125.4 L511.6,124.8 L512.2,124.3 L512.7,123.7 L513.3,123.2 L513.9,122.7 L514.5,122.2 L515.0,121.7 L515.6,121.3 L516.2,120.8 L516.8,120.4 L517.4,119.9 L517.9,119.5 L518.5,119.1 L519.1,118.8 L519.7,118.4 L520.3,118.1 L520.8,117.7 L521.4,117.4 L522.0,117.1 L522.6,116.8 L523.2,116.5 L523.7,116.3 L524.3,116.0 L524.9,115.8 L525.5,115.6 L526.1,115.4 L526.6,115.2 L527.2,115.0 L527.8,114.9 L528.4,114.7 L528.9,114.6 L529.5,114.5 L530.1,114.4 L530.7,114.3 L531.3,114.3 L531.8,114.2 L532.4,114.2 L533.0,114.1 L533.6,114.1 L534.2,114.1 L534.7,114.1 L535.3,114.2 L535.9,114.2 L536.5,114.3 L537.1,114.4 L537.6,114.5 L538.2,114.6 L538.8,114.7 L539.4,114.8 L539.9,115.0 L540.5,115.1 L541.1,115.3 L541.7,115.5 L542.3,115.7 L542.8,115.9 L543.4,116.1 L544.0,116.4 L544.6,116.6 L545.2,116.9 L545.7,117.2 L546.3,117.5 L546.9,117.8 L547.5,118.1 L548.1,118.5 L548.6,118.8 L549.2,119.2 L549.8,119.6 L550.4,120.0 L551.0,120.4 L551.5,120.8 L552.1,121.2 L552.7,121.7 L553.3,122.1 L553.8,122.6 L554.4,123.1 L555.0,123.6 L555.6,124.1 L556.2,124.6 L556.7,125.2 L557.3,125.7 L557.9,126.3 L558.5,126.9 L559.1,127.5 L559.6,128.1 L560.2,128.7 L560.8,129.3 L561.4,130.0 L562.0,130.6 L562.5,131.3 L563.1,132.0 L563.7,132.7 L564.3,133.4 L564.9,134.1 L565.4,134.8 L566.0,135.5 L566.6,136.3 L567.2,137.1 L567.7,137.8 L568.3,138.6 L568.9,139.4 L569.5,140.2 L570.1,141.0 L570.6,141.9 L571.2,142.7 L571.8,143.6 L572.4,144.4 L573.0,145.3 L573.5,146.2 L574.1,147.1 L574.7,148.0 L575.3,148.9 M582.8,161.8 L583.4,162.9 L584.0,163.9 L584.5,165.0 L585.1,166.1 L585.7,167.2 L586.3,168.3 L586.9,169.4 L587.4,170.5 L588.0,171.6 L588.6,172.7 L589.2,173.9 L589.8,175.0 L590.3,176.2 L590.9,177.3 L591.5,178.5 L592.1,179.7 L592.6,180.8 L593.2,182.0 L593.8,183.2 L594.4,184.4 L595.0,185.6 L595.5,186.8 L596.1,188.0 L596.7,189.3 L597.3,190.5 L597.9,191.7 L598.4,192.9 L599.0,194.2 L599.6,195.4 L600.2,196.7 L600.8,197.9 L601.3,199.1 L601.9,200.4 L602.5,201.7 L603.1,202.9 L603.6,204.2 L604.2,205.4 L604.8,206.7 L605.4,208.0 L606.0,209.2 L606.5,210.5 L607.1,211.7 L607.7,213.0 L608.3,214.3 L608.9,215.5 L609.4,216.8 L610.0,218.1 L610.6,219.3 L611.2,220.6 L611.8,221.8 L612.3,223.1 L612.9,224.3 L613.5,225.6 L614.1,226.8 L614.7,228.1 L615.2,229.3 L615.8,230.5 L616.4,231.8 L617.0,233.0 L617.5,234.2 L618.1,235.4 L618.7,236.6 L619.3,237.8 L619.9,239.0 L620.4,240.1 L621.0,241.3 L621.6,242.5 L622.2,243.6 L622.8,244.7 L623.3,245.9 L623.9,247.0 L624.5,248.1 L625.1,249.2 L625.7,250.3 L626.2,251.3 L626.8,252.4 L627.4,253.4 L628.0,254.4 L628.6,255.4 L629.1,256.4 L629.7,257.4 L630.3,258.4 L630.9,259.3 L631.4,260.2 L632.0,261.1 L632.6,262.0 L633.2,262.9 L633.8,263.7 L634.3,264.6 L634.9,265.4 L635.5,266.2 L636.1,266.9 L636.7,267.7 L637.2,268.4 L637.8,269.1 L638.4,269.7 L639.0,270.4 L639.6,271.0 L640.1,271.6 L640.7,272.1 L641.3,272.7 L641.9,273.2 L642.4,273.6 L643.0,274.1 L643.6,274.5 L644.2,274.9 L644.8,275.3 L645.3,275.6 L645.9,275.9 L646.5,276.1 L647.1,276.4 L647.7,276.5 L648.2,276.7 L648.8,276.8 L649.4,276.9 L650.0,277.0 L650.6,277.0"/>
<path d="M419.5,277.0 L420.1,277.0 L420.7,277.0 L421.3,276.9 L422.0,276.9 L422.6,276.8 L423.2,276.6 L423.8,276.5 L424.4,276.3 L425.0,276.1 L425.7,275.9 L426.3,275.6 L426.9,275.3 L427.5,275.0 L428.1,274.6 L428.7,274.2 L429.4,273.8 L430.0,273.4 L430.6,272.9 L431.2,272.4 L431.8,271.8 L432.4,271.3 L433.1,270.7 L433.7,270.0 L434.3,269.4 L434.9,268.7 L435.5,268.0 L436.1,267.2 L436.8,266.4 L437.4,265.6 L438.0,264.8 L438.6,263.9 L439.2,263.1 L439.8,262.2 L440.4,261.2 L441.1,260.3 L441.7,259.3 L442.3,258.3 L442.9,257.3 L443.5,256.2 L444.1,255.1 L444.8,254.0 L445.4,252.9 L446.0,251.8 L446.6,250.7 L447.2,249.5 L447.8,248.3 L448.5,247.1 L449.1,245.9 L449.7,244.6 L450.3,243.4 L450.9,242.1 L451.5,240.8 L452.2,239.5 L452.8,238.2 L453.4,236.9 L454.0,235.6 L454.6,234.2 L455.2,232.9 L455.9,231.5 L456.5,230.1 L457.1,228.7 L457.7,227.3 L458.3,225.9 L458.9,224.5 L459.6,223.1 L460.2,221.7 L460.8,220.3 L461.4,218.8 L462.0,217.4 L462.6,215.9 L463.2,214.5 L463.9,213.0 L464.5,211.6 L465.1,210.1 L465.7,208.7 L466.3,207.2 L466.9,205.7 L467.6,204.3 L468.2,202.8 L468.8,201.4 L469.4,199.9 L470.0,198.4 L470.6,197.0 L471.3,195.5 L471.9,194.1 L472.5,192.6 L473.1,191.2 L473.7,189.7 L474.3,188.3 L475.0,186.8 L475.6,185.4 L476.2,184.0 L476.8,182.6 L477.4,181.1 L478.0,179.7 L478.7,178.3 L479.3,176.9 L479.9,175.5 L480.5,174.2 L481.1,172.8 L481.7,171.4 L482.3,170.1 L483.0,168.7 L483.6,167.4 L484.2,166.0 L484.8,164.7 L485.4,163.4 L486.0,162.1 L486.7,160.8 L487.3,159.5 L487.9,158.2 L488.5,157.0 L489.1,155.7 L489.7,154.5 L490.4,153.2 L491.0,152.0 L491.6,150.8 L492.2,149.6 L492.8,148.4 L493.4,147.2 L494.1,146.1 L494.7,144.9 L495.3,143.8 L495.9,142.7 L496.5,141.6 L497.1,140.5 L497.8,139.4 L498.4,138.3 L499.0,137.3 L499.6,136.2 L500.2,135.2 L500.8,134.2 L501.4,133.2 L502.1,132.2 L502.7,131.2 L503.3,130.2 L503.9,129.3 L504.5,128.4 L505.1,127.4 L505.8,126.5 L506.4,125.7 L507.0,124.8 L507.6,123.9 L508.2,123.1 L508.8,122.3 L509.5,121.4 L510.1,120.6 L510.7,119.9 L511.3,119.1 L511.9,118.3 L512.5,117.6 L513.2,116.9 L513.8,116.2 L514.4,115.5 L515.0,114.8 L515.6,114.1 L516.2,113.5 L516.9,112.9 L517.5,112.3 L518.1,111.7 L518.7,111.1 L519.3,110.5 L519.9,110.0 L520.5,109.4 L521.2,108.9 L521.8,108.4 L522.4,107.9 L523.0,107.5 L523.6,107.0 L524.2,106.6 L524.9,106.1 L525.5,105.7 L526.1,105.3 L526.7,105.0 L527.3,104.6 L527.9,104.3 L528.6,103.9 L529.2,103.6 L529.8,103.3 L530.4,103.0 L531.0,102.8 L531.6,102.5 L532.3,102.3 L532.9,102.1 L533.5,101.9 L534.1,101.7 L534.7,101.5 L535.3,101.4 L536.0,101.2 L536.6,101.1 L537.2,101.0 L537.8,100.9 L538.4,100.8 L539.0,100.8 L539.7,100.7 L540.3,100.7 L540.9,100.7 L541.5,100.7 L542.1,100.7 L542.7,100.8 L543.3,100.8 L544.0,100.9 L544.6,101.0 L545.2,101.1 L545.8,101.2 L546.4,101.3 L547.0,101.4 L547.7,101.6 L548.3,101.8 L548.9,102.0 L549.5,102.2 L550.1,102.4 L550.7,102.6 L551.4,102.9 L552.0,103.1 L552.6,103.4 L553.2,103.7 L553.8,104.0 L554.4,104.3 L555.1,104.7 L555.7,105.0 L556.3,105.4 L556.9,105.8 L557.5,106.2 L558.1,106.6 L558.8,107.0 L559.4,107.5 L560.0,107.9 L560.6,108.4 L561.2,108.9 L561.8,109.4 L562.4,109.9 L563.1,110.4 L563.7,111.0 L564.3,111.5 L564.9,112.1 L565.5,112.7 L566.1,113.3 L566.8,113.9 L567.4,114.5 L568.0,115.1 L568.6,115.8 L569.2,116.5 L569.8,117.1 L570.5,117.8 L571.1,118.6 L571.7,119.3 L572.3,120.0 L572.9,120.8 L573.5,121.5 L574.2,122.3 L574.8,123.1 L575.4,123.9 L576.0,124.7 L576.6,125.5 L577.2,126.4 L577.9,127.2 L578.5,128.1 L579.1,128.9 L579.7,129.8 L580.3,130.7 L580.9,131.6 L581.5,132.6 L582.2,133.5 L582.8,134.5 L583.4,135.4 L584.0,136.4 L584.6,137.4 L585.2,138.4 L585.9,139.4 L586.5,140.4 L587.1,141.4 L587.7,142.5 L588.3,143.5 L588.9,144.6 L589.6,145.6 L590.2,146.7 L590.8,147.8 L591.4,148.9 L592.0,150.0 L592.6,151.2 L593.3,152.3 L593.9,153.4 L594.5,154.6 L595.1,155.8 L595.7,156.9 L596.3,158.1 L597.0,159.3 L597.6,160.5 L598.2,161.7 M604.3,174.2 L605.0,175.5 L605.6,176.8 L606.2,178.1 L606.8,179.4 L607.4,180.7 L608.0,182.0 L608.7,183.3 L609.3,184.7 L609.9,186.0 L610.5,187.3 L611.1,188.7 L611.7,190.0 L612.4,191.4 L613.0,192.7 L613.6,194.1 L614.2,195.4 L614.8,196.8 L615.4,198.2 L616.1,199.5 L616.7,200.9 L617.3,202.3 L617.9,203.6 L618.5,205.0 L619.1,206.4 L619.8,207.7 L620.4,209.1 L621.0,210.5 L621.6,211.8 L622.2,213.2 L622.8,214.6 L623.4,215.9 L624.1,217.3 L624.7,218.7 L625.3,220.0 L625.9,221.4 L626.5,222.7 L627.1,224.0 L627.8,225.4 L628.4,226.7 L629.0,228.0 L629.6,229.3 L630.2,230.7 L630.8,232.0 L631.5,233.3 L632.1,234.6 L632.7,235.8 L633.3,237.1 L633.9,238.4 L634.5,239.6 L635.2,240.9 L635.8,242.1 L636.4,243.3 L637.0,244.5 L637.6,245.7 L638.2,246.9 L638.9,248.1 L639.5,249.2 L640.1,250.3 L640.7,251.5 L641.3,252.6 L641.9,253.7 L642.5,254.7 L643.2,255.8 L643.8,256.8 L644.4,257.9 L645.0,258.9 L645.6,259.8 L646.2,260.8 L646.9,261.7 L647.5,262.7 L648.1,263.5 L648.7,264.4 L649.3,265.3 L649.9,266.1 L650.6,266.9 L651.2,267.7 L651.8,268.4 L652.4,269.1 L653.0,269.8 L653.6,270.5 L654.3,271.1 L654.9,271.7 L655.5,272.3 L656.1,272.9 L656.7,273.4 L657.3,273.9 L658.0,274.3 L658.6,274.7 L659.2,275.1 L659.8,275.5 L660.4,275.8 L661.0,276.1 L661.6,276.3 L662.3,276.5 L662.9,276.7 L663.5,276.8 L664.1,276.9 L664.7,277.0 L665.3,277.0"/>
<path d="M419.5,277.0 L420.2,277.0 L420.8,277.0 L421.5,276.9 L422.1,276.8 L422.8,276.7 L423.4,276.6 L424.1,276.5 L424.7,276.3 L425.4,276.0 L426.0,275.8 L426.7,275.5 L427.3,275.2 L428.0,274.8 L428.6,274.5 L429.3,274.1 L430.0,273.6 L430.6,273.1 L431.3,272.6 L431.9,272.1 L432.6,271.5 L433.2,270.9 L433.9,270.2 L434.5,269.6 L435.2,268.9 L435.8,268.1 L436.5,267.4 L437.1,266.6 L437.8,265.7 L438.4,264.9 L439.1,264.0 L439.7,263.1 L440.4,262.1 L441.1,261.2 L441.7,260.2 L442.4,259.2 L443.0,258.1 L443.7,257.0 L444.3,255.9 L445.0,254.8 L445.6,253.7 L446.3,252.5 L446.9,251.3 L447.6,250.1 L448.2,248.9 L448.9,247.7 L449.5,246.4 L450.2,245.1 L450.9,243.8 L451.5,242.5 L452.2,241.2 L452.8,239.8 L453.5,238.4 L454.1,237.0 L454.8,235.7 L455.4,234.2 L456.1,232.8 L456.7,231.4 L457.4,229.9 L458.0,228.5 L458.7,227.0 L459.3,225.5 L460.0,224.0 L460.7,222.6 L461.3,221.0 L462.0,219.5 L462.6,218.0 L463.3,216.5 L463.9,215.0 L464.6,213.4 L465.2,211.9 L465.9,210.3 L466.5,208.8 L467.2,207.2 L467.8,205.7 L468.5,204.1 L469.1,202.6 L469.8,201.0 L470.5,199.5 L471.1,197.9 L471.8,196.3 L472.4,194.8 L473.1,193.2 L473.7,191.7 L474.4,190.1 L475.0,188.6 L475.7,187.0 L476.3,185.5 L477.0,183.9 L477.6,182.4 L478.3,180.9 L478.9,179.3 L479.6,177.8 L480.2,176.3 L480.9,174.8 L481.6,173.3 L482.2,171.8 L482.9,170.3 L483.5,168.8 L484.2,167.3 L484.8,165.9 L485.5,164.4 L486.1,163.0 L486.8,161.5 L487.4,160.1 L488.1,158.7 L488.7,157.3 L489.4,155.9 L490.0,154.5 L490.7,153.1 L491.4,151.7 L492.0,150.4 L492.7,149.0 L493.3,147.7 L494.0,146.3 L494.6,145.0 L495.3,143.7 L495.9,142.4 L496.6,141.2 L497.2,139.9 L497.9,138.7 L498.5,137.4 L499.2,136.2 L499.8,135.0 L500.5,133.8 L501.2,132.6 L501.8,131.4 L502.5,130.3 L503.1,129.1 L503.8,128.0 L504.4,126.9 L505.1,125.8 L505.7,124.7 L506.4,123.6 L507.0,122.6 L507.7,121.5 L508.3,120.5 L509.0,119.5 L509.6,118.5 L510.3,117.5 L511.0,116.6 L511.6,115.6 L512.3,114.7 L512.9,113.8 L513.6,112.9 L514.2,112.0 L514.9,111.1 L515.5,110.3 L516.2,109.5 L516.8,108.6 L517.5,107.8 L518.1,107.0 L518.8,106.3 L519.4,105.5 L520.1,104.8 L520.7,104.1 L521.4,103.4 L522.1,102.7 L522.7,102.0 L523.4,101.4 L524.0,100.7 L524.7,100.1 L525.3,99.5 L526.0,98.9 L526.6,98.3 L527.3,97.8 L527.9,97.2 L528.6,96.7 L529.2,96.2 L529.9,95.7 L530.5,95.3 L531.2,94.8 L531.9,94.4 L532.5,94.0 L533.2,93.6 L533.8,93.2 L534.5,92.8 L535.1,92.5 L535.8,92.1 L536.4,91.8 L537.1,91.5 L537.7,91.2 L538.4,91.0 L539.0,90.7 L539.7,90.5 L540.3,90.3 L541.0,90.1 L541.7,89.9 L542.3,89.7 L543.0,89.6 L543.6,89.5 L544.3,89.4 L544.9,89.3 L545.6,89.2 L546.2,89.1 L546.9,89.1 L547.5,89.0 L548.2,89.0 L548.8,89.0 L549.5,89.0 L550.1,89.1 L550.8,89.1 L551.5,89.2 L552.1,89.3 L552.8,89.4 L553.4,89.5 L554.1,89.7 L554.7,89.8 L555.4,90.0 L556.0,90.2 L556.7,90.4 L557.3,90.6 L558.0,90.8 L558.6,91.1 L559.3,91.3 L559.9,91.6 L560.6,91.9 L561.2,92.2 L561.9,92.6 L562.6,92.9 L563.2,93.3 L563.9,93.6 L564.5,94.0 L565.2,94.4 L565.8,94.9 L566.5,95.3 L567.1,95.8 L567.8,96.2 L568.4,96.7 L569.1,97.2 L569.7,97.7 L570.4,98.3 L571.0,98.8 L571.7,99.4 L572.4,100.0 L573.0,100.6 L573.7,101.2 L574.3,101.8 L575.0,102.4 L575.6,103.1 L576.3,103.7 L576.9,104.4 L577.6,105.1 L578.2,105.8 L578.9,106.6 L579.5,107.3 L580.2,108.1 L580.8,108.8 L581.5,109.6 L582.2,110.4 L582.8,111.2 L583.5,112.0 L584.1,112.9 L584.8,113.7 L585.4,114.6 L586.1,115.5 L586.7,116.4 L587.4,117.3 L588.0,118.2 L588.7,119.1 L589.3,120.1 L590.0,121.0 L590.6,122.0 L591.3,123.0 L592.0,124.0 L592.6,125.0 L593.3,126.0 L593.9,127.1 L594.6,128.1 L595.2,129.2 L595.9,130.3 L596.5,131.3 L597.2,132.4 L597.8,133.6 L598.5,134.7 L599.1,135.8 L599.8,136.9 L600.4,138.1 L601.1,139.3 L601.7,140.4 L602.4,141.6 L603.1,142.8 L603.7,144.0 L604.4,145.3 L605.0,146.5 L605.7,147.7 L606.3,149.0 L607.0,150.2 L607.6,151.5 L608.3,152.8 L608.9,154.1 L609.6,155.4 L610.2,156.7 L610.9,158.0 L611.5,159.3 L612.2,160.6 L612.9,162.0 L613.5,163.3 L614.2,164.7 L614.8,166.0 L615.5,167.4 L616.1,168.8 L616.8,170.1 L617.4,171.5 M623.3,184.3 L624.0,185.7 L624.6,187.1 L625.3,188.6 L625.9,190.0 L626.6,191.5 L627.2,192.9 L627.9,194.4 L628.5,195.9 L629.2,197.3 L629.8,198.8 L630.5,200.2 L631.1,201.7 L631.8,203.2 L632.5,204.6 L633.1,206.1 L633.8,207.5 L634.4,209.0 L635.1,210.4 L635.7,211.9 L636.4,213.3 L637.0,214.8 L637.7,216.2 L638.3,217.7 L639.0,219.1 L639.6,220.5 L640.3,222.0 L640.9,223.4 L641.6,224.8 L642.2,226.2 L642.9,227.6 L643.6,229.0 L644.2,230.4 L644.9,231.7 L645.5,233.1 L646.2,234.5 L646.8,235.8 L647.5,237.1 L648.1,238.5 L648.8,239.8 L649.4,241.1 L650.1,242.4 L650.7,243.6 L651.4,244.9 L652.0,246.1 L652.7,247.4 L653.4,248.6 L654.0,249.8 L654.7,251.0 L655.3,252.1 L656.0,253.3 L656.6,254.4 L657.3,255.5 L657.9,256.6 L658.6,257.7 L659.2,258.7 L659.9,259.7 L660.5,260.7 L661.2,261.7 L661.8,262.7 L662.5,263.6 L663.2,264.5 L663.8,265.4 L664.5,266.2 L665.1,267.0 L665.8,267.8 L666.4,268.6 L667.1,269.3 L667.7,270.1 L668.4,270.7 L669.0,271.4 L669.7,272.0 L670.3,272.6 L671.0,273.1 L671.6,273.6 L672.3,274.1 L673.0,274.6 L673.6,275.0 L674.3,275.4 L674.9,275.7 L675.6,276.0 L676.2,276.3 L676.9,276.5 L677.5,276.7 L678.2,276.8 L678.8,276.9 L679.5,277.0 L680.1,277.0"/>
<path d="M419.5,277.0 L420.2,277.0 L420.9,277.0 L421.6,276.9 L422.3,276.8 L423.0,276.7 L423.6,276.6 L424.3,276.4 L425.0,276.2 L425.7,276.0 L426.4,275.7 L427.1,275.4 L427.8,275.1 L428.5,274.7 L429.2,274.3 L429.9,273.9 L430.5,273.4 L431.2,272.9 L431.9,272.4 L432.6,271.8 L433.3,271.2 L434.0,270.6 L434.7,269.9 L435.4,269.2 L436.1,268.5 L436.8,267.7 L437.4,266.9 L438.1,266.0 L438.8,265.2 L439.5,264.3 L440.2,263.3 L440.9,262.4 L441.6,261.4 L442.3,260.4 L443.0,259.3 L443.7,258.3 L444.4,257.2 L445.0,256.0 L445.7,254.9 L446.4,253.7 L447.1,252.5 L447.8,251.3 L448.5,250.1 L449.2,248.8 L449.9,247.5 L450.6,246.2 L451.3,244.9 L451.9,243.5 L452.6,242.2 L453.3,240.8 L454.0,239.4 L454.7,237.9 L455.4,236.5 L456.1,235.1 L456.8,233.6 L457.5,232.1 L458.2,230.6 L458.8,229.1 L459.5,227.6 L460.2,226.1 L460.9,224.5 L461.6,223.0 L462.3,221.4 L463.0,219.8 L463.7,218.3 L464.4,216.7 L465.1,215.1 L465.7,213.5 L466.4,211.9 L467.1,210.3 L467.8,208.7 L468.5,207.0 L469.2,205.4 L469.9,203.8 L470.6,202.1 L471.3,200.5 L472.0,198.9 L472.7,197.2 L473.3,195.6 L474.0,194.0 L474.7,192.3 L475.4,190.7 L476.1,189.1 L476.8,187.4 L477.5,185.8 L478.2,184.2 L478.9,182.5 L479.6,180.9 L480.2,179.3 L480.9,177.7 L481.6,176.1 L482.3,174.5 L483.0,172.9 L483.7,171.3 L484.4,169.7 L485.1,168.1 L485.8,166.6 L486.5,165.0 L487.1,163.4 L487.8,161.9 L488.5,160.4 L489.2,158.8 L489.9,157.3 L490.6,155.8 L491.3,154.3 L492.0,152.8 L492.7,151.3 L493.4,149.8 L494.1,148.4 L494.7,146.9 L495.4,145.5 L496.1,144.1 L496.8,142.6 L497.5,141.2 L498.2,139.9 L498.9,138.5 L499.6,137.1 L500.3,135.8 L501.0,134.4 L501.6,133.1 L502.3,131.8 L503.0,130.5 L503.7,129.2 L504.4,127.9 L505.1,126.7 L505.8,125.4 L506.5,124.2 L507.2,123.0 L507.9,121.8 L508.5,120.6 L509.2,119.4 L509.9,118.3 L510.6,117.1 L511.3,116.0 L512.0,114.9 L512.7,113.8 L513.4,112.7 L514.1,111.7 L514.8,110.6 L515.5,109.6 L516.1,108.6 L516.8,107.6 L517.5,106.6 L518.2,105.7 L518.9,104.7 L519.6,103.8 L520.3,102.9 L521.0,102.0 L521.7,101.1 L522.4,100.3 L523.0,99.4 L523.7,98.6 L524.4,97.8 L525.1,97.0 L525.8,96.2 L526.5,95.5 L527.2,94.7 L527.9,94.0 L528.6,93.3 L529.3,92.6 L529.9,92.0 L530.6,91.3 L531.3,90.7 L532.0,90.1 L532.7,89.5 L533.4,88.9 L534.1,88.3 L534.8,87.8 L535.5,87.2 L536.2,86.7 L536.9,86.2 L537.5,85.8 L538.2,85.3 L538.9,84.9 L539.6,84.5 L540.3,84.1 L541.0,83.7 L541.7,83.3 L542.4,82.9 L543.1,82.6 L543.8,82.3 L544.4,82.0 L545.1,81.7 L545.8,81.5 L546.5,81.2 L547.2,81.0 L547.9,80.8 L548.6,80.6 L549.3,80.4 L550.0,80.3 L550.7,80.1 L551.3,80.0 L552.0,79.9 L552.7,79.8 L553.4,79.8 L554.1,79.7 L554.8,79.7 L555.5,79.7 L556.2,79.7 L556.9,79.7 L557.6,79.7 L558.2,79.8 L558.9,79.9 L559.6,80.0 L560.3,80.1 L561.0,80.2 L561.7,80.3 L562.4,80.5 L563.1,80.7 L563.8,80.9 L564.5,81.1 L565.2,81.3 L565.8,81.6 L566.5,81.8 L567.2,82.1 L567.9,82.4 L568.6,82.7 L569.3,83.0 L570.0,83.4 L570.7,83.8 L571.4,84.1 L572.1,84.5 L572.7,84.9 L573.4,85.4 L574.1,85.8 L574.8,86.3 L575.5,86.8 L576.2,87.2 L576.9,87.8 L577.6,88.3 L578.3,88.8 L579.0,89.4 L579.6,90.0 L580.3,90.6 L581.0,91.2 L581.7,91.8 L582.4,92.4 L583.1,93.1 L583.8,93.7 L584.5,94.4 L585.2,95.1 L585.9,95.9 L586.6,96.6 L587.2,97.3 L587.9,98.1 L588.6,98.9 L589.3,99.7 L590.0,100.5 L590.7,101.3 L591.4,102.1 L592.1,103.0 L592.8,103.8 L593.5,104.7 L594.1,105.6 L594.8,106.5 L595.5,107.5 L596.2,108.4 L596.9,109.4 L597.6,110.3 L598.3,111.3 L599.0,112.3 L599.7,113.3 L600.4,114.3 L601.0,115.4 L601.7,116.4 L602.4,117.5 L603.1,118.5 L603.8,119.6 L604.5,120.7 L605.2,121.8 L605.9,123.0 L606.6,124.1 L607.3,125.3 L608.0,126.4 L608.6,127.6 L609.3,128.8 L610.0,130.0 L610.7,131.2 L611.4,132.4 L612.1,133.7 L612.8,134.9 L613.5,136.2 L614.2,137.4 L614.9,138.7 L615.5,140.0 L616.2,141.3 L616.9,142.6 L617.6,143.9 L618.3,145.3 L619.0,146.6 L619.7,148.0 L620.4,149.3 L621.1,150.7 L621.8,152.1 L622.4,153.4 L623.1,154.8 L623.8,156.2 L624.5,157.7 L625.2,159.1 L625.9,160.5 L626.6,161.9 L627.3,163.4 L628.0,164.8 L628.7,166.3 L629.3,167.8 L630.0,169.2 L630.7,170.7 L631.4,172.2 L632.1,173.7 L632.8,175.2 L633.5,176.7 L634.2,178.2 L634.9,179.7 L635.6,181.2 L636.3,182.7 M642.5,196.4 L643.2,198.0 L643.8,199.5 L644.5,201.0 L645.2,202.5 L645.9,204.1 L646.6,205.6 L647.3,207.1 L648.0,208.7 L648.7,210.2 L649.4,211.7 L650.1,213.2 L650.7,214.7 L651.4,216.2 L652.1,217.7 L652.8,219.2 L653.5,220.7 L654.2,222.2 L654.9,223.7 L655.6,225.1 L656.3,226.6 L657.0,228.0 L657.7,229.5 L658.3,230.9 L659.0,232.3 L659.7,233.8 L660.4,235.2 L661.1,236.5 L661.8,237.9 L662.5,239.3 L663.2,240.6 L663.9,242.0 L664.6,243.3 L665.2,244.6 L665.9,245.9 L666.6,247.2 L667.3,248.4 L668.0,249.7 L668.7,250.9 L669.4,252.1 L670.1,253.3 L670.8,254.4 L671.5,255.6 L672.1,256.7 L672.8,257.8 L673.5,258.9 L674.2,259.9 L674.9,260.9 L675.6,261.9 L676.3,262.9 L677.0,263.9 L677.7,264.8 L678.4,265.7 L679.1,266.5 L679.7,267.4 L680.4,268.2 L681.1,269.0 L681.8,269.7 L682.5,270.4 L683.2,271.1 L683.9,271.7 L684.6,272.4 L685.3,272.9 L686.0,273.5 L686.6,274.0 L687.3,274.4 L688.0,274.9 L688.7,275.3 L689.4,275.6 L690.1,275.9 L690.8,276.2 L691.5,276.5 L692.2,276.6 L692.9,276.8 L693.5,276.9 L694.2,277.0 L694.9,277.0"/>
</g>
<g stroke="#8a8a8a" fill="none">
<path stroke="#6a6a6a" stroke-width="1.1" d="M55.8,45.5 V278.4"/>
<path stroke-width="2.0" d="M55.3,278.4 H340.0"/>
</g>
<g stroke="#6a6a6a" stroke-width="1" fill="none">
<path d="M55.8,220.0 h3.2"/>
<path d="M55.8,162.0 h3.2"/>
<path d="M55.8,104.0 h3.2"/>
<path d="M55.8,46.0 h3.2"/>
<path d="M109.7,278.4 v-3.4"/>
<path d="M164.0,278.4 v-3.4"/>
<path d="M218.2,278.4 v-3.4"/>
<path d="M272.5,278.4 v-3.4"/>
<path d="M326.7,278.4 v-3.4"/>
</g>
<g stroke="#8a8a8a" fill="none">
<path stroke="#6a6a6a" stroke-width="1.1" d="M419.6,43.0 V277.0"/>
<path stroke-width="1.1" d="M419.1,277.0 H700.0"/>
</g>
<g stroke="#6a6a6a" stroke-width="1" fill="none">
<path d="M419.6,218.6 h3.2"/>
<path d="M419.6,160.2 h3.2"/>
<path d="M419.6,101.9 h3.2"/>
<path d="M419.6,43.5 h3.2"/>
<path d="M472.8,277.0 v-3.4"/>
<path d="M526.1,277.0 v-3.4"/>
<path d="M579.4,277.0 v-3.4"/>
<path d="M632.7,277.0 v-3.4"/>
<path d="M686.0,277.0 v-3.4"/>
</g>
<g font-family="'Liberation Serif',serif" font-size="14" fill="#000" stroke="#000" stroke-width="0.2" text-anchor="middle">
<text x="503.4" y="262.3">5°</text>
<text x="520.8" y="232.5">15°</text>
<text x="528.8" y="208.9">25°</text>
<text x="540.8" y="188.1">35°</text>
<text x="547.6" y="169.3">45°</text>
<text x="556.0" y="151.7">55°</text>
<text x="578.0" y="160.3">65°</text>
<text x="599.3" y="172.7">75°</text>
<text x="619.5" y="182.9">85°</text>
<text x="640.7" y="194.3">95°</text>
</g>
<g font-family="'Liberation Serif',serif" font-size="16" fill="#000" stroke="#000" stroke-width="0.2">
<text x="50.0" y="284.1" text-anchor="end">0</text>
<text x="50.0" y="225.7" text-anchor="end">50</text>
<text x="50.0" y="167.7" text-anchor="end">100</text>
<text x="50.0" y="109.7" text-anchor="end">150</text>
<text x="50.0" y="51.7" text-anchor="end">200</text>
<text x="55.7" y="298.3" text-anchor="middle">0</text>
<text x="109.9" y="298.3" text-anchor="middle">0.2</text>
<text x="164.2" y="298.3" text-anchor="middle">0.4</text>
<text x="218.4" y="298.3" text-anchor="middle">0.6</text>
<text x="272.7" y="298.3" text-anchor="middle">0.8</text>
<text x="326.9" y="298.3" text-anchor="middle">1</text>
</g>
<g font-family="'Liberation Serif',serif" font-size="16" fill="#000" stroke="#000" stroke-width="0.2">
<text x="413.6" y="282.7" text-anchor="end">0</text>
<text x="413.6" y="224.3" text-anchor="end">50</text>
<text x="413.6" y="165.9" text-anchor="end">100</text>
<text x="413.6" y="107.6" text-anchor="end">150</text>
<text x="413.6" y="49.2" text-anchor="end">200</text>
<text x="419.7" y="297.7" text-anchor="middle">0</text>
<text x="473.0" y="297.7" text-anchor="middle">0.2</text>
<text x="526.3" y="297.7" text-anchor="middle">0.4</text>
<text x="579.6" y="297.7" text-anchor="middle">0.6</text>
<text x="632.9" y="297.7" text-anchor="middle">0.8</text>
<text x="686.2" y="297.7" text-anchor="middle">1</text>
</g>
<g font-family="'Liberation Serif',serif" fill="#000" stroke="#000" stroke-width="0.2">
<text x="0.6" y="21" font-size="30">A</text>
<text x="351.6" y="22.1" font-size="30.5">B</text>
<text x="60.8" y="49.4" font-size="16">Experimental velocities</text>
<text x="426" y="47.9" font-size="16">Simulated velocities</text>
<text x="199.6" y="317" font-size="20" text-anchor="middle">Time (s)</text>
<text x="563.4" y="316.7" font-size="20" text-anchor="middle">Time (s)</text>
<text transform="translate(17,153) rotate(-90)" font-size="20.3" text-anchor="middle">Velocity (deg/s)</text>
<text transform="translate(382.5,136.5) rotate(-90)" font-size="20" text-anchor="middle">Velocity (deg/s)</text>
</g>
</svg>
</body>
</html>
